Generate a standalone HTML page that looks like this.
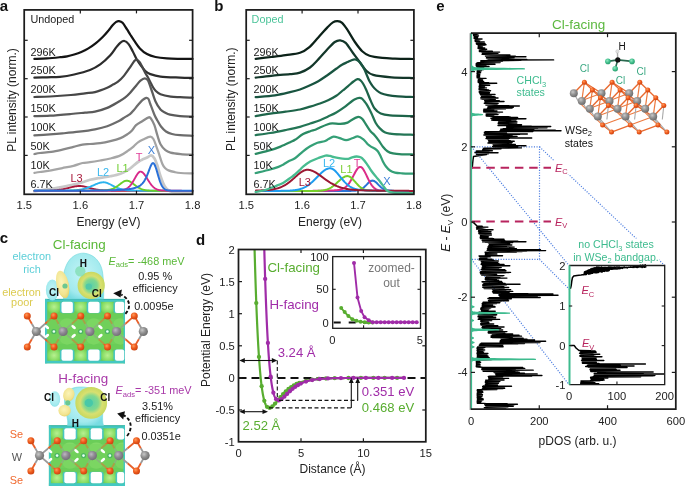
<!DOCTYPE html><html><head><meta charset="utf-8"><style>html,body{margin:0;padding:0;background:#fff;}svg{display:block;will-change:transform;}text{font-family:"Liberation Sans",sans-serif;}</style></head><body><svg width="685" height="492" viewBox="0 0 685 492" font-family="'Liberation Sans', sans-serif">
<rect width="685" height="492" fill="#fff"/>
<defs>
<radialGradient id="gW" cx="0.38" cy="0.35" r="0.7"><stop offset="0" stop-color="#c8c8c8"/><stop offset="0.5" stop-color="#8f8f8f"/><stop offset="1" stop-color="#6a6a6a"/></radialGradient>
<radialGradient id="gSe" cx="0.38" cy="0.35" r="0.7"><stop offset="0" stop-color="#ff9a5a"/><stop offset="0.5" stop-color="#ee5a1c"/><stop offset="1" stop-color="#c84010"/></radialGradient>
<radialGradient id="gCl" cx="0.38" cy="0.35" r="0.7"><stop offset="0" stop-color="#8fe8c0"/><stop offset="0.6" stop-color="#3cba88"/><stop offset="1" stop-color="#2a9a6a"/></radialGradient>
<radialGradient id="gGreen" cx="0.5" cy="0.5" r="0.6"><stop offset="0" stop-color="#b8f090"/><stop offset="0.6" stop-color="#86dc62"/><stop offset="1" stop-color="#5cc64a"/></radialGradient>
<radialGradient id="gCyan" cx="0.5" cy="0.45" r="0.6"><stop offset="0" stop-color="#c4f4f6"/><stop offset="0.75" stop-color="#a2eaee"/><stop offset="1" stop-color="#78dce2"/></radialGradient>
<radialGradient id="gYel" cx="0.45" cy="0.4" r="0.65"><stop offset="0" stop-color="#fbf4b8"/><stop offset="0.7" stop-color="#f2e490"/><stop offset="1" stop-color="#e2d066"/></radialGradient>
<radialGradient id="gRing" cx="0.5" cy="0.5" r="0.5"><stop offset="0" stop-color="#5cd0a8"/><stop offset="0.45" stop-color="#80d890"/><stop offset="0.7" stop-color="#d8e070"/><stop offset="1" stop-color="#c8d860"/></radialGradient>
<marker id="ah" viewBox="0 0 10 10" refX="9" refY="5" markerWidth="5" markerHeight="5" orient="auto-start-reverse"><path d="M0,0 L10,5 L0,10 z" fill="#111"/></marker>
</defs>
<text x="-0.3" y="10.8" font-size="15" fill="#111" text-anchor="start" font-weight="bold" font-style="normal" >a</text>
<text x="214.3" y="11" font-size="15" fill="#111" text-anchor="start" font-weight="bold" font-style="normal" >b</text>
<text x="-0.3" y="242.6" font-size="15" fill="#111" text-anchor="start" font-weight="bold" font-style="normal" >c</text>
<text x="196" y="245.3" font-size="15" fill="#111" text-anchor="start" font-weight="bold" font-style="normal" >d</text>
<text x="436.3" y="11" font-size="15" fill="#111" text-anchor="start" font-weight="bold" font-style="normal" >e</text>
<path d="M34.4,58.9 C36.5,58.82 42.73,58.68 47,58.4 C51.27,58.12 56.65,57.55 60,57.2 C63.35,56.85 64.73,56.75 67.1,56.3 C69.47,55.85 71.83,55.22 74.2,54.5 C76.57,53.78 78.93,53.02 81.3,52 C83.67,50.98 86.02,49.83 88.4,48.4 C90.78,46.97 93.22,45.3 95.6,43.4 C97.98,41.5 100.57,39.13 102.7,37 C104.83,34.87 106.75,32.57 108.4,30.6 C110.05,28.63 111.3,26.65 112.6,25.2 C113.9,23.75 115.13,22.58 116.2,21.9 C117.27,21.22 117.93,20.95 119,21.1 C120.07,21.25 121.28,21.45 122.6,22.8 C123.92,24.15 125.58,27.17 126.9,29.2 C128.22,31.23 129.28,33.1 130.5,35 C131.72,36.9 132.63,38.37 134.2,40.6 C135.77,42.83 137.77,46.15 139.9,48.4 C142.03,50.65 144.4,52.67 147,54.1 C149.6,55.53 152.18,56.28 155.5,57 C158.82,57.72 162.82,58.1 166.9,58.4 C170.98,58.7 175.73,58.72 180,58.8 C184.27,58.88 190.42,58.88 192.5,58.9" fill="none" stroke="#141414" stroke-width="2.25" stroke-linejoin="round" stroke-linecap="round" />
<path d="M34.4,77.6 C36.5,77.55 42.73,77.42 47,77.3 C51.27,77.18 55.47,77.37 60,76.9 C64.53,76.43 69.2,75.65 74.2,74.5 C79.2,73.35 85.67,71.68 90,70 C94.33,68.32 96.82,66.87 100.2,64.4 C103.58,61.93 107.6,58.08 110.3,55.2 C113,52.32 114.7,49.2 116.4,47.1 C118.1,45 119.17,43.62 120.5,42.6 C121.83,41.58 123.05,40.75 124.4,41 C125.75,41.25 127.22,42.4 128.6,44.1 C129.98,45.8 131.35,48.67 132.7,51.2 C134.05,53.73 135.48,57.1 136.7,59.3 C137.92,61.5 138.52,62.42 140,64.4 C141.48,66.38 143.88,69.58 145.6,71.2 C147.32,72.82 147.82,73.2 150.3,74.1 C152.78,75 155.55,76.02 160.5,76.6 C165.45,77.18 174.67,77.38 180,77.6 C185.33,77.82 190.42,77.85 192.5,77.9" fill="none" stroke="#2c2c2c" stroke-width="2.25" stroke-linejoin="round" stroke-linecap="round" />
<path d="M34.4,97 C37,96.92 43.92,96.83 50,96.5 C56.08,96.17 65.07,95.53 70.9,95 C76.73,94.47 80.98,93.78 85,93.3 C89.02,92.82 91.3,93.02 95,92.1 C98.7,91.18 104.2,89.05 107.2,87.8 C110.2,86.55 111.2,85.62 113,84.6 C114.8,83.58 116.15,83.2 118,81.7 C119.85,80.2 122.07,78.03 124.1,75.6 C126.13,73.17 128.57,69.43 130.2,67.1 C131.83,64.77 132.88,62.87 133.9,61.6 C134.92,60.33 135.4,59.5 136.3,59.5 C137.2,59.5 138.28,60.33 139.3,61.6 C140.32,62.87 141.38,65.17 142.4,67.1 C143.42,69.03 144.47,71.47 145.4,73.2 C146.33,74.93 147.18,76.03 148,77.5 C148.82,78.97 149.53,80.5 150.3,82 C151.07,83.5 151.75,85.08 152.6,86.5 C153.45,87.92 154.08,89.22 155.4,90.5 C156.72,91.78 157.95,93.18 160.5,94.2 C163.05,95.22 167.45,96.1 170.7,96.6 C173.95,97.1 176.37,97.03 180,97.2 C183.63,97.37 190.42,97.53 192.5,97.6" fill="none" stroke="#464646" stroke-width="2.25" stroke-linejoin="round" stroke-linecap="round" />
<path d="M34.4,116.2 C37,116.12 43.92,116.07 50,115.7 C56.08,115.33 65.07,114.52 70.9,114 C76.73,113.48 80.98,113 85,112.6 C89.02,112.2 91.3,112.38 95,111.6 C98.7,110.82 103.13,109.63 107.2,107.9 C111.27,106.17 116.43,102.92 119.4,101.2 C122.37,99.48 123.2,99.02 125,97.6 C126.8,96.18 128.32,94.73 130.2,92.7 C132.08,90.67 134.58,87.42 136.3,85.4 C138.02,83.38 139.08,81.77 140.5,80.6 C141.92,79.43 143.55,78.42 144.8,78.4 C146.05,78.38 146.93,78.73 148,80.5 C149.07,82.27 149.97,85.55 151.2,89 C152.43,92.45 153.85,97.78 155.4,101.2 C156.95,104.62 158.85,107.57 160.5,109.5 C162.15,111.43 163.72,111.93 165.3,112.8 C166.88,113.67 167.55,114.15 170,114.7 C172.45,115.25 176.25,115.78 180,116.1 C183.75,116.42 190.42,116.52 192.5,116.6" fill="none" stroke="#5a5a5a" stroke-width="2.25" stroke-linejoin="round" stroke-linecap="round" />
<path d="M34.4,135.4 C37,135.23 45.33,134.73 50,134.4 C54.67,134.07 57.55,133.85 62.4,133.4 C67.25,132.95 73.67,132.38 79.1,131.7 C84.53,131.02 90.32,130.22 95,129.3 C99.68,128.38 103.13,127.63 107.2,126.2 C111.27,124.77 116.43,122.22 119.4,120.7 C122.37,119.18 123.23,118.18 125,117.1 C126.77,116.02 128.52,115.38 130,114.2 C131.48,113.02 132.57,111.53 133.9,110 C135.23,108.47 136.58,106.63 138,105 C139.42,103.37 141.03,101.4 142.4,100.2 C143.77,99 145.18,98 146.2,97.8 C147.22,97.6 147.82,97.97 148.5,99 C149.18,100.03 149.32,101.38 150.3,104 C151.28,106.62 153.22,111.95 154.4,114.7 C155.58,117.45 156.3,118.53 157.4,120.5 C158.5,122.47 159.57,124.67 161,126.5 C162.43,128.33 164.17,130.25 166,131.5 C167.83,132.75 169.67,133.38 172,134 C174.33,134.62 176.58,134.9 180,135.2 C183.42,135.5 190.42,135.7 192.5,135.8" fill="none" stroke="#6c6c6c" stroke-width="2.25" stroke-linejoin="round" stroke-linecap="round" />
<path d="M34.4,154 C35.33,153.83 37.2,153.35 40,153 C42.8,152.65 47.47,152.47 51.2,151.9 C54.93,151.33 58.68,150.45 62.4,149.6 C66.12,148.75 70.15,147.63 73.5,146.8 C76.85,145.97 79.75,145.07 82.5,144.6 C85.25,144.13 87.05,144.23 90,144 C92.95,143.77 96.82,143.67 100.2,143.2 C103.58,142.73 106.92,142.05 110.3,141.2 C113.68,140.35 117.62,139.28 120.5,138.1 C123.38,136.92 125.68,135.37 127.6,134.1 C129.52,132.83 130.58,131.98 132,130.5 C133.42,129.02 134.4,126.75 136.1,125.2 C137.8,123.65 140.08,122.52 142.2,121.2 C144.32,119.88 147.28,117.65 148.8,117.3 C150.32,116.95 150.37,117.78 151.3,119.1 C152.23,120.42 153.38,122.48 154.4,125.2 C155.42,127.92 156.38,132.23 157.4,135.4 C158.42,138.57 159.17,141.75 160.5,144.2 C161.83,146.65 163.73,148.7 165.4,150.1 C167.07,151.5 167.95,151.93 170.5,152.6 C173.05,153.27 177.03,153.73 180.7,154.1 C184.37,154.47 190.53,154.68 192.5,154.8" fill="none" stroke="#8a8a8a" stroke-width="2.25" stroke-linejoin="round" stroke-linecap="round" />
<path d="M34.4,172.9 C35.33,172.75 37.2,172.43 40,172 C42.8,171.57 47.47,170.95 51.2,170.3 C54.93,169.65 58.68,168.85 62.4,168.1 C66.12,167.35 70.15,166.65 73.5,165.8 C76.85,164.95 79.75,163.6 82.5,163 C85.25,162.4 87.05,162.62 90,162.2 C92.95,161.78 96.82,161.12 100.2,160.5 C103.58,159.88 106.92,159.35 110.3,158.5 C113.68,157.65 117.45,156.77 120.5,155.4 C123.55,154.03 126.4,151.82 128.6,150.3 C130.8,148.78 132.13,147.63 133.7,146.3 C135.27,144.97 136.42,143.43 138,142.3 C139.58,141.17 141.15,140.45 143.2,139.5 C145.25,138.55 148.6,136.68 150.3,136.6 C152,136.52 152.38,137.33 153.4,139 C154.42,140.67 155.42,143.97 156.4,146.6 C157.38,149.23 158.3,151.9 159.3,154.8 C160.3,157.7 161.45,161.8 162.4,164 C163.35,166.2 163.98,166.93 165,168 C166.02,169.07 166.83,169.7 168.5,170.4 C170.17,171.1 172.97,171.77 175,172.2 C177.03,172.63 177.78,172.8 180.7,173 C183.62,173.2 190.53,173.33 192.5,173.4" fill="none" stroke="#a6a6a6" stroke-width="2.25" stroke-linejoin="round" stroke-linecap="round" />
<path d="M34.4,191.2 C36.67,190.9 43.73,190.03 48,189.4 C52.27,188.77 56.33,188.1 60,187.4 C63.67,186.7 66.67,185.93 70,185.2 C73.33,184.47 76.67,183.9 80,183 C83.33,182.1 86.63,180.67 90,179.8 C93.37,178.93 96.82,178.4 100.2,177.8 C103.58,177.2 106.92,176.88 110.3,176.2 C113.68,175.52 117.45,174.8 120.5,173.7 C123.55,172.6 126.23,171.12 128.6,169.6 C130.97,168.08 133,165.95 134.7,164.6 C136.4,163.25 137.58,162.3 138.8,161.5 C140.02,160.7 140.72,160.42 142,159.8 C143.28,159.18 144.97,158.53 146.5,157.8 C148.03,157.07 149.87,155.28 151.2,155.4 C152.53,155.52 153.48,156.85 154.5,158.5 C155.52,160.15 156.33,162.47 157.3,165.3 C158.27,168.13 159.12,172.1 160.3,175.5 C161.48,178.9 162.87,183.13 164.4,185.7 C165.93,188.27 166.78,189.78 169.5,190.9 C172.22,192.02 176.87,192.12 180.7,192.4 C184.53,192.68 190.53,192.57 192.5,192.6" fill="none" stroke="#c8c8c8" stroke-width="2.7" stroke-linejoin="round" stroke-linecap="round" />
<path d="M34.5,190.79 L35,190.78 L35.5,190.78 L36,190.78 L36.5,190.78 L37,190.77 L37.5,190.77 L38,190.77 L38.5,190.76 L39,190.76 L39.5,190.75 L40,190.75 L40.5,190.75 L41,190.74 L41.5,190.74 L42,190.73 L42.5,190.73 L43,190.72 L43.5,190.71 L44,190.71 L44.5,190.7 L45,190.69 L45.5,190.68 L46,190.67 L46.5,190.66 L47,190.65 L47.5,190.64 L48,190.63 L48.5,190.61 L49,190.6 L49.5,190.58 L50,190.56 L50.5,190.55 L51,190.52 L51.5,190.5 L52,190.48 L52.5,190.45 L53,190.42 L53.5,190.39 L54,190.36 L54.5,190.32 L55,190.28 L55.5,190.24 L56,190.2 L56.5,190.15 L57,190.1 L57.5,190.05 L58,189.99 L58.5,189.93 L59,189.87 L59.5,189.8 L60,189.73 L60.5,189.65 L61,189.57 L61.5,189.49 L62,189.4 L62.5,189.31 L63,189.21 L63.5,189.12 L64,189.01 L64.5,188.91 L65,188.8 L65.5,188.68 L66,188.57 L66.5,188.45 L67,188.33 L67.5,188.21 L68,188.08 L68.5,187.96 L69,187.83 L69.5,187.7 L70,187.57 L70.5,187.45 L71,187.32 L71.5,187.2 L72,187.07 L72.5,186.95 L73,186.84 L73.5,186.73 L74,186.62 L74.5,186.52 L75,186.43 L75.5,186.34 L76,186.27 L76.5,186.2 L77,186.14 L77.5,186.09 L78,186.05 L78.5,186.02 L79,186.01 L79.5,186 L80,186.01 L80.5,186.03 L81,186.06 L81.5,186.11 L82,186.16 L82.5,186.23 L83,186.31 L83.5,186.4 L84,186.5 L84.5,186.61 L85,186.72 L85.5,186.84 L86,186.96 L86.5,187.09 L87,187.23 L87.5,187.36 L88,187.5 L88.5,187.64 L89,187.77 L89.5,187.91 L90,188.05 L90.5,188.19 L91,188.32 L91.5,188.45 L92,188.58 L92.5,188.7 L93,188.82 L93.5,188.94 L94,189.06 L94.5,189.17 L95,189.27 L95.5,189.37 L96,189.47 L96.5,189.56 L97,189.64 L97.5,189.73 L98,189.8 L98.5,189.88 L99,189.95 L99.5,190.01 L100,190.07 L100.5,190.13 L101,190.18 L101.5,190.23 L102,190.27 L102.5,190.32 L103,190.36 L103.5,190.39 L104,190.42 L104.5,190.46 L105,190.48 L105.5,190.51 L106,190.53 L106.5,190.55 L107,190.57 L107.5,190.59 L108,190.61 L108.5,190.63 L109,190.64 L109.5,190.65 L110,190.66 L110.5,190.67 L111,190.68 L111.5,190.69 L112,190.7 L112.5,190.71 L113,190.72 L113.5,190.72 L114,190.73 L114.5,190.74 L115,190.74 L115.5,190.75 L116,190.75 L116.5,190.76 L117,190.76 L117.5,190.76 L118,190.77 L118.5,190.77 L119,190.77 L119.5,190.78 L120,190.78 L120.5,190.78 L121,190.79 L121.5,190.79 L122,190.79 L122.5,190.79 L123,190.8 L123.5,190.8 L124,190.8 L124.5,190.8 L125,190.8 L125.5,190.81 L126,190.81 L126.5,190.81 L127,190.81 L127.5,190.81 L128,190.82 L128.5,190.82 L129,190.82 L129.5,190.82 L130,190.82 L130.5,190.82 L131,190.82 L131.5,190.83 L132,190.83 L132.5,190.83 L133,190.83 L133.5,190.83 L134,190.83 L134.5,190.83 L135,190.83 L135.5,190.84 L136,190.84 L136.5,190.84 L137,190.84 L137.5,190.84 L138,190.84 L138.5,190.84 L139,190.84 L139.5,190.84 L140,190.84 L140.5,190.85 L141,190.85 L141.5,190.85 L142,190.85 L142.5,190.85 L143,190.85 L143.5,190.85 L144,190.85 L144.5,190.85 L145,190.85 L145.5,190.85 L146,190.85 L146.5,190.85 L147,190.85 L147.5,190.86 L148,190.86 L148.5,190.86 L149,190.86 L149.5,190.86 L150,190.86 L150.5,190.86 L151,190.86 L151.5,190.86 L152,190.86 L152.5,190.86 L153,190.86 L153.5,190.86 L154,190.86 L154.5,190.86 L155,190.86 L155.5,190.86 L156,190.86 L156.5,190.87 L157,190.87 L157.5,190.87 L158,190.87 L158.5,190.87 L159,190.87 L159.5,190.87 L160,190.87 L160.5,190.87 L161,190.87 L161.5,190.87 L162,190.87 L162.5,190.87 L163,190.87 L163.5,190.87 L164,190.87 L164.5,190.87 L165,190.87 L165.5,190.87 L166,190.87 L166.5,190.87 L167,190.87 L167.5,190.87 L168,190.87 L168.5,190.87 L169,190.87 L169.5,190.87 L170,190.87 L170.5,190.87 L171,190.88 L171.5,190.88 L172,190.88 L172.5,190.88 L173,190.88 L173.5,190.88 L174,190.88 L174.5,190.88 L175,190.88 L175.5,190.88 L176,190.88 L176.5,190.88 L177,190.88 L177.5,190.88 L178,190.88 L178.5,190.88 L179,190.88 L179.5,190.88 L180,190.88 L180.5,190.88 L181,190.88 L181.5,190.88 L182,190.88 L182.5,190.88 L183,190.88 L183.5,190.88 L184,190.88 L184.5,190.88 L185,190.88 L185.5,190.88 L186,190.88 L186.5,190.88 L187,190.88 L187.5,190.88 L188,190.88 L188.5,190.88 L189,190.88 L189.5,190.88 L190,190.88 L190.5,190.88 L191,190.88 L191.5,190.88 L192,190.88 L192.5,190.88" fill="none" stroke="#a8183a" stroke-width="1.9" stroke-linejoin="round" stroke-linecap="round" />
<path d="M34.5,190.81 L35,190.81 L35.5,190.81 L36,190.81 L36.5,190.81 L37,190.81 L37.5,190.8 L38,190.8 L38.5,190.8 L39,190.8 L39.5,190.8 L40,190.8 L40.5,190.79 L41,190.79 L41.5,190.79 L42,190.79 L42.5,190.79 L43,190.79 L43.5,190.78 L44,190.78 L44.5,190.78 L45,190.78 L45.5,190.78 L46,190.77 L46.5,190.77 L47,190.77 L47.5,190.77 L48,190.77 L48.5,190.76 L49,190.76 L49.5,190.76 L50,190.76 L50.5,190.75 L51,190.75 L51.5,190.75 L52,190.75 L52.5,190.74 L53,190.74 L53.5,190.74 L54,190.73 L54.5,190.73 L55,190.73 L55.5,190.72 L56,190.72 L56.5,190.72 L57,190.71 L57.5,190.71 L58,190.7 L58.5,190.7 L59,190.7 L59.5,190.69 L60,190.69 L60.5,190.68 L61,190.68 L61.5,190.67 L62,190.66 L62.5,190.66 L63,190.65 L63.5,190.65 L64,190.64 L64.5,190.63 L65,190.62 L65.5,190.61 L66,190.6 L66.5,190.59 L67,190.58 L67.5,190.57 L68,190.56 L68.5,190.55 L69,190.53 L69.5,190.52 L70,190.5 L70.5,190.48 L71,190.47 L71.5,190.44 L72,190.42 L72.5,190.4 L73,190.37 L73.5,190.34 L74,190.31 L74.5,190.28 L75,190.24 L75.5,190.2 L76,190.16 L76.5,190.11 L77,190.06 L77.5,190.01 L78,189.95 L78.5,189.89 L79,189.82 L79.5,189.75 L80,189.67 L80.5,189.59 L81,189.5 L81.5,189.41 L82,189.31 L82.5,189.2 L83,189.09 L83.5,188.97 L84,188.84 L84.5,188.71 L85,188.57 L85.5,188.42 L86,188.27 L86.5,188.11 L87,187.94 L87.5,187.77 L88,187.59 L88.5,187.4 L89,187.21 L89.5,187.01 L90,186.81 L90.5,186.6 L91,186.39 L91.5,186.17 L92,185.95 L92.5,185.73 L93,185.51 L93.5,185.28 L94,185.06 L94.5,184.84 L95,184.62 L95.5,184.4 L96,184.18 L96.5,183.98 L97,183.77 L97.5,183.58 L98,183.39 L98.5,183.22 L99,183.06 L99.5,182.91 L100,182.77 L100.5,182.65 L101,182.54 L101.5,182.46 L102,182.39 L102.5,182.34 L103,182.31 L103.5,182.3 L104,182.31 L104.5,182.36 L105,182.42 L105.5,182.52 L106,182.64 L106.5,182.78 L107,182.95 L107.5,183.13 L108,183.33 L108.5,183.55 L109,183.77 L109.5,184.01 L110,184.26 L110.5,184.52 L111,184.78 L111.5,185.04 L112,185.3 L112.5,185.57 L113,185.83 L113.5,186.09 L114,186.35 L114.5,186.6 L115,186.85 L115.5,187.08 L116,187.31 L116.5,187.54 L117,187.75 L117.5,187.96 L118,188.15 L118.5,188.34 L119,188.52 L119.5,188.68 L120,188.84 L120.5,188.99 L121,189.13 L121.5,189.26 L122,189.38 L122.5,189.49 L123,189.6 L123.5,189.69 L124,189.78 L124.5,189.86 L125,189.94 L125.5,190.01 L126,190.07 L126.5,190.13 L127,190.18 L127.5,190.23 L128,190.27 L128.5,190.31 L129,190.35 L129.5,190.38 L130,190.41 L130.5,190.44 L131,190.47 L131.5,190.49 L132,190.51 L132.5,190.53 L133,190.54 L133.5,190.56 L134,190.57 L134.5,190.59 L135,190.6 L135.5,190.61 L136,190.62 L136.5,190.63 L137,190.64 L137.5,190.65 L138,190.66 L138.5,190.66 L139,190.67 L139.5,190.68 L140,190.68 L140.5,190.69 L141,190.69 L141.5,190.7 L142,190.7 L142.5,190.71 L143,190.71 L143.5,190.72 L144,190.72 L144.5,190.73 L145,190.73 L145.5,190.73 L146,190.74 L146.5,190.74 L147,190.74 L147.5,190.75 L148,190.75 L148.5,190.75 L149,190.76 L149.5,190.76 L150,190.76 L150.5,190.77 L151,190.77 L151.5,190.77 L152,190.77 L152.5,190.78 L153,190.78 L153.5,190.78 L154,190.78 L154.5,190.79 L155,190.79 L155.5,190.79 L156,190.79 L156.5,190.79 L157,190.8 L157.5,190.8 L158,190.8 L158.5,190.8 L159,190.8 L159.5,190.8 L160,190.81 L160.5,190.81 L161,190.81 L161.5,190.81 L162,190.81 L162.5,190.81 L163,190.81 L163.5,190.82 L164,190.82 L164.5,190.82 L165,190.82 L165.5,190.82 L166,190.82 L166.5,190.82 L167,190.82 L167.5,190.83 L168,190.83 L168.5,190.83 L169,190.83 L169.5,190.83 L170,190.83 L170.5,190.83 L171,190.83 L171.5,190.83 L172,190.84 L172.5,190.84 L173,190.84 L173.5,190.84 L174,190.84 L174.5,190.84 L175,190.84 L175.5,190.84 L176,190.84 L176.5,190.84 L177,190.84 L177.5,190.84 L178,190.84 L178.5,190.85 L179,190.85 L179.5,190.85 L180,190.85 L180.5,190.85 L181,190.85 L181.5,190.85 L182,190.85 L182.5,190.85 L183,190.85 L183.5,190.85 L184,190.85 L184.5,190.85 L185,190.85 L185.5,190.85 L186,190.85 L186.5,190.86 L187,190.86 L187.5,190.86 L188,190.86 L188.5,190.86 L189,190.86 L189.5,190.86 L190,190.86 L190.5,190.86 L191,190.86 L191.5,190.86 L192,190.86 L192.5,190.86" fill="none" stroke="#2bb3ee" stroke-width="1.9" stroke-linejoin="round" stroke-linecap="round" />
<path d="M34.5,190.87 L35,190.87 L35.5,190.87 L36,190.87 L36.5,190.87 L37,190.87 L37.5,190.87 L38,190.87 L38.5,190.87 L39,190.87 L39.5,190.87 L40,190.87 L40.5,190.87 L41,190.87 L41.5,190.87 L42,190.87 L42.5,190.87 L43,190.87 L43.5,190.86 L44,190.86 L44.5,190.86 L45,190.86 L45.5,190.86 L46,190.86 L46.5,190.86 L47,190.86 L47.5,190.86 L48,190.86 L48.5,190.86 L49,190.86 L49.5,190.86 L50,190.86 L50.5,190.86 L51,190.86 L51.5,190.86 L52,190.86 L52.5,190.86 L53,190.86 L53.5,190.85 L54,190.85 L54.5,190.85 L55,190.85 L55.5,190.85 L56,190.85 L56.5,190.85 L57,190.85 L57.5,190.85 L58,190.85 L58.5,190.85 L59,190.85 L59.5,190.85 L60,190.85 L60.5,190.84 L61,190.84 L61.5,190.84 L62,190.84 L62.5,190.84 L63,190.84 L63.5,190.84 L64,190.84 L64.5,190.84 L65,190.84 L65.5,190.84 L66,190.83 L66.5,190.83 L67,190.83 L67.5,190.83 L68,190.83 L68.5,190.83 L69,190.83 L69.5,190.83 L70,190.83 L70.5,190.82 L71,190.82 L71.5,190.82 L72,190.82 L72.5,190.82 L73,190.82 L73.5,190.82 L74,190.81 L74.5,190.81 L75,190.81 L75.5,190.81 L76,190.81 L76.5,190.81 L77,190.8 L77.5,190.8 L78,190.8 L78.5,190.8 L79,190.8 L79.5,190.79 L80,190.79 L80.5,190.79 L81,190.79 L81.5,190.78 L82,190.78 L82.5,190.78 L83,190.78 L83.5,190.77 L84,190.77 L84.5,190.77 L85,190.76 L85.5,190.76 L86,190.76 L86.5,190.75 L87,190.75 L87.5,190.75 L88,190.74 L88.5,190.74 L89,190.74 L89.5,190.73 L90,190.73 L90.5,190.72 L91,190.72 L91.5,190.71 L92,190.71 L92.5,190.7 L93,190.7 L93.5,190.69 L94,190.69 L94.5,190.68 L95,190.67 L95.5,190.66 L96,190.66 L96.5,190.65 L97,190.64 L97.5,190.63 L98,190.62 L98.5,190.61 L99,190.6 L99.5,190.59 L100,190.57 L100.5,190.56 L101,190.54 L101.5,190.53 L102,190.51 L102.5,190.49 L103,190.46 L103.5,190.43 L104,190.4 L104.5,190.37 L105,190.33 L105.5,190.29 L106,190.24 L106.5,190.19 L107,190.13 L107.5,190.06 L108,189.98 L108.5,189.9 L109,189.8 L109.5,189.7 L110,189.58 L110.5,189.45 L111,189.31 L111.5,189.15 L112,188.98 L112.5,188.79 L113,188.59 L113.5,188.37 L114,188.13 L114.5,187.88 L115,187.61 L115.5,187.32 L116,187.01 L116.5,186.69 L117,186.36 L117.5,186.01 L118,185.66 L118.5,185.29 L119,184.91 L119.5,184.53 L120,184.15 L120.5,183.76 L121,183.38 L121.5,183.01 L122,182.66 L122.5,182.31 L123,181.99 L123.5,181.7 L124,181.43 L124.5,181.2 L125,181.01 L125.5,180.87 L126,180.76 L126.5,180.71 L127,180.7 L127.5,180.75 L128,180.83 L128.5,180.96 L129,181.14 L129.5,181.35 L130,181.6 L130.5,181.88 L131,182.19 L131.5,182.52 L132,182.87 L132.5,183.24 L133,183.62 L133.5,184.01 L134,184.4 L134.5,184.8 L135,185.19 L135.5,185.57 L136,185.95 L136.5,186.32 L137,186.67 L137.5,187.01 L138,187.34 L138.5,187.64 L139,187.93 L139.5,188.21 L140,188.46 L140.5,188.7 L141,188.92 L141.5,189.12 L142,189.3 L142.5,189.47 L143,189.62 L143.5,189.76 L144,189.88 L144.5,189.99 L145,190.09 L145.5,190.18 L146,190.25 L146.5,190.32 L147,190.38 L147.5,190.44 L148,190.48 L148.5,190.52 L149,190.56 L149.5,190.59 L150,190.61 L150.5,190.64 L151,190.66 L151.5,190.67 L152,190.69 L152.5,190.7 L153,190.71 L153.5,190.72 L154,190.73 L154.5,190.74 L155,190.75 L155.5,190.76 L156,190.76 L156.5,190.77 L157,190.77 L157.5,190.78 L158,190.78 L158.5,190.78 L159,190.79 L159.5,190.79 L160,190.79 L160.5,190.8 L161,190.8 L161.5,190.8 L162,190.81 L162.5,190.81 L163,190.81 L163.5,190.81 L164,190.82 L164.5,190.82 L165,190.82 L165.5,190.82 L166,190.82 L166.5,190.83 L167,190.83 L167.5,190.83 L168,190.83 L168.5,190.83 L169,190.83 L169.5,190.83 L170,190.84 L170.5,190.84 L171,190.84 L171.5,190.84 L172,190.84 L172.5,190.84 L173,190.84 L173.5,190.85 L174,190.85 L174.5,190.85 L175,190.85 L175.5,190.85 L176,190.85 L176.5,190.85 L177,190.85 L177.5,190.85 L178,190.85 L178.5,190.85 L179,190.86 L179.5,190.86 L180,190.86 L180.5,190.86 L181,190.86 L181.5,190.86 L182,190.86 L182.5,190.86 L183,190.86 L183.5,190.86 L184,190.86 L184.5,190.86 L185,190.86 L185.5,190.86 L186,190.87 L186.5,190.87 L187,190.87 L187.5,190.87 L188,190.87 L188.5,190.87 L189,190.87 L189.5,190.87 L190,190.87 L190.5,190.87 L191,190.87 L191.5,190.87 L192,190.87 L192.5,190.87" fill="none" stroke="#69cf2a" stroke-width="1.9" stroke-linejoin="round" stroke-linecap="round" />
<path d="M34.5,190.87 L35,190.87 L35.5,190.87 L36,190.87 L36.5,190.87 L37,190.87 L37.5,190.87 L38,190.87 L38.5,190.87 L39,190.87 L39.5,190.87 L40,190.87 L40.5,190.87 L41,190.87 L41.5,190.87 L42,190.87 L42.5,190.87 L43,190.87 L43.5,190.87 L44,190.87 L44.5,190.87 L45,190.87 L45.5,190.87 L46,190.87 L46.5,190.87 L47,190.86 L47.5,190.86 L48,190.86 L48.5,190.86 L49,190.86 L49.5,190.86 L50,190.86 L50.5,190.86 L51,190.86 L51.5,190.86 L52,190.86 L52.5,190.86 L53,190.86 L53.5,190.86 L54,190.86 L54.5,190.86 L55,190.86 L55.5,190.86 L56,190.86 L56.5,190.86 L57,190.86 L57.5,190.86 L58,190.86 L58.5,190.85 L59,190.85 L59.5,190.85 L60,190.85 L60.5,190.85 L61,190.85 L61.5,190.85 L62,190.85 L62.5,190.85 L63,190.85 L63.5,190.85 L64,190.85 L64.5,190.85 L65,190.85 L65.5,190.85 L66,190.84 L66.5,190.84 L67,190.84 L67.5,190.84 L68,190.84 L68.5,190.84 L69,190.84 L69.5,190.84 L70,190.84 L70.5,190.84 L71,190.84 L71.5,190.84 L72,190.83 L72.5,190.83 L73,190.83 L73.5,190.83 L74,190.83 L74.5,190.83 L75,190.83 L75.5,190.83 L76,190.83 L76.5,190.83 L77,190.82 L77.5,190.82 L78,190.82 L78.5,190.82 L79,190.82 L79.5,190.82 L80,190.82 L80.5,190.82 L81,190.81 L81.5,190.81 L82,190.81 L82.5,190.81 L83,190.81 L83.5,190.81 L84,190.8 L84.5,190.8 L85,190.8 L85.5,190.8 L86,190.8 L86.5,190.8 L87,190.79 L87.5,190.79 L88,190.79 L88.5,190.79 L89,190.79 L89.5,190.78 L90,190.78 L90.5,190.78 L91,190.78 L91.5,190.77 L92,190.77 L92.5,190.77 L93,190.77 L93.5,190.76 L94,190.76 L94.5,190.76 L95,190.75 L95.5,190.75 L96,190.75 L96.5,190.74 L97,190.74 L97.5,190.74 L98,190.73 L98.5,190.73 L99,190.73 L99.5,190.72 L100,190.72 L100.5,190.71 L101,190.71 L101.5,190.7 L102,190.7 L102.5,190.69 L103,190.69 L103.5,190.68 L104,190.68 L104.5,190.67 L105,190.67 L105.5,190.66 L106,190.65 L106.5,190.64 L107,190.64 L107.5,190.63 L108,190.62 L108.5,190.61 L109,190.6 L109.5,190.6 L110,190.59 L110.5,190.58 L111,190.57 L111.5,190.55 L112,190.54 L112.5,190.53 L113,190.52 L113.5,190.5 L114,190.49 L114.5,190.47 L115,190.46 L115.5,190.44 L116,190.42 L116.5,190.4 L117,190.38 L117.5,190.36 L118,190.33 L118.5,190.3 L119,190.27 L119.5,190.23 L120,190.19 L120.5,190.14 L121,190.09 L121.5,190.03 L122,189.96 L122.5,189.88 L123,189.79 L123.5,189.68 L124,189.56 L124.5,189.42 L125,189.26 L125.5,189.07 L126,188.85 L126.5,188.61 L127,188.33 L127.5,188.01 L128,187.66 L128.5,187.26 L129,186.82 L129.5,186.33 L130,185.79 L130.5,185.21 L131,184.57 L131.5,183.89 L132,183.16 L132.5,182.39 L133,181.58 L133.5,180.74 L134,179.87 L134.5,178.99 L135,178.09 L135.5,177.2 L136,176.32 L136.5,175.48 L137,174.67 L137.5,173.93 L138,173.26 L138.5,172.69 L139,172.22 L139.5,171.88 L140,171.67 L140.5,171.6 L141,171.65 L141.5,171.8 L142,172.05 L142.5,172.39 L143,172.82 L143.5,173.33 L144,173.91 L144.5,174.55 L145,175.24 L145.5,175.98 L146,176.75 L146.5,177.54 L147,178.35 L147.5,179.16 L148,179.97 L148.5,180.78 L149,181.56 L149.5,182.32 L150,183.06 L150.5,183.76 L151,184.43 L151.5,185.06 L152,185.65 L152.5,186.2 L153,186.7 L153.5,187.17 L154,187.59 L154.5,187.98 L155,188.33 L155.5,188.64 L156,188.92 L156.5,189.17 L157,189.39 L157.5,189.58 L158,189.75 L158.5,189.89 L159,190.02 L159.5,190.13 L160,190.23 L160.5,190.31 L161,190.38 L161.5,190.43 L162,190.48 L162.5,190.53 L163,190.56 L163.5,190.59 L164,190.62 L164.5,190.64 L165,190.66 L165.5,190.68 L166,190.69 L166.5,190.7 L167,190.71 L167.5,190.72 L168,190.73 L168.5,190.74 L169,190.74 L169.5,190.75 L170,190.76 L170.5,190.76 L171,190.77 L171.5,190.77 L172,190.77 L172.5,190.78 L173,190.78 L173.5,190.78 L174,190.79 L174.5,190.79 L175,190.79 L175.5,190.8 L176,190.8 L176.5,190.8 L177,190.81 L177.5,190.81 L178,190.81 L178.5,190.81 L179,190.81 L179.5,190.82 L180,190.82 L180.5,190.82 L181,190.82 L181.5,190.82 L182,190.83 L182.5,190.83 L183,190.83 L183.5,190.83 L184,190.83 L184.5,190.83 L185,190.84 L185.5,190.84 L186,190.84 L186.5,190.84 L187,190.84 L187.5,190.84 L188,190.84 L188.5,190.84 L189,190.85 L189.5,190.85 L190,190.85 L190.5,190.85 L191,190.85 L191.5,190.85 L192,190.85 L192.5,190.85" fill="none" stroke="#d8288a" stroke-width="1.9" stroke-linejoin="round" stroke-linecap="round" />
<path d="M34.5,190.82 L35,190.82 L35.5,190.82 L36,190.82 L36.5,190.82 L37,190.82 L37.5,190.82 L38,190.82 L38.5,190.82 L39,190.82 L39.5,190.82 L40,190.81 L40.5,190.81 L41,190.81 L41.5,190.81 L42,190.81 L42.5,190.81 L43,190.81 L43.5,190.81 L44,190.81 L44.5,190.81 L45,190.81 L45.5,190.81 L46,190.81 L46.5,190.8 L47,190.8 L47.5,190.8 L48,190.8 L48.5,190.8 L49,190.8 L49.5,190.8 L50,190.8 L50.5,190.8 L51,190.8 L51.5,190.79 L52,190.79 L52.5,190.79 L53,190.79 L53.5,190.79 L54,190.79 L54.5,190.79 L55,190.79 L55.5,190.79 L56,190.78 L56.5,190.78 L57,190.78 L57.5,190.78 L58,190.78 L58.5,190.78 L59,190.78 L59.5,190.78 L60,190.77 L60.5,190.77 L61,190.77 L61.5,190.77 L62,190.77 L62.5,190.77 L63,190.77 L63.5,190.76 L64,190.76 L64.5,190.76 L65,190.76 L65.5,190.76 L66,190.76 L66.5,190.76 L67,190.75 L67.5,190.75 L68,190.75 L68.5,190.75 L69,190.75 L69.5,190.74 L70,190.74 L70.5,190.74 L71,190.74 L71.5,190.74 L72,190.73 L72.5,190.73 L73,190.73 L73.5,190.73 L74,190.73 L74.5,190.72 L75,190.72 L75.5,190.72 L76,190.72 L76.5,190.72 L77,190.71 L77.5,190.71 L78,190.71 L78.5,190.71 L79,190.7 L79.5,190.7 L80,190.7 L80.5,190.69 L81,190.69 L81.5,190.69 L82,190.69 L82.5,190.68 L83,190.68 L83.5,190.68 L84,190.67 L84.5,190.67 L85,190.67 L85.5,190.66 L86,190.66 L86.5,190.66 L87,190.65 L87.5,190.65 L88,190.64 L88.5,190.64 L89,190.64 L89.5,190.63 L90,190.63 L90.5,190.62 L91,190.62 L91.5,190.62 L92,190.61 L92.5,190.61 L93,190.6 L93.5,190.6 L94,190.59 L94.5,190.59 L95,190.58 L95.5,190.57 L96,190.57 L96.5,190.56 L97,190.56 L97.5,190.55 L98,190.54 L98.5,190.54 L99,190.53 L99.5,190.52 L100,190.52 L100.5,190.51 L101,190.5 L101.5,190.5 L102,190.49 L102.5,190.48 L103,190.47 L103.5,190.46 L104,190.45 L104.5,190.45 L105,190.44 L105.5,190.43 L106,190.42 L106.5,190.41 L107,190.4 L107.5,190.38 L108,190.37 L108.5,190.36 L109,190.35 L109.5,190.34 L110,190.32 L110.5,190.31 L111,190.3 L111.5,190.28 L112,190.27 L112.5,190.25 L113,190.24 L113.5,190.22 L114,190.2 L114.5,190.19 L115,190.17 L115.5,190.15 L116,190.13 L116.5,190.11 L117,190.09 L117.5,190.06 L118,190.04 L118.5,190.02 L119,189.99 L119.5,189.97 L120,189.94 L120.5,189.91 L121,189.88 L121.5,189.85 L122,189.82 L122.5,189.78 L123,189.74 L123.5,189.71 L124,189.67 L124.5,189.63 L125,189.58 L125.5,189.54 L126,189.49 L126.5,189.44 L127,189.39 L127.5,189.33 L128,189.27 L128.5,189.21 L129,189.14 L129.5,189.07 L130,189 L130.5,188.92 L131,188.83 L131.5,188.74 L132,188.65 L132.5,188.55 L133,188.44 L133.5,188.32 L134,188.2 L134.5,188.06 L135,187.92 L135.5,187.76 L136,187.59 L136.5,187.41 L137,187.21 L137.5,187 L138,186.76 L138.5,186.51 L139,186.23 L139.5,185.92 L140,185.58 L140.5,185.21 L141,184.81 L141.5,184.36 L142,183.87 L142.5,183.33 L143,182.74 L143.5,182.09 L144,181.38 L144.5,180.61 L145,179.76 L145.5,178.84 L146,177.85 L146.5,176.78 L147,175.63 L147.5,174.42 L148,173.14 L148.5,171.81 L149,170.45 L149.5,169.08 L150,167.76 L150.5,166.5 L151,165.38 L151.5,164.43 L152,163.71 L152.5,163.25 L153,163.1 L153.5,163.26 L154,163.73 L154.5,164.5 L155,165.53 L155.5,166.79 L156,168.23 L156.5,169.82 L157,171.49 L157.5,173.22 L158,174.95 L158.5,176.66 L159,178.32 L159.5,179.88 L160,181.34 L160.5,182.69 L161,183.91 L161.5,184.99 L162,185.95 L162.5,186.78 L163,187.49 L163.5,188.1 L164,188.6 L164.5,189.02 L165,189.37 L165.5,189.64 L166,189.87 L166.5,190.05 L167,190.19 L167.5,190.3 L168,190.39 L168.5,190.46 L169,190.51 L169.5,190.55 L170,190.59 L170.5,190.61 L171,190.64 L171.5,190.65 L172,190.67 L172.5,190.68 L173,190.69 L173.5,190.7 L174,190.71 L174.5,190.72 L175,190.73 L175.5,190.74 L176,190.74 L176.5,190.75 L177,190.76 L177.5,190.76 L178,190.77 L178.5,190.77 L179,190.78 L179.5,190.78 L180,190.79 L180.5,190.79 L181,190.79 L181.5,190.8 L182,190.8 L182.5,190.8 L183,190.81 L183.5,190.81 L184,190.81 L184.5,190.81 L185,190.82 L185.5,190.82 L186,190.82 L186.5,190.82 L187,190.83 L187.5,190.83 L188,190.83 L188.5,190.83 L189,190.83 L189.5,190.84 L190,190.84 L190.5,190.84 L191,190.84 L191.5,190.84 L192,190.84 L192.5,190.85" fill="none" stroke="#2a70d8" stroke-width="2.0" stroke-linejoin="round" stroke-linecap="round" />
<rect x="24.2" y="9.9" width="168.4" height="184.4" fill="none" stroke="#1c1c1c" stroke-width="1.75"/>
<line x1="80.33" y1="9.9" x2="80.33" y2="13.4" stroke="#1c1c1c" stroke-width="1.2" />
<line x1="80.33" y1="194.3" x2="80.33" y2="190.8" stroke="#1c1c1c" stroke-width="1.2" />
<line x1="136.47" y1="9.9" x2="136.47" y2="13.4" stroke="#1c1c1c" stroke-width="1.2" />
<line x1="136.47" y1="194.3" x2="136.47" y2="190.8" stroke="#1c1c1c" stroke-width="1.2" />
<line x1="24.2" y1="40.3" x2="27.7" y2="40.3" stroke="#1c1c1c" stroke-width="1.2" />
<line x1="192.6" y1="40.3" x2="189.1" y2="40.3" stroke="#1c1c1c" stroke-width="1.2" />
<line x1="24.2" y1="78.7" x2="27.7" y2="78.7" stroke="#1c1c1c" stroke-width="1.2" />
<line x1="192.6" y1="78.7" x2="189.1" y2="78.7" stroke="#1c1c1c" stroke-width="1.2" />
<line x1="24.2" y1="117" x2="27.7" y2="117" stroke="#1c1c1c" stroke-width="1.2" />
<line x1="192.6" y1="117" x2="189.1" y2="117" stroke="#1c1c1c" stroke-width="1.2" />
<line x1="24.2" y1="155.4" x2="27.7" y2="155.4" stroke="#1c1c1c" stroke-width="1.2" />
<line x1="192.6" y1="155.4" x2="189.1" y2="155.4" stroke="#1c1c1c" stroke-width="1.2" />
<text x="24.2" y="208.8" font-size="11.2" fill="#222" text-anchor="middle" font-weight="normal" font-style="normal" >1.5</text>
<text x="80.33" y="208.8" font-size="11.2" fill="#222" text-anchor="middle" font-weight="normal" font-style="normal" >1.6</text>
<text x="136.47" y="208.8" font-size="11.2" fill="#222" text-anchor="middle" font-weight="normal" font-style="normal" >1.7</text>
<text x="192.6" y="208.8" font-size="11.2" fill="#222" text-anchor="middle" font-weight="normal" font-style="normal" >1.8</text>
<text x="108.4" y="225.8" font-size="12" fill="#222" text-anchor="middle" font-weight="normal" font-style="normal" >Energy (eV)</text>
<text transform="translate(15.8,100) rotate(-90)" font-size="12" fill="#222" text-anchor="middle">PL intensity (norm.)</text>
<text x="30.4" y="23.2" font-size="10.8" fill="#222" text-anchor="start" font-weight="normal" font-style="normal" >Undoped</text>
<text x="30.6" y="55.5" font-size="10.8" fill="#1a1a1a" text-anchor="start" font-weight="normal" font-style="normal" >296K</text>
<text x="30.6" y="74.4" font-size="10.8" fill="#1a1a1a" text-anchor="start" font-weight="normal" font-style="normal" >250K</text>
<text x="30.6" y="93.3" font-size="10.8" fill="#1a1a1a" text-anchor="start" font-weight="normal" font-style="normal" >200K</text>
<text x="30.6" y="112.2" font-size="10.8" fill="#1a1a1a" text-anchor="start" font-weight="normal" font-style="normal" >150K</text>
<text x="30.6" y="131.1" font-size="10.8" fill="#1a1a1a" text-anchor="start" font-weight="normal" font-style="normal" >100K</text>
<text x="30.6" y="150" font-size="10.8" fill="#1a1a1a" text-anchor="start" font-weight="normal" font-style="normal" >50K</text>
<text x="30.6" y="168.9" font-size="10.8" fill="#1a1a1a" text-anchor="start" font-weight="normal" font-style="normal" >10K</text>
<text x="30.6" y="187.8" font-size="10.8" fill="#1a1a1a" text-anchor="start" font-weight="normal" font-style="normal" >6.7K</text>
<text x="76.5" y="181.5" font-size="11" fill="#a8183a" text-anchor="middle" font-weight="normal" font-style="normal" >L3</text>
<text x="103" y="175.8" font-size="11" fill="#3ab8ee" text-anchor="middle" font-weight="normal" font-style="normal" >L2</text>
<text x="122.5" y="171.7" font-size="11" fill="#72cf35" text-anchor="middle" font-weight="normal" font-style="normal" >L1</text>
<text x="139.2" y="161.1" font-size="11" fill="#e0409a" text-anchor="middle" font-weight="normal" font-style="normal" >T</text>
<text x="151.4" y="153.6" font-size="11" fill="#3a7fd8" text-anchor="middle" font-weight="normal" font-style="normal" >X</text>
<path d="M255.7,58.8 C258.3,58.5 266.32,57.6 271.3,57 C276.28,56.4 280.82,55.9 285.6,55.2 C290.38,54.5 296.08,54.12 300,52.8 C303.92,51.48 306.05,49.87 309.1,47.3 C312.15,44.73 315.25,40.72 318.3,37.4 C321.35,34.08 324.97,29.9 327.4,27.4 C329.83,24.9 331.22,23.43 332.9,22.4 C334.58,21.37 335.97,21.13 337.5,21.2 C339.03,21.27 340.42,21.32 342.1,22.8 C343.78,24.28 345.47,26.9 347.6,30.1 C349.73,33.3 352.47,38.48 354.9,42 C357.33,45.52 359.77,48.92 362.2,51.2 C364.63,53.48 366.15,54.58 369.5,55.7 C372.85,56.82 378.05,57.42 382.3,57.9 C386.55,58.38 389.8,58.42 395,58.6 C400.2,58.78 410.42,58.93 413.5,59" fill="none" stroke="#0c2219" stroke-width="2.25" stroke-linejoin="round" stroke-linecap="round" />
<path d="M255.7,77.6 C258.3,77.3 265.58,76.38 271.3,75.8 C277.02,75.22 285.22,74.63 290,74.1 C294.78,73.57 296.67,73.7 300,72.6 C303.33,71.5 306.95,69.7 310,67.5 C313.05,65.3 315.4,62.43 318.3,59.4 C321.2,56.37 324.65,52.2 327.4,49.3 C330.15,46.4 332.67,43.5 334.8,42 C336.93,40.5 338.38,40.15 340.2,40.3 C342.02,40.45 343.57,40.78 345.7,42.9 C347.83,45.02 350.55,49.65 353,53 C355.45,56.35 358.25,60.13 360.4,63 C362.55,65.87 363.77,68.22 365.9,70.2 C368.03,72.18 368.93,73.72 373.2,74.9 C377.47,76.08 384.78,76.78 391.5,77.3 C398.22,77.82 409.83,77.88 413.5,78" fill="none" stroke="#13372a" stroke-width="2.25" stroke-linejoin="round" stroke-linecap="round" />
<path d="M255.7,97.1 C258.92,96.8 269.28,96.12 275,95.3 C280.72,94.48 285.83,93.17 290,92.2 C294.17,91.23 296.83,90.57 300,89.5 C303.17,88.43 305.95,87.18 309,85.8 C312.05,84.42 315.3,82.92 318.3,81.2 C321.3,79.48 323.95,77.62 327,75.5 C330.05,73.38 334.1,70.28 336.6,68.5 C339.1,66.72 340.17,65.87 342,64.8 C343.83,63.73 346.02,62.87 347.6,62.1 C349.18,61.33 350.28,60.65 351.5,60.2 C352.72,59.75 353.85,59.33 354.9,59.4 C355.95,59.47 356.88,60 357.8,60.6 C358.72,61.2 359.37,61.63 360.4,63 C361.43,64.37 362.9,66.72 364,68.8 C365.1,70.88 366.08,73.42 367,75.5 C367.92,77.58 368.5,79.45 369.5,81.3 C370.5,83.15 371.78,85.07 373,86.6 C374.22,88.13 375.47,89.4 376.8,90.5 C378.13,91.6 379.17,92.43 381,93.2 C382.83,93.97 384.97,94.58 387.8,95.1 C390.63,95.62 393.72,95.98 398,96.3 C402.28,96.62 410.92,96.88 413.5,97" fill="none" stroke="#185440" stroke-width="2.25" stroke-linejoin="round" stroke-linecap="round" />
<path d="M255.7,116.1 C258.13,115.7 265.32,114.43 270.3,113.7 C275.28,112.97 280.65,112.4 285.6,111.7 C290.55,111 295.9,110.35 300,109.5 C304.1,108.65 306.87,107.6 310.2,106.6 C313.53,105.6 317.02,104.55 320,103.5 C322.98,102.45 325.38,101.58 328.1,100.3 C330.82,99.02 333.87,97.43 336.3,95.8 C338.73,94.17 340.73,92.12 342.7,90.5 C344.67,88.88 346.3,87.6 348.1,86.1 C349.9,84.6 351.93,82.65 353.5,81.5 C355.07,80.35 356.33,79.4 357.5,79.2 C358.67,79 359.58,79.58 360.5,80.3 C361.42,81.02 362.02,81.85 363,83.5 C363.98,85.15 365.15,87.4 366.4,90.2 C367.65,93 369.13,97.25 370.5,100.3 C371.87,103.35 372.9,106.3 374.6,108.5 C376.3,110.7 378.13,112.35 380.7,113.5 C383.27,114.65 384.53,114.95 390,115.4 C395.47,115.85 409.58,116.07 413.5,116.2" fill="none" stroke="#1d6449" stroke-width="2.25" stroke-linejoin="round" stroke-linecap="round" />
<path d="M255.7,135.1 C258.13,134.75 265.32,133.85 270.3,133 C275.28,132.15 280.65,131.03 285.6,130 C290.55,128.97 295.9,127.88 300,126.8 C304.1,125.72 306.87,124.6 310.2,123.5 C313.53,122.4 317.02,121.37 320,120.2 C322.98,119.03 325.38,117.78 328.1,116.5 C330.82,115.22 333.58,114.05 336.3,112.5 C339.02,110.95 341.7,109.17 344.4,107.2 C347.1,105.23 350.33,102.18 352.5,100.7 C354.67,99.22 356.23,98.77 357.4,98.3 C358.57,97.83 358.73,97.85 359.5,97.9 C360.27,97.95 361.17,98 362,98.6 C362.83,99.2 363.6,100.33 364.5,101.5 C365.4,102.67 366.23,103.6 367.4,105.6 C368.57,107.6 370.13,110.65 371.5,113.5 C372.87,116.35 374.25,120.27 375.6,122.7 C376.95,125.13 378.08,126.52 379.6,128.1 C381.12,129.68 382.97,131.28 384.7,132.2 C386.43,133.12 387.45,133.23 390,133.6 C392.55,133.97 396.08,134.2 400,134.4 C403.92,134.6 411.25,134.73 413.5,134.8" fill="none" stroke="#237555" stroke-width="2.25" stroke-linejoin="round" stroke-linecap="round" />
<path d="M255.7,153.8 C258.13,153.2 266.17,151.4 270.3,150.2 C274.43,149 277.1,147.97 280.5,146.6 C283.9,145.23 288.28,143.13 290.7,142 C293.12,140.87 292.93,141.12 295,139.8 C297.07,138.48 300.57,135.53 303.1,134.1 C305.63,132.67 308.17,131.92 310.2,131.2 C312.23,130.48 313.67,130.42 315.3,129.8 C316.93,129.18 318.13,128.35 320,127.5 C321.87,126.65 324.47,125.4 326.5,124.7 C328.53,124 329.9,123.43 332.2,123.3 C334.5,123.17 337.73,124.02 340.3,123.9 C342.87,123.78 345.57,123.35 347.6,122.6 C349.63,121.85 350.87,120.32 352.5,119.4 C354.13,118.48 356.15,117.45 357.4,117.1 C358.65,116.75 359.13,116.93 360,117.3 C360.87,117.67 361.53,118 362.6,119.3 C363.67,120.6 365.08,123.12 366.4,125.1 C367.72,127.08 369.13,129.52 370.5,131.2 C371.87,132.88 373.25,133.68 374.6,135.2 C375.95,136.72 377.22,138.38 378.6,140.3 C379.98,142.22 381.43,144.88 382.9,146.7 C384.37,148.52 385.72,150.08 387.4,151.2 C389.08,152.32 390.58,152.88 393,153.4 C395.42,153.92 398.48,154.12 401.9,154.3 C405.32,154.48 411.57,154.47 413.5,154.5" fill="none" stroke="#2a8a63" stroke-width="2.25" stroke-linejoin="round" stroke-linecap="round" />
<path d="M255.7,173 C258.13,172.42 266.5,170.52 270.3,169.5 C274.1,168.48 276.3,167.75 278.5,166.9 C280.7,166.05 281.82,165.33 283.5,164.4 C285.18,163.47 286.68,162.32 288.6,161.3 C290.52,160.28 292.58,159.97 295,158.3 C297.42,156.63 300.57,153.3 303.1,151.3 C305.63,149.3 307.82,147.73 310.2,146.3 C312.58,144.87 315.02,143.55 317.4,142.7 C319.78,141.85 322.65,141.8 324.5,141.2 C326.35,140.6 326.98,139.87 328.5,139.1 C330.02,138.33 331.73,136.77 333.6,136.6 C335.47,136.43 337.62,137.52 339.7,138.1 C341.78,138.68 344.02,140.07 346.1,140.1 C348.18,140.13 350.25,138.93 352.2,138.3 C354.15,137.67 355.93,136.13 357.8,136.3 C359.67,136.47 361.78,138.02 363.4,139.3 C365.02,140.58 366.3,142.82 367.5,144 C368.7,145.18 369.35,145.6 370.6,146.4 C371.85,147.2 373.77,147.95 375,148.8 C376.23,149.65 377.08,150.3 378,151.5 C378.92,152.7 379.68,154.33 380.5,156 C381.32,157.67 381.98,159.75 382.9,161.5 C383.82,163.25 384.82,165 386,166.5 C387.18,168 388.5,169.48 390,170.5 C391.5,171.52 393,172.13 395,172.6 C397,173.07 398.92,173.13 402,173.3 C405.08,173.47 411.58,173.55 413.5,173.6" fill="none" stroke="#35a077" stroke-width="2.25" stroke-linejoin="round" stroke-linecap="round" />
<path d="M256,191.09 L256.5,191.09 L257,191.09 L257.5,191.09 L258,191.09 L258.5,191.09 L259,191.09 L259.5,191.09 L260,191.09 L260.5,191.09 L261,191.09 L261.5,191.09 L262,191.09 L262.5,191.09 L263,191.09 L263.5,191.09 L264,191.09 L264.5,191.09 L265,191.09 L265.5,191.09 L266,191.09 L266.5,191.09 L267,191.09 L267.5,191.09 L268,191.09 L268.5,191.09 L269,191.09 L269.5,191.09 L270,191.09 L270.5,191.09 L271,191.09 L271.5,191.09 L272,191.09 L272.5,191.09 L273,191.09 L273.5,191.09 L274,191.09 L274.5,191.09 L275,191.09 L275.5,191.09 L276,191.09 L276.5,191.09 L277,191.09 L277.5,191.09 L278,191.09 L278.5,191.09 L279,191.09 L279.5,191.09 L280,191.09 L280.5,191.09 L281,191.09 L281.5,191.09 L282,191.09 L282.5,191.09 L283,191.09 L283.5,191.09 L284,191.09 L284.5,191.09 L285,191.09 L285.5,191.09 L286,191.09 L286.5,191.09 L287,191.09 L287.5,191.09 L288,191.09 L288.5,191.09 L289,191.09 L289.5,191.09 L290,191.08 L290.5,191.08 L291,191.08 L291.5,191.08 L292,191.08 L292.5,191.08 L293,191.08 L293.5,191.08 L294,191.08 L294.5,191.08 L295,191.08 L295.5,191.08 L296,191.08 L296.5,191.08 L297,191.08 L297.5,191.08 L298,191.08 L298.5,191.08 L299,191.08 L299.5,191.08 L300,191.08 L300.5,191.08 L301,191.08 L301.5,191.08 L302,191.08 L302.5,191.08 L303,191.08 L303.5,191.08 L304,191.08 L304.5,191.08 L305,191.08 L305.5,191.08 L306,191.08 L306.5,191.08 L307,191.08 L307.5,191.08 L308,191.08 L308.5,191.08 L309,191.07 L309.5,191.07 L310,191.07 L310.5,191.07 L311,191.07 L311.5,191.07 L312,191.07 L312.5,191.07 L313,191.07 L313.5,191.07 L314,191.07 L314.5,191.07 L315,191.07 L315.5,191.07 L316,191.07 L316.5,191.07 L317,191.07 L317.5,191.07 L318,191.07 L318.5,191.07 L319,191.06 L319.5,191.06 L320,191.06 L320.5,191.06 L321,191.06 L321.5,191.06 L322,191.06 L322.5,191.06 L323,191.06 L323.5,191.06 L324,191.06 L324.5,191.06 L325,191.06 L325.5,191.05 L326,191.05 L326.5,191.05 L327,191.05 L327.5,191.05 L328,191.05 L328.5,191.05 L329,191.05 L329.5,191.05 L330,191.04 L330.5,191.04 L331,191.04 L331.5,191.04 L332,191.04 L332.5,191.04 L333,191.04 L333.5,191.03 L334,191.03 L334.5,191.03 L335,191.03 L335.5,191.03 L336,191.03 L336.5,191.02 L337,191.02 L337.5,191.02 L338,191.02 L338.5,191.01 L339,191.01 L339.5,191.01 L340,191.01 L340.5,191 L341,191 L341.5,191 L342,190.99 L342.5,190.99 L343,190.99 L343.5,190.98 L344,190.98 L344.5,190.98 L345,190.97 L345.5,190.97 L346,190.96 L346.5,190.96 L347,190.95 L347.5,190.95 L348,190.94 L348.5,190.93 L349,190.93 L349.5,190.92 L350,190.91 L350.5,190.9 L351,190.89 L351.5,190.87 L352,190.86 L352.5,190.84 L353,190.82 L353.5,190.8 L354,190.77 L354.5,190.74 L355,190.7 L355.5,190.65 L356,190.6 L356.5,190.54 L357,190.46 L357.5,190.38 L358,190.27 L358.5,190.16 L359,190.02 L359.5,189.86 L360,189.68 L360.5,189.47 L361,189.24 L361.5,188.98 L362,188.69 L362.5,188.37 L363,188.02 L363.5,187.64 L364,187.23 L364.5,186.79 L365,186.33 L365.5,185.85 L366,185.35 L366.5,184.84 L367,184.33 L367.5,183.81 L368,183.31 L368.5,182.82 L369,182.36 L369.5,181.93 L370,181.55 L370.5,181.22 L371,180.96 L371.5,180.76 L372,180.64 L372.5,180.6 L373,180.64 L373.5,180.76 L374,180.96 L374.5,181.22 L375,181.55 L375.5,181.93 L376,182.36 L376.5,182.82 L377,183.31 L377.5,183.81 L378,184.33 L378.5,184.84 L379,185.35 L379.5,185.85 L380,186.33 L380.5,186.79 L381,187.23 L381.5,187.64 L382,188.02 L382.5,188.37 L383,188.69 L383.5,188.98 L384,189.24 L384.5,189.47 L385,189.68 L385.5,189.86 L386,190.02 L386.5,190.16 L387,190.27 L387.5,190.38 L388,190.46 L388.5,190.54 L389,190.6 L389.5,190.65 L390,190.7 L390.5,190.74 L391,190.77 L391.5,190.8 L392,190.82 L392.5,190.84 L393,190.86 L393.5,190.87 L394,190.89 L394.5,190.9 L395,190.91 L395.5,190.92 L396,190.93 L396.5,190.93 L397,190.94 L397.5,190.95 L398,190.95 L398.5,190.96 L399,190.96 L399.5,190.97 L400,190.97 L400.5,190.98 L401,190.98 L401.5,190.98 L402,190.99 L402.5,190.99 L403,190.99 L403.5,191 L404,191 L404.5,191 L405,191.01 L405.5,191.01 L406,191.01 L406.5,191.01 L407,191.02 L407.5,191.02 L408,191.02 L408.5,191.02 L409,191.03 L409.5,191.03 L410,191.03 L410.5,191.03 L411,191.03 L411.5,191.03 L412,191.04 L412.5,191.04 L413,191.04 L413.5,191.04" fill="none" stroke="#2a74d8" stroke-width="2.0" stroke-linejoin="round" stroke-linecap="round" />
<path d="M256,191.05 L256.5,191.05 L257,191.05 L257.5,191.05 L258,191.05 L258.5,191.05 L259,191.05 L259.5,191.05 L260,191.05 L260.5,191.05 L261,191.05 L261.5,191.05 L262,191.05 L262.5,191.05 L263,191.04 L263.5,191.04 L264,191.04 L264.5,191.04 L265,191.04 L265.5,191.04 L266,191.04 L266.5,191.04 L267,191.04 L267.5,191.04 L268,191.04 L268.5,191.04 L269,191.04 L269.5,191.04 L270,191.04 L270.5,191.04 L271,191.03 L271.5,191.03 L272,191.03 L272.5,191.03 L273,191.03 L273.5,191.03 L274,191.03 L274.5,191.03 L275,191.03 L275.5,191.03 L276,191.03 L276.5,191.03 L277,191.03 L277.5,191.02 L278,191.02 L278.5,191.02 L279,191.02 L279.5,191.02 L280,191.02 L280.5,191.02 L281,191.02 L281.5,191.02 L282,191.02 L282.5,191.01 L283,191.01 L283.5,191.01 L284,191.01 L284.5,191.01 L285,191.01 L285.5,191.01 L286,191.01 L286.5,191 L287,191 L287.5,191 L288,191 L288.5,191 L289,191 L289.5,191 L290,191 L290.5,190.99 L291,190.99 L291.5,190.99 L292,190.99 L292.5,190.99 L293,190.99 L293.5,190.98 L294,190.98 L294.5,190.98 L295,190.98 L295.5,190.98 L296,190.97 L296.5,190.97 L297,190.97 L297.5,190.97 L298,190.97 L298.5,190.96 L299,190.96 L299.5,190.96 L300,190.96 L300.5,190.96 L301,190.95 L301.5,190.95 L302,190.95 L302.5,190.95 L303,190.94 L303.5,190.94 L304,190.94 L304.5,190.93 L305,190.93 L305.5,190.93 L306,190.93 L306.5,190.92 L307,190.92 L307.5,190.92 L308,190.91 L308.5,190.91 L309,190.91 L309.5,190.9 L310,190.9 L310.5,190.89 L311,190.89 L311.5,190.89 L312,190.88 L312.5,190.88 L313,190.87 L313.5,190.87 L314,190.86 L314.5,190.86 L315,190.85 L315.5,190.85 L316,190.84 L316.5,190.84 L317,190.83 L317.5,190.82 L318,190.82 L318.5,190.81 L319,190.8 L319.5,190.8 L320,190.79 L320.5,190.78 L321,190.77 L321.5,190.77 L322,190.76 L322.5,190.75 L323,190.74 L323.5,190.73 L324,190.72 L324.5,190.71 L325,190.7 L325.5,190.69 L326,190.68 L326.5,190.67 L327,190.65 L327.5,190.64 L328,190.63 L328.5,190.61 L329,190.6 L329.5,190.58 L330,190.56 L330.5,190.55 L331,190.53 L331.5,190.51 L332,190.49 L332.5,190.46 L333,190.44 L333.5,190.41 L334,190.39 L334.5,190.35 L335,190.32 L335.5,190.28 L336,190.24 L336.5,190.2 L337,190.14 L337.5,190.09 L338,190.02 L338.5,189.95 L339,189.87 L339.5,189.77 L340,189.67 L340.5,189.55 L341,189.42 L341.5,189.27 L342,189.09 L342.5,188.9 L343,188.68 L343.5,188.44 L344,188.17 L344.5,187.86 L345,187.52 L345.5,187.15 L346,186.74 L346.5,186.28 L347,185.79 L347.5,185.25 L348,184.67 L348.5,184.04 L349,183.36 L349.5,182.64 L350,181.88 L350.5,181.08 L351,180.24 L351.5,179.36 L352,178.45 L352.5,177.52 L353,176.57 L353.5,175.61 L354,174.65 L354.5,173.69 L355,172.75 L355.5,171.84 L356,170.96 L356.5,170.14 L357,169.39 L357.5,168.71 L358,168.12 L358.5,167.64 L359,167.27 L359.5,167.03 L360,166.91 L360.5,166.92 L361,167.07 L361.5,167.36 L362,167.77 L362.5,168.3 L363,168.94 L363.5,169.68 L364,170.5 L364.5,171.4 L365,172.35 L365.5,173.35 L366,174.38 L366.5,175.44 L367,176.5 L367.5,177.55 L368,178.59 L368.5,179.61 L369,180.59 L369.5,181.54 L370,182.44 L370.5,183.29 L371,184.08 L371.5,184.83 L372,185.52 L372.5,186.15 L373,186.73 L373.5,187.25 L374,187.72 L374.5,188.15 L375,188.52 L375.5,188.85 L376,189.15 L376.5,189.4 L377,189.63 L377.5,189.82 L378,189.99 L378.5,190.13 L379,190.26 L379.5,190.36 L380,190.45 L380.5,190.52 L381,190.59 L381.5,190.64 L382,190.69 L382.5,190.72 L383,190.76 L383.5,190.78 L384,190.81 L384.5,190.83 L385,190.84 L385.5,190.86 L386,190.87 L386.5,190.88 L387,190.89 L387.5,190.9 L388,190.91 L388.5,190.92 L389,190.92 L389.5,190.93 L390,190.94 L390.5,190.94 L391,190.95 L391.5,190.95 L392,190.96 L392.5,190.96 L393,190.96 L393.5,190.97 L394,190.97 L394.5,190.98 L395,190.98 L395.5,190.98 L396,190.98 L396.5,190.99 L397,190.99 L397.5,190.99 L398,191 L398.5,191 L399,191 L399.5,191 L400,191.01 L400.5,191.01 L401,191.01 L401.5,191.01 L402,191.01 L402.5,191.02 L403,191.02 L403.5,191.02 L404,191.02 L404.5,191.02 L405,191.03 L405.5,191.03 L406,191.03 L406.5,191.03 L407,191.03 L407.5,191.03 L408,191.03 L408.5,191.04 L409,191.04 L409.5,191.04 L410,191.04 L410.5,191.04 L411,191.04 L411.5,191.04 L412,191.04 L412.5,191.04 L413,191.05 L413.5,191.05" fill="none" stroke="#dc2c88" stroke-width="2.0" stroke-linejoin="round" stroke-linecap="round" />
<path d="M256,191.09 L256.5,191.09 L257,191.09 L257.5,191.09 L258,191.09 L258.5,191.09 L259,191.09 L259.5,191.09 L260,191.09 L260.5,191.09 L261,191.09 L261.5,191.09 L262,191.09 L262.5,191.09 L263,191.09 L263.5,191.09 L264,191.09 L264.5,191.09 L265,191.09 L265.5,191.09 L266,191.09 L266.5,191.09 L267,191.09 L267.5,191.09 L268,191.09 L268.5,191.08 L269,191.08 L269.5,191.08 L270,191.08 L270.5,191.08 L271,191.08 L271.5,191.08 L272,191.08 L272.5,191.08 L273,191.08 L273.5,191.08 L274,191.08 L274.5,191.08 L275,191.08 L275.5,191.08 L276,191.08 L276.5,191.08 L277,191.08 L277.5,191.08 L278,191.08 L278.5,191.08 L279,191.08 L279.5,191.08 L280,191.08 L280.5,191.08 L281,191.08 L281.5,191.08 L282,191.08 L282.5,191.08 L283,191.08 L283.5,191.08 L284,191.08 L284.5,191.08 L285,191.08 L285.5,191.08 L286,191.08 L286.5,191.08 L287,191.07 L287.5,191.07 L288,191.07 L288.5,191.07 L289,191.07 L289.5,191.07 L290,191.07 L290.5,191.07 L291,191.07 L291.5,191.07 L292,191.07 L292.5,191.07 L293,191.07 L293.5,191.07 L294,191.07 L294.5,191.07 L295,191.07 L295.5,191.07 L296,191.07 L296.5,191.06 L297,191.06 L297.5,191.06 L298,191.06 L298.5,191.06 L299,191.06 L299.5,191.06 L300,191.06 L300.5,191.06 L301,191.06 L301.5,191.06 L302,191.06 L302.5,191.06 L303,191.05 L303.5,191.05 L304,191.05 L304.5,191.05 L305,191.05 L305.5,191.05 L306,191.05 L306.5,191.05 L307,191.04 L307.5,191.04 L308,191.04 L308.5,191.04 L309,191.04 L309.5,191.03 L310,191.03 L310.5,191.03 L311,191.02 L311.5,191.02 L312,191.01 L312.5,191.01 L313,191 L313.5,191 L314,190.99 L314.5,190.98 L315,190.97 L315.5,190.96 L316,190.95 L316.5,190.93 L317,190.91 L317.5,190.9 L318,190.87 L318.5,190.85 L319,190.82 L319.5,190.79 L320,190.75 L320.5,190.71 L321,190.66 L321.5,190.61 L322,190.55 L322.5,190.48 L323,190.4 L323.5,190.32 L324,190.23 L324.5,190.13 L325,190.01 L325.5,189.89 L326,189.75 L326.5,189.6 L327,189.44 L327.5,189.26 L328,189.06 L328.5,188.85 L329,188.63 L329.5,188.38 L330,188.12 L330.5,187.84 L331,187.55 L331.5,187.24 L332,186.9 L332.5,186.56 L333,186.19 L333.5,185.81 L334,185.41 L334.5,185 L335,184.57 L335.5,184.14 L336,183.69 L336.5,183.23 L337,182.77 L337.5,182.31 L338,181.84 L338.5,181.37 L339,180.9 L339.5,180.44 L340,179.99 L340.5,179.55 L341,179.12 L341.5,178.71 L342,178.33 L342.5,177.96 L343,177.62 L343.5,177.31 L344,177.03 L344.5,176.78 L345,176.57 L345.5,176.4 L346,176.26 L346.5,176.17 L347,176.11 L347.5,176.1 L348,176.14 L348.5,176.25 L349,176.41 L349.5,176.63 L350,176.91 L350.5,177.23 L351,177.6 L351.5,178.02 L352,178.47 L352.5,178.95 L353,179.47 L353.5,180 L354,180.55 L354.5,181.11 L355,181.68 L355.5,182.25 L356,182.82 L356.5,183.38 L357,183.93 L357.5,184.46 L358,184.98 L358.5,185.48 L359,185.96 L359.5,186.41 L360,186.84 L360.5,187.25 L361,187.62 L361.5,187.98 L362,188.3 L362.5,188.6 L363,188.88 L363.5,189.13 L364,189.36 L364.5,189.56 L365,189.75 L365.5,189.91 L366,190.06 L366.5,190.19 L367,190.31 L367.5,190.41 L368,190.5 L368.5,190.58 L369,190.64 L369.5,190.7 L370,190.75 L370.5,190.8 L371,190.84 L371.5,190.87 L372,190.89 L372.5,190.92 L373,190.94 L373.5,190.95 L374,190.97 L374.5,190.98 L375,190.99 L375.5,191 L376,191.01 L376.5,191.01 L377,191.02 L377.5,191.02 L378,191.03 L378.5,191.03 L379,191.04 L379.5,191.04 L380,191.04 L380.5,191.04 L381,191.04 L381.5,191.05 L382,191.05 L382.5,191.05 L383,191.05 L383.5,191.05 L384,191.05 L384.5,191.06 L385,191.06 L385.5,191.06 L386,191.06 L386.5,191.06 L387,191.06 L387.5,191.06 L388,191.06 L388.5,191.06 L389,191.06 L389.5,191.07 L390,191.07 L390.5,191.07 L391,191.07 L391.5,191.07 L392,191.07 L392.5,191.07 L393,191.07 L393.5,191.07 L394,191.07 L394.5,191.07 L395,191.07 L395.5,191.07 L396,191.07 L396.5,191.07 L397,191.07 L397.5,191.08 L398,191.08 L398.5,191.08 L399,191.08 L399.5,191.08 L400,191.08 L400.5,191.08 L401,191.08 L401.5,191.08 L402,191.08 L402.5,191.08 L403,191.08 L403.5,191.08 L404,191.08 L404.5,191.08 L405,191.08 L405.5,191.08 L406,191.08 L406.5,191.08 L407,191.08 L407.5,191.08 L408,191.08 L408.5,191.08 L409,191.08 L409.5,191.08 L410,191.08 L410.5,191.08 L411,191.08 L411.5,191.08 L412,191.08 L412.5,191.08 L413,191.09 L413.5,191.09" fill="none" stroke="#76d02a" stroke-width="2.0" stroke-linejoin="round" stroke-linecap="round" />
<path d="M256,191 L256.5,191 L257,191 L257.5,191 L258,191 L258.5,191 L259,191 L259.5,191 L260,190.99 L260.5,190.99 L261,190.99 L261.5,190.99 L262,190.99 L262.5,190.99 L263,190.98 L263.5,190.98 L264,190.98 L264.5,190.98 L265,190.98 L265.5,190.98 L266,190.97 L266.5,190.97 L267,190.97 L267.5,190.97 L268,190.97 L268.5,190.96 L269,190.96 L269.5,190.96 L270,190.96 L270.5,190.95 L271,190.95 L271.5,190.95 L272,190.95 L272.5,190.94 L273,190.94 L273.5,190.94 L274,190.94 L274.5,190.93 L275,190.93 L275.5,190.93 L276,190.92 L276.5,190.92 L277,190.91 L277.5,190.91 L278,190.91 L278.5,190.9 L279,190.9 L279.5,190.89 L280,190.89 L280.5,190.88 L281,190.87 L281.5,190.87 L282,190.86 L282.5,190.85 L283,190.84 L283.5,190.83 L284,190.82 L284.5,190.81 L285,190.8 L285.5,190.79 L286,190.77 L286.5,190.76 L287,190.74 L287.5,190.72 L288,190.7 L288.5,190.68 L289,190.66 L289.5,190.63 L290,190.61 L290.5,190.57 L291,190.54 L291.5,190.5 L292,190.46 L292.5,190.42 L293,190.37 L293.5,190.32 L294,190.27 L294.5,190.21 L295,190.14 L295.5,190.07 L296,189.99 L296.5,189.91 L297,189.82 L297.5,189.72 L298,189.62 L298.5,189.51 L299,189.39 L299.5,189.26 L300,189.12 L300.5,188.97 L301,188.81 L301.5,188.64 L302,188.47 L302.5,188.27 L303,188.07 L303.5,187.86 L304,187.63 L304.5,187.39 L305,187.14 L305.5,186.87 L306,186.59 L306.5,186.3 L307,185.99 L307.5,185.67 L308,185.33 L308.5,184.98 L309,184.62 L309.5,184.24 L310,183.85 L310.5,183.45 L311,183.03 L311.5,182.6 L312,182.16 L312.5,181.71 L313,181.25 L313.5,180.77 L314,180.29 L314.5,179.8 L315,179.3 L315.5,178.8 L316,178.29 L316.5,177.78 L317,177.26 L317.5,176.75 L318,176.23 L318.5,175.72 L319,175.21 L319.5,174.71 L320,174.21 L320.5,173.72 L321,173.25 L321.5,172.78 L322,172.33 L322.5,171.89 L323,171.47 L323.5,171.07 L324,170.69 L324.5,170.34 L325,170.01 L325.5,169.7 L326,169.42 L326.5,169.17 L327,168.95 L327.5,168.76 L328,168.6 L328.5,168.48 L329,168.38 L329.5,168.32 L330,168.3 L330.5,168.32 L331,168.39 L331.5,168.52 L332,168.7 L332.5,168.93 L333,169.22 L333.5,169.55 L334,169.92 L334.5,170.34 L335,170.79 L335.5,171.27 L336,171.79 L336.5,172.33 L337,172.89 L337.5,173.47 L338,174.06 L338.5,174.67 L339,175.28 L339.5,175.9 L340,176.53 L340.5,177.15 L341,177.77 L341.5,178.38 L342,178.99 L342.5,179.58 L343,180.17 L343.5,180.74 L344,181.29 L344.5,181.84 L345,182.36 L345.5,182.86 L346,183.35 L346.5,183.82 L347,184.27 L347.5,184.7 L348,185.1 L348.5,185.49 L349,185.86 L349.5,186.21 L350,186.54 L350.5,186.84 L351,187.14 L351.5,187.41 L352,187.66 L352.5,187.9 L353,188.12 L353.5,188.33 L354,188.52 L354.5,188.7 L355,188.86 L355.5,189.01 L356,189.15 L356.5,189.28 L357,189.4 L357.5,189.51 L358,189.61 L358.5,189.7 L359,189.78 L359.5,189.86 L360,189.93 L360.5,189.99 L361,190.05 L361.5,190.1 L362,190.15 L362.5,190.2 L363,190.24 L363.5,190.28 L364,190.31 L364.5,190.35 L365,190.37 L365.5,190.4 L366,190.43 L366.5,190.45 L367,190.47 L367.5,190.49 L368,190.51 L368.5,190.53 L369,190.55 L369.5,190.56 L370,190.58 L370.5,190.59 L371,190.6 L371.5,190.62 L372,190.63 L372.5,190.64 L373,190.65 L373.5,190.66 L374,190.67 L374.5,190.68 L375,190.69 L375.5,190.7 L376,190.7 L376.5,190.71 L377,190.72 L377.5,190.73 L378,190.74 L378.5,190.74 L379,190.75 L379.5,190.76 L380,190.76 L380.5,190.77 L381,190.78 L381.5,190.78 L382,190.79 L382.5,190.79 L383,190.8 L383.5,190.8 L384,190.81 L384.5,190.81 L385,190.82 L385.5,190.82 L386,190.83 L386.5,190.83 L387,190.84 L387.5,190.84 L388,190.85 L388.5,190.85 L389,190.85 L389.5,190.86 L390,190.86 L390.5,190.87 L391,190.87 L391.5,190.87 L392,190.88 L392.5,190.88 L393,190.88 L393.5,190.89 L394,190.89 L394.5,190.89 L395,190.9 L395.5,190.9 L396,190.9 L396.5,190.9 L397,190.91 L397.5,190.91 L398,190.91 L398.5,190.92 L399,190.92 L399.5,190.92 L400,190.92 L400.5,190.93 L401,190.93 L401.5,190.93 L402,190.93 L402.5,190.94 L403,190.94 L403.5,190.94 L404,190.94 L404.5,190.94 L405,190.95 L405.5,190.95 L406,190.95 L406.5,190.95 L407,190.95 L407.5,190.96 L408,190.96 L408.5,190.96 L409,190.96 L409.5,190.96 L410,190.96 L410.5,190.97 L411,190.97 L411.5,190.97 L412,190.97 L412.5,190.97 L413,190.97 L413.5,190.97" fill="none" stroke="#1d9cf0" stroke-width="2.0" stroke-linejoin="round" stroke-linecap="round" />
<path d="M256,190.52 L256.5,190.51 L257,190.5 L257.5,190.49 L258,190.47 L258.5,190.46 L259,190.44 L259.5,190.43 L260,190.41 L260.5,190.4 L261,190.38 L261.5,190.36 L262,190.34 L262.5,190.32 L263,190.29 L263.5,190.27 L264,190.24 L264.5,190.22 L265,190.19 L265.5,190.16 L266,190.13 L266.5,190.09 L267,190.05 L267.5,190.01 L268,189.97 L268.5,189.93 L269,189.88 L269.5,189.83 L270,189.77 L270.5,189.72 L271,189.65 L271.5,189.59 L272,189.52 L272.5,189.44 L273,189.36 L273.5,189.27 L274,189.18 L274.5,189.08 L275,188.98 L275.5,188.87 L276,188.75 L276.5,188.63 L277,188.49 L277.5,188.35 L278,188.2 L278.5,188.05 L279,187.88 L279.5,187.71 L280,187.52 L280.5,187.33 L281,187.12 L281.5,186.91 L282,186.69 L282.5,186.45 L283,186.2 L283.5,185.95 L284,185.68 L284.5,185.4 L285,185.11 L285.5,184.81 L286,184.49 L286.5,184.17 L287,183.83 L287.5,183.49 L288,183.13 L288.5,182.76 L289,182.39 L289.5,182 L290,181.6 L290.5,181.2 L291,180.79 L291.5,180.37 L292,179.94 L292.5,179.5 L293,179.07 L293.5,178.62 L294,178.18 L294.5,177.73 L295,177.28 L295.5,176.82 L296,176.37 L296.5,175.93 L297,175.48 L297.5,175.04 L298,174.61 L298.5,174.19 L299,173.77 L299.5,173.37 L300,172.98 L300.5,172.61 L301,172.25 L301.5,171.91 L302,171.59 L302.5,171.29 L303,171.01 L303.5,170.76 L304,170.54 L304.5,170.34 L305,170.17 L305.5,170.03 L306,169.93 L306.5,169.85 L307,169.81 L307.5,169.8 L308,169.82 L308.5,169.85 L309,169.91 L309.5,169.99 L310,170.09 L310.5,170.22 L311,170.36 L311.5,170.52 L312,170.7 L312.5,170.9 L313,171.12 L313.5,171.35 L314,171.59 L314.5,171.86 L315,172.13 L315.5,172.42 L316,172.72 L316.5,173.03 L317,173.35 L317.5,173.68 L318,174.02 L318.5,174.36 L319,174.71 L319.5,175.07 L320,175.43 L320.5,175.79 L321,176.16 L321.5,176.53 L322,176.9 L322.5,177.27 L323,177.64 L323.5,178 L324,178.37 L324.5,178.74 L325,179.1 L325.5,179.46 L326,179.82 L326.5,180.17 L327,180.52 L327.5,180.86 L328,181.2 L328.5,181.53 L329,181.86 L329.5,182.18 L330,182.5 L330.5,182.8 L331,183.11 L331.5,183.4 L332,183.69 L332.5,183.97 L333,184.24 L333.5,184.5 L334,184.76 L334.5,185.01 L335,185.25 L335.5,185.49 L336,185.72 L336.5,185.93 L337,186.15 L337.5,186.35 L338,186.55 L338.5,186.74 L339,186.92 L339.5,187.1 L340,187.27 L340.5,187.43 L341,187.59 L341.5,187.74 L342,187.88 L342.5,188.01 L343,188.15 L343.5,188.27 L344,188.39 L344.5,188.5 L345,188.61 L345.5,188.72 L346,188.81 L346.5,188.91 L347,189 L347.5,189.08 L348,189.16 L348.5,189.24 L349,189.31 L349.5,189.38 L350,189.45 L350.5,189.51 L351,189.57 L351.5,189.62 L352,189.68 L352.5,189.73 L353,189.78 L353.5,189.82 L354,189.86 L354.5,189.9 L355,189.94 L355.5,189.98 L356,190.01 L356.5,190.05 L357,190.08 L357.5,190.11 L358,190.13 L358.5,190.16 L359,190.19 L359.5,190.21 L360,190.23 L360.5,190.25 L361,190.27 L361.5,190.29 L362,190.31 L362.5,190.33 L363,190.35 L363.5,190.36 L364,190.38 L364.5,190.39 L365,190.41 L365.5,190.42 L366,190.43 L366.5,190.45 L367,190.46 L367.5,190.47 L368,190.48 L368.5,190.49 L369,190.5 L369.5,190.51 L370,190.52 L370.5,190.53 L371,190.54 L371.5,190.55 L372,190.56 L372.5,190.57 L373,190.58 L373.5,190.58 L374,190.59 L374.5,190.6 L375,190.61 L375.5,190.61 L376,190.62 L376.5,190.63 L377,190.63 L377.5,190.64 L378,190.65 L378.5,190.65 L379,190.66 L379.5,190.66 L380,190.67 L380.5,190.67 L381,190.68 L381.5,190.69 L382,190.69 L382.5,190.7 L383,190.7 L383.5,190.71 L384,190.71 L384.5,190.72 L385,190.72 L385.5,190.72 L386,190.73 L386.5,190.73 L387,190.74 L387.5,190.74 L388,190.75 L388.5,190.75 L389,190.75 L389.5,190.76 L390,190.76 L390.5,190.77 L391,190.77 L391.5,190.77 L392,190.78 L392.5,190.78 L393,190.78 L393.5,190.79 L394,190.79 L394.5,190.79 L395,190.8 L395.5,190.8 L396,190.8 L396.5,190.81 L397,190.81 L397.5,190.81 L398,190.82 L398.5,190.82 L399,190.82 L399.5,190.83 L400,190.83 L400.5,190.83 L401,190.83 L401.5,190.84 L402,190.84 L402.5,190.84 L403,190.84 L403.5,190.85 L404,190.85 L404.5,190.85 L405,190.85 L405.5,190.86 L406,190.86 L406.5,190.86 L407,190.86 L407.5,190.87 L408,190.87 L408.5,190.87 L409,190.87 L409.5,190.88 L410,190.88 L410.5,190.88 L411,190.88 L411.5,190.88 L412,190.89 L412.5,190.89 L413,190.89 L413.5,190.89" fill="none" stroke="#9c1833" stroke-width="2.0" stroke-linejoin="round" stroke-linecap="round" />
<path d="M255.7,191.9 C257.28,191.58 261.92,190.95 265.2,190 C268.48,189.05 272.35,187.42 275.4,186.2 C278.45,184.98 280.95,184.13 283.5,182.7 C286.05,181.27 288.78,178.97 290.7,177.6 C292.62,176.23 293.45,175.8 295,174.5 C296.55,173.2 298.65,171.12 300,169.8 C301.35,168.48 301.4,167.98 303.1,166.6 C304.8,165.22 307.65,162.93 310.2,161.5 C312.75,160.07 315.85,158.98 318.4,158 C320.95,157.02 323.57,155.95 325.5,155.6 C327.43,155.25 328.58,155.63 330,155.9 C331.42,156.17 332.48,156.82 334,157.2 C335.52,157.58 337.27,157.92 339.1,158.2 C340.93,158.48 343.47,158.8 345,158.9 C346.53,159 347.1,159.05 348.3,158.8 C349.5,158.55 350.83,157.78 352.2,157.4 C353.57,157.02 355.28,156.57 356.5,156.5 C357.72,156.43 358.58,156.72 359.5,157 C360.42,157.28 360.82,157.1 362,158.2 C363.18,159.3 365.08,161.55 366.6,163.6 C368.12,165.65 369.58,168.37 371.1,170.5 C372.62,172.63 374.22,174.57 375.7,176.4 C377.18,178.23 378.62,179.73 380,181.5 C381.38,183.27 382.77,185.43 384,187 C385.23,188.57 385.9,189.97 387.4,190.9 C388.9,191.83 390.9,192.25 393,192.6 C395.1,192.95 396.58,192.92 400,193 C403.42,193.08 411.25,193.08 413.5,193.1" fill="none" stroke="#48bc90" stroke-width="2.3" stroke-linejoin="round" stroke-linecap="round" />
<rect x="246.2" y="9.9" width="167.7" height="184.4" fill="none" stroke="#1c1c1c" stroke-width="1.75"/>
<line x1="302.1" y1="9.9" x2="302.1" y2="13.4" stroke="#1c1c1c" stroke-width="1.2" />
<line x1="302.1" y1="194.3" x2="302.1" y2="190.8" stroke="#1c1c1c" stroke-width="1.2" />
<line x1="358" y1="9.9" x2="358" y2="13.4" stroke="#1c1c1c" stroke-width="1.2" />
<line x1="358" y1="194.3" x2="358" y2="190.8" stroke="#1c1c1c" stroke-width="1.2" />
<line x1="246.2" y1="40.3" x2="249.7" y2="40.3" stroke="#1c1c1c" stroke-width="1.2" />
<line x1="413.9" y1="40.3" x2="410.4" y2="40.3" stroke="#1c1c1c" stroke-width="1.2" />
<line x1="246.2" y1="78.7" x2="249.7" y2="78.7" stroke="#1c1c1c" stroke-width="1.2" />
<line x1="413.9" y1="78.7" x2="410.4" y2="78.7" stroke="#1c1c1c" stroke-width="1.2" />
<line x1="246.2" y1="117" x2="249.7" y2="117" stroke="#1c1c1c" stroke-width="1.2" />
<line x1="413.9" y1="117" x2="410.4" y2="117" stroke="#1c1c1c" stroke-width="1.2" />
<line x1="246.2" y1="155.4" x2="249.7" y2="155.4" stroke="#1c1c1c" stroke-width="1.2" />
<line x1="413.9" y1="155.4" x2="410.4" y2="155.4" stroke="#1c1c1c" stroke-width="1.2" />
<text x="246.2" y="208.8" font-size="11.2" fill="#222" text-anchor="middle" font-weight="normal" font-style="normal" >1.5</text>
<text x="302.1" y="208.8" font-size="11.2" fill="#222" text-anchor="middle" font-weight="normal" font-style="normal" >1.6</text>
<text x="358" y="208.8" font-size="11.2" fill="#222" text-anchor="middle" font-weight="normal" font-style="normal" >1.7</text>
<text x="413.9" y="208.8" font-size="11.2" fill="#222" text-anchor="middle" font-weight="normal" font-style="normal" >1.8</text>
<text x="330.05" y="225.8" font-size="12" fill="#222" text-anchor="middle" font-weight="normal" font-style="normal" >Energy (eV)</text>
<text transform="translate(234.6,99.3) rotate(-90)" font-size="12" fill="#222" text-anchor="middle">PL intensity (norm.)</text>
<text x="251.6" y="23.2" font-size="10.8" fill="#4cc49a" text-anchor="start" font-weight="normal" font-style="normal" >Doped</text>
<text x="253.4" y="55.5" font-size="10.8" fill="#1a1a1a" text-anchor="start" font-weight="normal" font-style="normal" >296K</text>
<text x="253.4" y="74.4" font-size="10.8" fill="#1a1a1a" text-anchor="start" font-weight="normal" font-style="normal" >250K</text>
<text x="253.4" y="93.3" font-size="10.8" fill="#1a1a1a" text-anchor="start" font-weight="normal" font-style="normal" >200K</text>
<text x="253.4" y="112.2" font-size="10.8" fill="#1a1a1a" text-anchor="start" font-weight="normal" font-style="normal" >150K</text>
<text x="253.4" y="131.1" font-size="10.8" fill="#1a1a1a" text-anchor="start" font-weight="normal" font-style="normal" >100K</text>
<text x="253.4" y="150" font-size="10.8" fill="#1a1a1a" text-anchor="start" font-weight="normal" font-style="normal" >50K</text>
<text x="253.4" y="168.9" font-size="10.8" fill="#1a1a1a" text-anchor="start" font-weight="normal" font-style="normal" >10K</text>
<text x="253.4" y="187.8" font-size="10.8" fill="#1a1a1a" text-anchor="start" font-weight="normal" font-style="normal" >6.7K</text>
<text x="304.8" y="186" font-size="11" fill="#a01838" text-anchor="middle" font-weight="normal" font-style="normal" >L3</text>
<text x="329.1" y="166.6" font-size="11" fill="#3ab8ee" text-anchor="middle" font-weight="normal" font-style="normal" >L2</text>
<text x="346.4" y="173.3" font-size="11" fill="#7ccf35" text-anchor="middle" font-weight="normal" font-style="normal" >L1</text>
<text x="357.2" y="167.4" font-size="11" fill="#e0409a" text-anchor="middle" font-weight="normal" font-style="normal" >T</text>
<text x="386.9" y="185.3" font-size="11" fill="#3a7fd8" text-anchor="middle" font-weight="normal" font-style="normal" >X</text>
<clipPath id="cl298"><rect x="45" y="298.8" width="80" height="64.8"/></clipPath>
<g clip-path="url(#cl298)">
<rect x="45" y="298.8" width="80" height="64.8" fill="#6acd58"/>
<ellipse cx="67.05" cy="323.5" rx="7" ry="5" fill="#8ee070" opacity="0.7"/>
<ellipse cx="67.05" cy="339.5" rx="7" ry="5" fill="#8ee070" opacity="0.7"/>
<ellipse cx="93.8" cy="323.5" rx="7" ry="5" fill="#8ee070" opacity="0.7"/>
<ellipse cx="93.8" cy="339.5" rx="7" ry="5" fill="#8ee070" opacity="0.7"/>
<ellipse cx="120.55" cy="323.5" rx="7" ry="5" fill="#8ee070" opacity="0.7"/>
<ellipse cx="120.55" cy="339.5" rx="7" ry="5" fill="#8ee070" opacity="0.7"/>
<ellipse cx="40.35" cy="323.5" rx="7" ry="5" fill="#8ee070" opacity="0.7"/>
<ellipse cx="40.35" cy="339.5" rx="7" ry="5" fill="#8ee070" opacity="0.7"/>
<ellipse cx="27.35" cy="306.8" rx="7.6" ry="7.4" fill="url(#gGreen)"/>
<ellipse cx="27.35" cy="355.4" rx="7.6" ry="7.4" fill="url(#gGreen)"/>
<ellipse cx="54.05" cy="306.8" rx="7.6" ry="7.4" fill="url(#gGreen)"/>
<ellipse cx="54.05" cy="355.4" rx="7.6" ry="7.4" fill="url(#gGreen)"/>
<ellipse cx="80.8" cy="306.8" rx="7.6" ry="7.4" fill="url(#gGreen)"/>
<ellipse cx="80.8" cy="355.4" rx="7.6" ry="7.4" fill="url(#gGreen)"/>
<ellipse cx="107.55" cy="306.8" rx="7.6" ry="7.4" fill="url(#gGreen)"/>
<ellipse cx="107.55" cy="355.4" rx="7.6" ry="7.4" fill="url(#gGreen)"/>
<rect x="45" y="298.8" width="80" height="3.0" fill="#44c8c2"/>
<rect x="45" y="298.8" width="80" height="0.9" fill="#2fa8a6"/>
<rect x="45" y="360.8" width="80" height="2.8" fill="#44c8c2"/>
<rect x="45" y="298.8" width="2.2" height="64.8" fill="#44c8c2"/>
<rect x="123.4" y="298.8" width="1.6" height="64.8" fill="#44c8c2"/>
<rect x="59.85" y="301.6" width="14.6" height="11.6" rx="2.4" fill="#48c6c0"/>
<rect x="61.45" y="301.8" width="11.4" height="11.2" rx="2.0" fill="#fff"/>
<rect x="59.85" y="349.4" width="14.6" height="11.6" rx="2.4" fill="#48c6c0"/>
<rect x="61.45" y="349.6" width="11.4" height="11.2" rx="2.0" fill="#fff"/>
<rect x="86.6" y="301.6" width="14.6" height="11.6" rx="2.4" fill="#48c6c0"/>
<rect x="88.2" y="301.8" width="11.4" height="11.2" rx="2.0" fill="#fff"/>
<rect x="86.6" y="349.4" width="14.6" height="11.6" rx="2.4" fill="#48c6c0"/>
<rect x="88.2" y="349.6" width="11.4" height="11.2" rx="2.0" fill="#fff"/>
<rect x="113.35" y="301.6" width="12.45" height="11.6" rx="2.4" fill="#48c6c0"/>
<rect x="114.95" y="301.8" width="9.25" height="11.2" rx="2.0" fill="#fff"/>
<rect x="113.35" y="349.4" width="12.45" height="11.6" rx="2.4" fill="#48c6c0"/>
<rect x="114.95" y="349.6" width="9.25" height="11.2" rx="2.0" fill="#fff"/>
</g>
<path d="M63.5,299 C63,288 61.5,276 66,266 C70,256 78,252.8 84,253.2 C94,254 101,262 102.5,272 C104,282 103.8,292 103.6,299 Z" fill="url(#gCyan)" stroke="#70d8dc" stroke-width="0.6"/>
<ellipse cx="52.3" cy="290" rx="6.4" ry="10.5" fill="url(#gCyan)"/>
<ellipse cx="62.6" cy="284.5" rx="6.2" ry="14" fill="url(#gYel)" transform="rotate(-12 62.6 284.5)"/>
<circle cx="91.2" cy="285.4" r="13.6" fill="url(#gRing)"/>
<circle cx="80.3" cy="271.3" r="5.2" fill="#7fdcb0" opacity="0.75"/>
<circle cx="65" cy="286" r="2.6" fill="#6cc890"/>
<circle cx="88.8" cy="286.6" r="3.2" fill="#50c8a8"/>
<line x1="36.3" y1="331.5" x2="31.8" y2="323.7" stroke="#9a9a9a" stroke-width="1.8"/>
<line x1="31.8" y1="323.7" x2="27.3" y2="315.9" stroke="#e8602a" stroke-width="1.8"/>
<line x1="36.3" y1="331.5" x2="31.8" y2="339.25" stroke="#9a9a9a" stroke-width="1.8"/>
<line x1="31.8" y1="339.25" x2="27.3" y2="347" stroke="#e8602a" stroke-width="1.8"/>
<line x1="36.3" y1="331.5" x2="45.17" y2="323.7" stroke="#9a9a9a" stroke-width="1.8"/>
<line x1="45.17" y1="323.7" x2="54.05" y2="315.9" stroke="#e8602a" stroke-width="1.8"/>
<line x1="36.3" y1="331.5" x2="45.17" y2="339.25" stroke="#9a9a9a" stroke-width="1.8"/>
<line x1="45.17" y1="339.25" x2="54.05" y2="347" stroke="#e8602a" stroke-width="1.8"/>
<line x1="63.05" y1="331.5" x2="58.55" y2="323.7" stroke="#9a9a9a" stroke-width="1.8"/>
<line x1="58.55" y1="323.7" x2="54.05" y2="315.9" stroke="#e8602a" stroke-width="1.8"/>
<line x1="63.05" y1="331.5" x2="58.55" y2="339.25" stroke="#9a9a9a" stroke-width="1.8"/>
<line x1="58.55" y1="339.25" x2="54.05" y2="347" stroke="#e8602a" stroke-width="1.8"/>
<line x1="63.05" y1="331.5" x2="71.92" y2="323.7" stroke="#9a9a9a" stroke-width="1.8"/>
<line x1="71.92" y1="323.7" x2="80.8" y2="315.9" stroke="#e8602a" stroke-width="1.8"/>
<line x1="63.05" y1="331.5" x2="71.92" y2="339.25" stroke="#9a9a9a" stroke-width="1.8"/>
<line x1="71.92" y1="339.25" x2="80.8" y2="347" stroke="#e8602a" stroke-width="1.8"/>
<line x1="89.8" y1="331.5" x2="85.3" y2="323.7" stroke="#9a9a9a" stroke-width="1.8"/>
<line x1="85.3" y1="323.7" x2="80.8" y2="315.9" stroke="#e8602a" stroke-width="1.8"/>
<line x1="89.8" y1="331.5" x2="85.3" y2="339.25" stroke="#9a9a9a" stroke-width="1.8"/>
<line x1="85.3" y1="339.25" x2="80.8" y2="347" stroke="#e8602a" stroke-width="1.8"/>
<line x1="89.8" y1="331.5" x2="98.67" y2="323.7" stroke="#9a9a9a" stroke-width="1.8"/>
<line x1="98.67" y1="323.7" x2="107.55" y2="315.9" stroke="#e8602a" stroke-width="1.8"/>
<line x1="89.8" y1="331.5" x2="98.67" y2="339.25" stroke="#9a9a9a" stroke-width="1.8"/>
<line x1="98.67" y1="339.25" x2="107.55" y2="347" stroke="#e8602a" stroke-width="1.8"/>
<line x1="116.55" y1="331.5" x2="112.05" y2="323.7" stroke="#9a9a9a" stroke-width="1.8"/>
<line x1="112.05" y1="323.7" x2="107.55" y2="315.9" stroke="#e8602a" stroke-width="1.8"/>
<line x1="116.55" y1="331.5" x2="112.05" y2="339.25" stroke="#9a9a9a" stroke-width="1.8"/>
<line x1="112.05" y1="339.25" x2="107.55" y2="347" stroke="#e8602a" stroke-width="1.8"/>
<line x1="116.55" y1="331.5" x2="125.43" y2="323.7" stroke="#9a9a9a" stroke-width="1.8"/>
<line x1="125.43" y1="323.7" x2="134.3" y2="315.9" stroke="#e8602a" stroke-width="1.8"/>
<line x1="116.55" y1="331.5" x2="125.43" y2="339.25" stroke="#9a9a9a" stroke-width="1.8"/>
<line x1="125.43" y1="339.25" x2="134.3" y2="347" stroke="#e8602a" stroke-width="1.8"/>
<line x1="143.3" y1="331.5" x2="138.8" y2="323.7" stroke="#9a9a9a" stroke-width="1.8"/>
<line x1="138.8" y1="323.7" x2="134.3" y2="315.9" stroke="#e8602a" stroke-width="1.8"/>
<line x1="143.3" y1="331.5" x2="138.8" y2="339.25" stroke="#9a9a9a" stroke-width="1.8"/>
<line x1="138.8" y1="339.25" x2="134.3" y2="347" stroke="#e8602a" stroke-width="1.8"/>
<rect x="47.2" y="318.9" width="76.2" height="25.1" fill="#74d35c" opacity="0.55"/>
<ellipse cx="46.9" cy="327.1" rx="2.7" ry="1.4" fill="#fff" transform="rotate(40 46.9 327.1)"/>
<ellipse cx="46.9" cy="335.9" rx="2.7" ry="1.4" fill="#fff" transform="rotate(-40 46.9 335.9)"/>
<circle cx="53.9" cy="331.5" r="2.6" fill="#2f9e6a" opacity="0.55"/>
<circle cx="53.9" cy="331.5" r="1.3" fill="#e8fff8"/>
<ellipse cx="73.65" cy="327.1" rx="2.7" ry="1.4" fill="#fff" transform="rotate(40 73.65 327.1)"/>
<ellipse cx="73.65" cy="335.9" rx="2.7" ry="1.4" fill="#fff" transform="rotate(-40 73.65 335.9)"/>
<circle cx="80.65" cy="331.5" r="2.6" fill="#2f9e6a" opacity="0.55"/>
<circle cx="80.65" cy="331.5" r="1.3" fill="#e8fff8"/>
<ellipse cx="100.4" cy="327.1" rx="2.7" ry="1.4" fill="#fff" transform="rotate(40 100.4 327.1)"/>
<ellipse cx="100.4" cy="335.9" rx="2.7" ry="1.4" fill="#fff" transform="rotate(-40 100.4 335.9)"/>
<circle cx="107.4" cy="331.5" r="2.6" fill="#2f9e6a" opacity="0.55"/>
<circle cx="107.4" cy="331.5" r="1.3" fill="#e8fff8"/>
<circle cx="27.3" cy="315.9" r="3.5" fill="url(#gSe)"/>
<circle cx="27.3" cy="347" r="3.5" fill="url(#gSe)"/>
<circle cx="54.05" cy="315.9" r="3.5" fill="url(#gSe)"/>
<circle cx="54.05" cy="347" r="3.5" fill="url(#gSe)"/>
<circle cx="80.8" cy="315.9" r="3.5" fill="url(#gSe)"/>
<circle cx="80.8" cy="347" r="3.5" fill="url(#gSe)"/>
<circle cx="107.55" cy="315.9" r="3.5" fill="url(#gSe)"/>
<circle cx="107.55" cy="347" r="3.5" fill="url(#gSe)"/>
<circle cx="134.3" cy="315.9" r="3.5" fill="url(#gSe)"/>
<circle cx="134.3" cy="347" r="3.5" fill="url(#gSe)"/>
<circle cx="36.3" cy="331.5" r="4.6" fill="url(#gW)"/>
<circle cx="63.05" cy="331.5" r="4.6" fill="url(#gW)"/>
<circle cx="63.05" cy="331.5" r="4.6" fill="#8a70a0" opacity="0.18"/>
<circle cx="89.8" cy="331.5" r="4.6" fill="url(#gW)"/>
<circle cx="89.8" cy="331.5" r="4.6" fill="#8a70a0" opacity="0.18"/>
<circle cx="116.55" cy="331.5" r="4.6" fill="url(#gW)"/>
<circle cx="116.55" cy="331.5" r="4.6" fill="#8a70a0" opacity="0.18"/>
<circle cx="143.3" cy="331.5" r="4.6" fill="url(#gW)"/>
<text x="83.3" y="267" font-size="10" fill="#111" text-anchor="middle" font-weight="bold" font-style="normal" >H</text>
<text x="54" y="296.2" font-size="10" fill="#111" text-anchor="middle" font-weight="bold" font-style="normal" >Cl</text>
<text x="96.7" y="297.4" font-size="10" fill="#111" text-anchor="middle" font-weight="bold" font-style="normal" >Cl</text>
<clipPath id="cl425"><rect x="48.7" y="425.3" width="76.3" height="60.7"/></clipPath>
<g clip-path="url(#cl425)">
<rect x="48.7" y="425.3" width="76.3" height="60.7" fill="#6acd58"/>
<ellipse cx="69.9" cy="447.6" rx="7" ry="5" fill="#8ee070" opacity="0.7"/>
<ellipse cx="69.9" cy="463.6" rx="7" ry="5" fill="#8ee070" opacity="0.7"/>
<ellipse cx="96.3" cy="447.6" rx="7" ry="5" fill="#8ee070" opacity="0.7"/>
<ellipse cx="96.3" cy="463.6" rx="7" ry="5" fill="#8ee070" opacity="0.7"/>
<ellipse cx="122.7" cy="447.6" rx="7" ry="5" fill="#8ee070" opacity="0.7"/>
<ellipse cx="122.7" cy="463.6" rx="7" ry="5" fill="#8ee070" opacity="0.7"/>
<ellipse cx="43.2" cy="447.6" rx="7" ry="5" fill="#8ee070" opacity="0.7"/>
<ellipse cx="43.2" cy="463.6" rx="7" ry="5" fill="#8ee070" opacity="0.7"/>
<ellipse cx="30.2" cy="433.3" rx="7.6" ry="7.4" fill="url(#gGreen)"/>
<ellipse cx="30.2" cy="477.8" rx="7.6" ry="7.4" fill="url(#gGreen)"/>
<ellipse cx="56.9" cy="433.3" rx="7.6" ry="7.4" fill="url(#gGreen)"/>
<ellipse cx="56.9" cy="477.8" rx="7.6" ry="7.4" fill="url(#gGreen)"/>
<ellipse cx="83.3" cy="433.3" rx="7.6" ry="7.4" fill="url(#gGreen)"/>
<ellipse cx="83.3" cy="477.8" rx="7.6" ry="7.4" fill="url(#gGreen)"/>
<ellipse cx="109.7" cy="433.3" rx="7.6" ry="7.4" fill="url(#gGreen)"/>
<ellipse cx="109.7" cy="477.8" rx="7.6" ry="7.4" fill="url(#gGreen)"/>
<rect x="48.7" y="425.3" width="76.3" height="3.0" fill="#44c8c2"/>
<rect x="48.7" y="425.3" width="76.3" height="0.9" fill="#2fa8a6"/>
<rect x="48.7" y="483.2" width="76.3" height="2.8" fill="#44c8c2"/>
<rect x="48.7" y="425.3" width="2.2" height="60.7" fill="#44c8c2"/>
<rect x="123.4" y="425.3" width="1.6" height="60.7" fill="#44c8c2"/>
<rect x="62.7" y="428.1" width="14.6" height="11.6" rx="2.4" fill="#48c6c0"/>
<rect x="64.3" y="428.3" width="11.4" height="11.2" rx="2.0" fill="#fff"/>
<rect x="62.7" y="471.8" width="14.6" height="11.6" rx="2.4" fill="#48c6c0"/>
<rect x="64.3" y="472" width="11.4" height="11.2" rx="2.0" fill="#fff"/>
<rect x="89.1" y="428.1" width="14.6" height="11.6" rx="2.4" fill="#48c6c0"/>
<rect x="90.7" y="428.3" width="11.4" height="11.2" rx="2.0" fill="#fff"/>
<rect x="89.1" y="471.8" width="14.6" height="11.6" rx="2.4" fill="#48c6c0"/>
<rect x="90.7" y="472" width="11.4" height="11.2" rx="2.0" fill="#fff"/>
<rect x="115.5" y="428.1" width="10.3" height="11.6" rx="2.4" fill="#48c6c0"/>
<rect x="117.1" y="428.3" width="7.1" height="11.2" rx="2.0" fill="#fff"/>
<rect x="115.5" y="471.8" width="10.3" height="11.6" rx="2.4" fill="#48c6c0"/>
<rect x="117.1" y="472" width="7.1" height="11.2" rx="2.0" fill="#fff"/>
</g>
<path d="M67.5,425.6 C69,419 64,410 64.5,400 C65,392 70,387.5 79,387 C92,386.5 101,391 102.5,402 C103.5,412 101.5,419 103.5,425.6 Z" fill="url(#gCyan)" stroke="#70d8dc" stroke-width="0.6"/>
<ellipse cx="54.8" cy="399" rx="5.4" ry="7.8" fill="url(#gCyan)"/>
<ellipse cx="68.8" cy="394.8" rx="5.6" ry="7" fill="url(#gYel)" transform="rotate(15 68.8 394.8)"/>
<ellipse cx="64.6" cy="410.6" rx="6.2" ry="5.8" fill="url(#gYel)"/>
<circle cx="67.8" cy="402.8" r="2.6" fill="#6cc890"/>
<circle cx="91.2" cy="402.9" r="15.9" fill="url(#gRing)"/>
<circle cx="88.8" cy="402.9" r="4.2" fill="#48c8a8"/>
<line x1="39.5" y1="455.6" x2="35.2" y2="448.2" stroke="#9a9a9a" stroke-width="1.8"/>
<line x1="35.2" y1="448.2" x2="30.9" y2="440.8" stroke="#e8602a" stroke-width="1.8"/>
<line x1="39.5" y1="455.6" x2="35.2" y2="463.3" stroke="#9a9a9a" stroke-width="1.8"/>
<line x1="35.2" y1="463.3" x2="30.9" y2="471" stroke="#e8602a" stroke-width="1.8"/>
<line x1="39.5" y1="455.6" x2="48.4" y2="448.2" stroke="#9a9a9a" stroke-width="1.8"/>
<line x1="48.4" y1="448.2" x2="57.3" y2="440.8" stroke="#e8602a" stroke-width="1.8"/>
<line x1="39.5" y1="455.6" x2="48.4" y2="463.3" stroke="#9a9a9a" stroke-width="1.8"/>
<line x1="48.4" y1="463.3" x2="57.3" y2="471" stroke="#e8602a" stroke-width="1.8"/>
<line x1="65.9" y1="455.6" x2="61.6" y2="448.2" stroke="#9a9a9a" stroke-width="1.8"/>
<line x1="61.6" y1="448.2" x2="57.3" y2="440.8" stroke="#e8602a" stroke-width="1.8"/>
<line x1="65.9" y1="455.6" x2="61.6" y2="463.3" stroke="#9a9a9a" stroke-width="1.8"/>
<line x1="61.6" y1="463.3" x2="57.3" y2="471" stroke="#e8602a" stroke-width="1.8"/>
<line x1="65.9" y1="455.6" x2="74.8" y2="448.2" stroke="#9a9a9a" stroke-width="1.8"/>
<line x1="74.8" y1="448.2" x2="83.7" y2="440.8" stroke="#e8602a" stroke-width="1.8"/>
<line x1="65.9" y1="455.6" x2="74.8" y2="463.3" stroke="#9a9a9a" stroke-width="1.8"/>
<line x1="74.8" y1="463.3" x2="83.7" y2="471" stroke="#e8602a" stroke-width="1.8"/>
<line x1="92.3" y1="455.6" x2="88" y2="448.2" stroke="#9a9a9a" stroke-width="1.8"/>
<line x1="88" y1="448.2" x2="83.7" y2="440.8" stroke="#e8602a" stroke-width="1.8"/>
<line x1="92.3" y1="455.6" x2="88" y2="463.3" stroke="#9a9a9a" stroke-width="1.8"/>
<line x1="88" y1="463.3" x2="83.7" y2="471" stroke="#e8602a" stroke-width="1.8"/>
<line x1="92.3" y1="455.6" x2="101.2" y2="448.2" stroke="#9a9a9a" stroke-width="1.8"/>
<line x1="101.2" y1="448.2" x2="110.1" y2="440.8" stroke="#e8602a" stroke-width="1.8"/>
<line x1="92.3" y1="455.6" x2="101.2" y2="463.3" stroke="#9a9a9a" stroke-width="1.8"/>
<line x1="101.2" y1="463.3" x2="110.1" y2="471" stroke="#e8602a" stroke-width="1.8"/>
<line x1="118.7" y1="455.6" x2="114.4" y2="448.2" stroke="#9a9a9a" stroke-width="1.8"/>
<line x1="114.4" y1="448.2" x2="110.1" y2="440.8" stroke="#e8602a" stroke-width="1.8"/>
<line x1="118.7" y1="455.6" x2="114.4" y2="463.3" stroke="#9a9a9a" stroke-width="1.8"/>
<line x1="114.4" y1="463.3" x2="110.1" y2="471" stroke="#e8602a" stroke-width="1.8"/>
<line x1="118.7" y1="455.6" x2="127.6" y2="448.2" stroke="#9a9a9a" stroke-width="1.8"/>
<line x1="127.6" y1="448.2" x2="136.5" y2="440.8" stroke="#e8602a" stroke-width="1.8"/>
<line x1="118.7" y1="455.6" x2="127.6" y2="463.3" stroke="#9a9a9a" stroke-width="1.8"/>
<line x1="127.6" y1="463.3" x2="136.5" y2="471" stroke="#e8602a" stroke-width="1.8"/>
<line x1="145.1" y1="455.6" x2="140.8" y2="448.2" stroke="#9a9a9a" stroke-width="1.8"/>
<line x1="140.8" y1="448.2" x2="136.5" y2="440.8" stroke="#e8602a" stroke-width="1.8"/>
<line x1="145.1" y1="455.6" x2="140.8" y2="463.3" stroke="#9a9a9a" stroke-width="1.8"/>
<line x1="140.8" y1="463.3" x2="136.5" y2="471" stroke="#e8602a" stroke-width="1.8"/>
<rect x="50.9" y="443.8" width="72.5" height="24.2" fill="#74d35c" opacity="0.55"/>
<ellipse cx="50.1" cy="451.2" rx="2.7" ry="1.4" fill="#fff" transform="rotate(40 50.1 451.2)"/>
<ellipse cx="50.1" cy="460" rx="2.7" ry="1.4" fill="#fff" transform="rotate(-40 50.1 460)"/>
<circle cx="57.1" cy="455.6" r="2.6" fill="#2f9e6a" opacity="0.55"/>
<circle cx="57.1" cy="455.6" r="1.3" fill="#e8fff8"/>
<ellipse cx="76.5" cy="451.2" rx="2.7" ry="1.4" fill="#fff" transform="rotate(40 76.5 451.2)"/>
<ellipse cx="76.5" cy="460" rx="2.7" ry="1.4" fill="#fff" transform="rotate(-40 76.5 460)"/>
<circle cx="83.5" cy="455.6" r="2.6" fill="#2f9e6a" opacity="0.55"/>
<circle cx="83.5" cy="455.6" r="1.3" fill="#e8fff8"/>
<ellipse cx="102.9" cy="451.2" rx="2.7" ry="1.4" fill="#fff" transform="rotate(40 102.9 451.2)"/>
<ellipse cx="102.9" cy="460" rx="2.7" ry="1.4" fill="#fff" transform="rotate(-40 102.9 460)"/>
<circle cx="109.9" cy="455.6" r="2.6" fill="#2f9e6a" opacity="0.55"/>
<circle cx="109.9" cy="455.6" r="1.3" fill="#e8fff8"/>
<circle cx="30.9" cy="440.8" r="3.5" fill="url(#gSe)"/>
<circle cx="30.9" cy="471" r="3.5" fill="url(#gSe)"/>
<circle cx="57.3" cy="440.8" r="3.5" fill="url(#gSe)"/>
<circle cx="57.3" cy="471" r="3.5" fill="url(#gSe)"/>
<circle cx="83.7" cy="440.8" r="3.5" fill="url(#gSe)"/>
<circle cx="83.7" cy="471" r="3.5" fill="url(#gSe)"/>
<circle cx="110.1" cy="440.8" r="3.5" fill="url(#gSe)"/>
<circle cx="110.1" cy="471" r="3.5" fill="url(#gSe)"/>
<circle cx="136.5" cy="440.8" r="3.5" fill="url(#gSe)"/>
<circle cx="136.5" cy="471" r="3.5" fill="url(#gSe)"/>
<circle cx="39.5" cy="455.6" r="4.6" fill="url(#gW)"/>
<circle cx="65.9" cy="455.6" r="4.6" fill="url(#gW)"/>
<circle cx="65.9" cy="455.6" r="4.6" fill="#8a70a0" opacity="0.18"/>
<circle cx="92.3" cy="455.6" r="4.6" fill="url(#gW)"/>
<circle cx="92.3" cy="455.6" r="4.6" fill="#8a70a0" opacity="0.18"/>
<circle cx="118.7" cy="455.6" r="4.6" fill="url(#gW)"/>
<circle cx="118.7" cy="455.6" r="4.6" fill="#8a70a0" opacity="0.18"/>
<circle cx="145.1" cy="455.6" r="4.6" fill="url(#gW)"/>
<text x="49.1" y="401" font-size="10" fill="#111" text-anchor="middle" font-weight="bold" font-style="normal" >Cl</text>
<text x="105.2" y="401" font-size="10" fill="#111" text-anchor="middle" font-weight="bold" font-style="normal" >Cl</text>
<text x="75.4" y="427.3" font-size="10" fill="#111" text-anchor="middle" font-weight="bold" font-style="normal" >H</text>
<text x="52.8" y="249.1" font-size="13.4" fill="#5ab838" text-anchor="start" font-weight="normal" font-style="normal" >Cl-facing</text>
<text x="58.3" y="382.8" font-size="13.4" fill="#a838a8" text-anchor="start" font-weight="normal" font-style="normal" >H-facing</text>
<text x="31.8" y="259.5" font-size="10.9" fill="#5ccfd8" text-anchor="middle" font-weight="normal" font-style="normal" >electron</text>
<text x="32" y="272.5" font-size="10.9" fill="#5ccfd8" text-anchor="middle" font-weight="normal" font-style="normal" >rich</text>
<text x="21.5" y="295.9" font-size="10.9" fill="#dccb50" text-anchor="middle" font-weight="normal" font-style="normal" >electron</text>
<text x="22" y="306.3" font-size="10.9" fill="#dccb50" text-anchor="middle" font-weight="normal" font-style="normal" >poor</text>
<text x="108.5" y="264.5" font-size="10.9" fill="#5ab838"><tspan font-style="italic">E</tspan><tspan font-size="7.6" dy="2.6">ads</tspan><tspan dy="-2.6">= -468 meV</tspan></text>
<text x="155.2" y="280.1" font-size="10.9" fill="#1a1a1a" text-anchor="middle" font-weight="normal" font-style="normal" >0.95 %</text>
<text x="155.1" y="291.9" font-size="10.9" fill="#1a1a1a" text-anchor="middle" font-weight="normal" font-style="normal" >efficiency</text>
<text x="153.9" y="309.6" font-size="10.9" fill="#1a1a1a" text-anchor="middle" font-weight="normal" font-style="normal" >0.0095e</text>
<text x="115.5" y="394.3" font-size="10.9" fill="#a838a8"><tspan font-style="italic">E</tspan><tspan font-size="7.6" dy="2.6">ads</tspan><tspan dy="-2.6">= -351 meV</tspan></text>
<text x="157.5" y="410" font-size="10.9" fill="#1a1a1a" text-anchor="middle" font-weight="normal" font-style="normal" >3.51%</text>
<text x="157.5" y="421.7" font-size="10.9" fill="#1a1a1a" text-anchor="middle" font-weight="normal" font-style="normal" >efficiency</text>
<text x="161.1" y="440" font-size="10.9" fill="#1a1a1a" text-anchor="middle" font-weight="normal" font-style="normal" >0.0351e</text>
<text x="16.5" y="437.5" font-size="10.9" fill="#f06a30" text-anchor="middle" font-weight="normal" font-style="normal" >Se</text>
<text x="16.9" y="460.6" font-size="10.9" fill="#555" text-anchor="middle" font-weight="normal" font-style="normal" >W</text>
<text x="16.5" y="483.9" font-size="10.9" fill="#f06a30" text-anchor="middle" font-weight="normal" font-style="normal" >Se</text>
<path d="M125.4,313.8 C131,308 130.8,299.5 121.2,294.6" fill="none" stroke="#111" stroke-width="1.9" stroke-dasharray="3.4,2.1"/>
<path d="M113.2,293.2 L121.9,289.6 L120.5,297.4 Z" fill="#111"/>
<path d="M127,436 C132.8,429 131.8,419.5 123.8,415.4" fill="none" stroke="#111" stroke-width="1.9" stroke-dasharray="3.4,2.1"/>
<path d="M117.2,413.4 L125,411.3 L123.2,419.5 Z" fill="#111"/>
<line x1="573.8" y1="93.2" x2="578.6" y2="101.8" stroke="#a8a8a8" stroke-width="1.2"/>
<line x1="578.6" y1="101.8" x2="586.6" y2="109.55" stroke="#ec7a40" stroke-width="1.1"/>
<line x1="578.6" y1="101.8" x2="601.5" y2="93.2" stroke="#ec7a40" stroke-width="1.1"/>
<line x1="601.5" y1="93.2" x2="606.3" y2="101.8" stroke="#a8a8a8" stroke-width="1.2"/>
<line x1="606.3" y1="101.8" x2="614.3" y2="109.55" stroke="#ec7a40" stroke-width="1.1"/>
<line x1="606.3" y1="101.8" x2="629.2" y2="93.2" stroke="#ec7a40" stroke-width="1.1"/>
<line x1="629.2" y1="93.2" x2="634" y2="101.8" stroke="#a8a8a8" stroke-width="1.2"/>
<line x1="634" y1="101.8" x2="642" y2="109.55" stroke="#ec7a40" stroke-width="1.1"/>
<line x1="581.8" y1="100.95" x2="586.6" y2="109.55" stroke="#a8a8a8" stroke-width="1.2"/>
<line x1="586.6" y1="109.55" x2="594.6" y2="117.3" stroke="#ec7a40" stroke-width="1.1"/>
<line x1="586.6" y1="109.55" x2="609.5" y2="100.95" stroke="#ec7a40" stroke-width="1.1"/>
<line x1="609.5" y1="100.95" x2="614.3" y2="109.55" stroke="#a8a8a8" stroke-width="1.2"/>
<line x1="614.3" y1="109.55" x2="622.3" y2="117.3" stroke="#ec7a40" stroke-width="1.1"/>
<line x1="614.3" y1="109.55" x2="637.2" y2="100.95" stroke="#ec7a40" stroke-width="1.1"/>
<line x1="637.2" y1="100.95" x2="642" y2="109.55" stroke="#a8a8a8" stroke-width="1.2"/>
<line x1="642" y1="109.55" x2="650" y2="117.3" stroke="#ec7a40" stroke-width="1.1"/>
<line x1="589.8" y1="108.7" x2="594.6" y2="117.3" stroke="#a8a8a8" stroke-width="1.2"/>
<line x1="594.6" y1="117.3" x2="602.6" y2="125.05" stroke="#ec7a40" stroke-width="1.1"/>
<line x1="594.6" y1="117.3" x2="617.5" y2="108.7" stroke="#ec7a40" stroke-width="1.1"/>
<line x1="617.5" y1="108.7" x2="622.3" y2="117.3" stroke="#a8a8a8" stroke-width="1.2"/>
<line x1="622.3" y1="117.3" x2="630.3" y2="125.05" stroke="#ec7a40" stroke-width="1.1"/>
<line x1="622.3" y1="117.3" x2="645.2" y2="108.7" stroke="#ec7a40" stroke-width="1.1"/>
<line x1="645.2" y1="108.7" x2="650" y2="117.3" stroke="#a8a8a8" stroke-width="1.2"/>
<line x1="650" y1="117.3" x2="658" y2="125.05" stroke="#ec7a40" stroke-width="1.1"/>
<line x1="597.8" y1="116.45" x2="602.6" y2="125.05" stroke="#a8a8a8" stroke-width="1.2"/>
<line x1="602.6" y1="125.05" x2="625.5" y2="116.45" stroke="#ec7a40" stroke-width="1.1"/>
<line x1="625.5" y1="116.45" x2="630.3" y2="125.05" stroke="#a8a8a8" stroke-width="1.2"/>
<line x1="630.3" y1="125.05" x2="653.2" y2="116.45" stroke="#ec7a40" stroke-width="1.1"/>
<line x1="653.2" y1="116.45" x2="658" y2="125.05" stroke="#a8a8a8" stroke-width="1.2"/>
<line x1="602.6" y1="125.05" x2="611.5" y2="132.05" stroke="#e86a30" stroke-width="1.3"/>
<line x1="611.5" y1="132.05" x2="630.3" y2="125.05" stroke="#e86a30" stroke-width="1.3"/>
<line x1="597.8" y1="116.45" x2="611.5" y2="132.05" stroke="#a8a8a8" stroke-width="1.1"/>
<line x1="630.3" y1="125.05" x2="639.2" y2="132.05" stroke="#e86a30" stroke-width="1.3"/>
<line x1="639.2" y1="132.05" x2="658" y2="125.05" stroke="#e86a30" stroke-width="1.3"/>
<line x1="625.5" y1="116.45" x2="639.2" y2="132.05" stroke="#a8a8a8" stroke-width="1.1"/>
<line x1="658" y1="125.05" x2="666.9" y2="132.05" stroke="#e86a30" stroke-width="1.3"/>
<line x1="653.2" y1="116.45" x2="666.9" y2="132.05" stroke="#a8a8a8" stroke-width="1.1"/>
<circle cx="602.6" cy="125.05" r="2.5" fill="url(#gSe)"/>
<circle cx="630.3" cy="125.05" r="2.5" fill="url(#gSe)"/>
<circle cx="658" cy="125.05" r="2.5" fill="url(#gSe)"/>
<circle cx="611.5" cy="132.05" r="2.5" fill="url(#gSe)"/>
<circle cx="639.2" cy="132.05" r="2.5" fill="url(#gSe)"/>
<circle cx="666.9" cy="132.05" r="2.5" fill="url(#gSe)"/>
<line x1="584.4" y1="82.2" x2="573.8" y2="93.2" stroke="#e86a30" stroke-width="1.4"/>
<line x1="584.4" y1="82.2" x2="601.5" y2="93.2" stroke="#e86a30" stroke-width="1.2"/>
<line x1="584.4" y1="82.2" x2="592.4" y2="89.95" stroke="#e86a30" stroke-width="1.3"/>
<line x1="584.4" y1="82.2" x2="581.8" y2="100.95" stroke="#ec7a40" stroke-width="1.2"/>
<line x1="612.1" y1="82.2" x2="601.5" y2="93.2" stroke="#e86a30" stroke-width="1.4"/>
<line x1="612.1" y1="82.2" x2="629.2" y2="93.2" stroke="#e86a30" stroke-width="1.2"/>
<line x1="612.1" y1="82.2" x2="620.1" y2="89.95" stroke="#e86a30" stroke-width="1.3"/>
<line x1="612.1" y1="82.2" x2="609.5" y2="100.95" stroke="#ec7a40" stroke-width="1.2"/>
<line x1="639.8" y1="82.2" x2="629.2" y2="93.2" stroke="#e86a30" stroke-width="1.4"/>
<line x1="639.8" y1="82.2" x2="647.8" y2="89.95" stroke="#e86a30" stroke-width="1.3"/>
<line x1="639.8" y1="82.2" x2="637.2" y2="100.95" stroke="#ec7a40" stroke-width="1.2"/>
<line x1="592.4" y1="89.95" x2="581.8" y2="100.95" stroke="#e86a30" stroke-width="1.4"/>
<line x1="592.4" y1="89.95" x2="609.5" y2="100.95" stroke="#e86a30" stroke-width="1.2"/>
<line x1="592.4" y1="89.95" x2="600.4" y2="97.7" stroke="#e86a30" stroke-width="1.3"/>
<line x1="592.4" y1="89.95" x2="589.8" y2="108.7" stroke="#ec7a40" stroke-width="1.2"/>
<line x1="620.1" y1="89.95" x2="609.5" y2="100.95" stroke="#e86a30" stroke-width="1.4"/>
<line x1="620.1" y1="89.95" x2="637.2" y2="100.95" stroke="#e86a30" stroke-width="1.2"/>
<line x1="620.1" y1="89.95" x2="628.1" y2="97.7" stroke="#e86a30" stroke-width="1.3"/>
<line x1="620.1" y1="89.95" x2="617.5" y2="108.7" stroke="#ec7a40" stroke-width="1.2"/>
<line x1="647.8" y1="89.95" x2="637.2" y2="100.95" stroke="#e86a30" stroke-width="1.4"/>
<line x1="647.8" y1="89.95" x2="655.8" y2="97.7" stroke="#e86a30" stroke-width="1.3"/>
<line x1="647.8" y1="89.95" x2="645.2" y2="108.7" stroke="#ec7a40" stroke-width="1.2"/>
<line x1="600.4" y1="97.7" x2="589.8" y2="108.7" stroke="#e86a30" stroke-width="1.4"/>
<line x1="600.4" y1="97.7" x2="617.5" y2="108.7" stroke="#e86a30" stroke-width="1.2"/>
<line x1="600.4" y1="97.7" x2="608.4" y2="105.45" stroke="#e86a30" stroke-width="1.3"/>
<line x1="600.4" y1="97.7" x2="597.8" y2="116.45" stroke="#ec7a40" stroke-width="1.2"/>
<line x1="628.1" y1="97.7" x2="617.5" y2="108.7" stroke="#e86a30" stroke-width="1.4"/>
<line x1="628.1" y1="97.7" x2="645.2" y2="108.7" stroke="#e86a30" stroke-width="1.2"/>
<line x1="628.1" y1="97.7" x2="636.1" y2="105.45" stroke="#e86a30" stroke-width="1.3"/>
<line x1="628.1" y1="97.7" x2="625.5" y2="116.45" stroke="#ec7a40" stroke-width="1.2"/>
<line x1="655.8" y1="97.7" x2="645.2" y2="108.7" stroke="#e86a30" stroke-width="1.4"/>
<line x1="655.8" y1="97.7" x2="663.8" y2="105.45" stroke="#e86a30" stroke-width="1.3"/>
<line x1="655.8" y1="97.7" x2="653.2" y2="116.45" stroke="#ec7a40" stroke-width="1.2"/>
<line x1="608.4" y1="105.45" x2="597.8" y2="116.45" stroke="#e86a30" stroke-width="1.4"/>
<line x1="608.4" y1="105.45" x2="625.5" y2="116.45" stroke="#e86a30" stroke-width="1.2"/>
<line x1="608.4" y1="105.45" x2="606.9" y2="119.45" stroke="#a8a8a8" stroke-width="1.1"/>
<line x1="636.1" y1="105.45" x2="625.5" y2="116.45" stroke="#e86a30" stroke-width="1.4"/>
<line x1="636.1" y1="105.45" x2="653.2" y2="116.45" stroke="#e86a30" stroke-width="1.2"/>
<line x1="636.1" y1="105.45" x2="634.6" y2="119.45" stroke="#a8a8a8" stroke-width="1.1"/>
<line x1="663.8" y1="105.45" x2="653.2" y2="116.45" stroke="#e86a30" stroke-width="1.4"/>
<line x1="663.8" y1="105.45" x2="662.3" y2="119.45" stroke="#a8a8a8" stroke-width="1.1"/>
<circle cx="573.8" cy="93.2" r="4.0" fill="url(#gW)"/>
<circle cx="584.4" cy="82.2" r="2.5" fill="url(#gSe)"/>
<circle cx="601.5" cy="93.2" r="4.0" fill="url(#gW)"/>
<circle cx="612.1" cy="82.2" r="2.5" fill="url(#gSe)"/>
<circle cx="629.2" cy="93.2" r="4.0" fill="url(#gW)"/>
<circle cx="639.8" cy="82.2" r="2.5" fill="url(#gSe)"/>
<circle cx="581.8" cy="100.95" r="4.0" fill="url(#gW)"/>
<circle cx="592.4" cy="89.95" r="2.5" fill="url(#gSe)"/>
<circle cx="609.5" cy="100.95" r="4.0" fill="url(#gW)"/>
<circle cx="620.1" cy="89.95" r="2.5" fill="url(#gSe)"/>
<circle cx="637.2" cy="100.95" r="4.0" fill="url(#gW)"/>
<circle cx="647.8" cy="89.95" r="2.5" fill="url(#gSe)"/>
<circle cx="589.8" cy="108.7" r="4.0" fill="url(#gW)"/>
<circle cx="600.4" cy="97.7" r="2.5" fill="url(#gSe)"/>
<circle cx="617.5" cy="108.7" r="4.0" fill="url(#gW)"/>
<circle cx="628.1" cy="97.7" r="2.5" fill="url(#gSe)"/>
<circle cx="645.2" cy="108.7" r="4.0" fill="url(#gW)"/>
<circle cx="655.8" cy="97.7" r="2.5" fill="url(#gSe)"/>
<circle cx="597.8" cy="116.45" r="4.0" fill="url(#gW)"/>
<circle cx="608.4" cy="105.45" r="2.5" fill="url(#gSe)"/>
<circle cx="625.5" cy="116.45" r="4.0" fill="url(#gW)"/>
<circle cx="636.1" cy="105.45" r="2.5" fill="url(#gSe)"/>
<circle cx="653.2" cy="116.45" r="4.0" fill="url(#gW)"/>
<circle cx="663.8" cy="105.45" r="2.5" fill="url(#gSe)"/>
<line x1="617.8" y1="59.9" x2="617.4" y2="51.6" stroke="#aaa" stroke-width="1.4"/>
<line x1="617.8" y1="59.9" x2="607.9" y2="61.4" stroke="#2a6a50" stroke-width="1.6"/>
<line x1="617.8" y1="59.9" x2="632" y2="61.4" stroke="#2a6a50" stroke-width="1.6"/>
<line x1="617.8" y1="59.9" x2="615.2" y2="68.7" stroke="#2a6a50" stroke-width="1.6"/>
<circle cx="617.4" cy="51.4" r="1.7" fill="#e0e0e0" stroke="#bbb" stroke-width="0.4"/>
<circle cx="617.8" cy="59.9" r="2.6" fill="#111"/>
<circle cx="607.9" cy="61.4" r="2.8" fill="url(#gCl)"/>
<circle cx="632" cy="61.4" r="2.8" fill="url(#gCl)"/>
<circle cx="615.2" cy="68.7" r="2.8" fill="url(#gCl)"/>
<text x="622" y="49.7" font-size="10" fill="#111" text-anchor="middle" font-weight="normal" font-style="normal" >H</text>
<text x="584.6" y="71.6" font-size="10" fill="#3aa882" text-anchor="middle" font-weight="normal" font-style="normal" >Cl</text>
<text x="641.2" y="75" font-size="10" fill="#3aa882" text-anchor="middle" font-weight="normal" font-style="normal" >Cl</text>
<text x="620.5" y="83.5" font-size="10" fill="#3aa882" text-anchor="middle" font-weight="normal" font-style="normal" >Cl</text>
<clipPath id="clipd"><rect x="238.5" y="249.5" width="187.3" height="192.3"/></clipPath>
<line x1="238.5" y1="377.9" x2="425.8" y2="377.9" stroke="#111" stroke-width="2.0" stroke-dasharray="8,5"/>
<g clip-path="url(#clipd)">
<path d="M252.33,144.17 L252.58,158.22 L252.83,171.62 L253.08,184.39 L253.33,196.56 L253.58,208.15 L253.83,219.19 L254.08,229.71 L254.32,239.72 L254.57,249.24 L254.82,258.31 L255.07,266.93 L255.32,275.13 L255.57,282.93 L255.82,290.34 L256.07,297.38 L256.32,304.07 L256.57,310.42 L256.82,316.45 L257.07,322.17 L257.32,327.6 L257.57,332.74 L257.82,337.62 L258.07,342.23 L258.32,346.61 L258.57,350.75 L258.82,354.66 L259.07,358.36 L259.32,361.86 L259.57,365.16 L259.82,368.28 L260.07,371.22 L260.32,373.99 L260.56,376.6 L260.81,379.05 L261.06,381.36 L261.31,383.53 L261.56,385.57 L261.81,387.48 L262.06,389.26 L262.31,390.94 L262.56,392.5 L262.81,393.96 L263.06,395.31 L263.31,396.58 L263.56,397.75 L263.81,398.84 L264.06,399.85 L264.31,400.77 L264.56,401.63 L264.81,402.42 L265.06,403.13 L265.31,403.79 L265.56,404.39 L265.81,404.93 L266.06,405.41 L266.31,405.85 L266.56,406.23 L266.8,406.57 L267.05,406.87 L267.3,407.12 L267.55,407.34 L267.8,407.52 L268.05,407.67 L268.3,407.78 L268.55,407.86 L268.8,407.92 L269.05,407.94 L269.3,407.94 L269.55,407.92 L269.8,407.87 L270.05,407.8 L270.3,407.71 L270.55,407.61 L270.8,407.48 L271.05,407.34 L271.3,407.18 L271.55,407.01 L271.8,406.83 L272.05,406.63 L272.3,406.42 L272.55,406.2 L272.8,405.98 L273.04,405.74 L273.29,405.49 L273.54,405.24 L273.79,404.98 L274.04,404.71 L274.29,404.44 L274.54,404.16 L274.79,403.87 L275.04,403.59 L275.29,403.3 L275.54,403 L275.79,402.71 L276.04,402.41 L276.29,402.11 L276.54,401.8 L276.79,401.5 L277.04,401.19 L277.29,400.89 L277.54,400.58 L277.79,400.27 L278.04,399.97 L278.29,399.66 L278.54,399.36 L278.79,399.05 L279.04,398.75 L279.28,398.45 L279.53,398.15 L279.78,397.85 L280.03,397.55 L280.28,397.25 L280.53,396.96 L280.78,396.67 L281.03,396.38 L281.28,396.09 L281.53,395.8 L281.78,395.52 L282.03,395.24 L282.28,394.96 L282.53,394.69 L282.78,394.42 L283.03,394.15 L283.28,393.88 L283.53,393.62 L283.78,393.36 L284.03,393.1 L284.28,392.85 L284.53,392.59 L284.78,392.35 L285.03,392.1 L285.28,391.86 L285.52,391.62 L285.77,391.38 L286.02,391.15 L286.27,390.92 L286.52,390.69 L286.77,390.47 L287.02,390.25 L287.27,390.03 L287.52,389.82 L287.77,389.61 L288.02,389.4 L288.27,389.19 L288.52,388.99 L288.77,388.79 L289.02,388.6 L289.27,388.41 L289.52,388.22 L289.77,388.03 L290.02,387.84 L290.27,387.66 L290.52,387.49 L290.77,387.31 L291.02,387.14 L291.27,386.97 L291.52,386.8 L291.76,386.64 L292.01,386.47 L292.26,386.32 L292.51,386.16 L292.76,386.01 L293.01,385.85 L293.26,385.71 L293.51,385.56 L293.76,385.42 L294.01,385.28 L294.26,385.14 L294.51,385 L294.76,384.87 L295.01,384.73 L295.26,384.61 L295.51,384.48 L295.76,384.35 L296.01,384.23 L296.26,384.11 L296.51,383.99 L296.76,383.88 L297.01,383.76 L297.26,383.65 L297.51,383.54 L297.76,383.43 L298,383.33 L298.25,383.22 L298.5,383.12 L298.75,383.02 L299,382.92 L299.25,382.82 L299.5,382.73 L299.75,382.63 L300,382.54 L300.25,382.45 L300.5,382.36 L300.75,382.28 L301,382.19 L301.25,382.11 L301.5,382.03 L301.75,381.95 L302,381.87 L302.25,381.79 L302.5,381.72 L302.75,381.64 L303,381.57 L303.25,381.5 L303.5,381.43 L303.75,381.36 L304,381.29 L304.24,381.22 L304.49,381.16 L304.74,381.09 L304.99,381.03 L305.24,380.97 L305.49,380.91 L305.74,380.85 L305.99,380.79 L306.24,380.73 L306.49,380.68 L306.74,380.62 L306.99,380.57 L307.24,380.52 L307.49,380.47 L307.74,380.42 L307.99,380.37 L308.24,380.32 L308.49,380.27 L308.74,380.22 L308.99,380.18 L309.24,380.13 L309.49,380.09 L309.74,380.04 L309.99,380 L310.24,379.96 L310.48,379.92 L310.73,379.88 L310.98,379.84 L311.23,379.8 L311.48,379.76 L311.73,379.73 L311.98,379.69 L312.23,379.65 L312.48,379.62 L312.73,379.58 L312.98,379.55 L313.23,379.52 L313.48,379.49 L313.73,379.45 L313.98,379.42 L314.23,379.39 L314.48,379.36 L314.73,379.33 L314.98,379.31 L315.23,379.28 L315.48,379.25 L315.73,379.22 L315.98,379.2 L316.23,379.17 L316.48,379.15 L316.72,379.12 L316.97,379.1 L317.22,379.07 L317.47,379.05 L317.72,379.03 L317.97,379 L318.22,378.98 L318.47,378.96 L318.72,378.94 L318.97,378.92 L319.22,378.9 L319.47,378.88 L319.72,378.86 L319.97,378.84 L320.22,378.82 L320.47,378.8 L320.72,378.78 L320.97,378.77 L321.22,378.75 L321.47,378.73 L321.72,378.71 L321.97,378.7 L322.22,378.68 L322.47,378.67 L322.72,378.65 L322.96,378.64 L323.21,378.62 L323.46,378.61 L323.71,378.59 L323.96,378.58 L324.21,378.57 L324.46,378.55 L324.71,378.54 L324.96,378.53 L325.21,378.51 L325.46,378.5 L325.71,378.49 L325.96,378.48 L326.21,378.47 L326.46,378.45 L326.71,378.44 L326.96,378.43 L327.21,378.42 L327.46,378.41 L327.71,378.4 L327.96,378.39 L328.21,378.38 L328.46,378.37 L328.71,378.36 L328.96,378.35 L329.2,378.34 L329.45,378.33 L329.7,378.33 L329.95,378.32 L330.2,378.31 L330.45,378.3 L330.7,378.29 L330.95,378.28 L331.2,378.28 L331.45,378.27 L331.7,378.26 L331.95,378.25 L332.2,378.25 L332.45,378.24 L332.7,378.23 L332.95,378.23 L333.2,378.22 L333.45,378.21 L333.7,378.21 L333.95,378.2 L334.2,378.19 L334.45,378.19 L334.7,378.18 L334.95,378.18 L335.2,378.17 L335.44,378.17 L335.69,378.16 L335.94,378.16 L336.19,378.15 L336.44,378.15 L336.69,378.14 L336.94,378.14 L337.19,378.13 L337.44,378.13 L337.69,378.12 L337.94,378.12 L338.19,378.11 L338.44,378.11 L338.69,378.1 L338.94,378.1 L339.19,378.1 L339.44,378.09 L339.69,378.09 L339.94,378.08 L340.19,378.08 L340.44,378.08 L340.69,378.07 L340.94,378.07 L341.19,378.07 L341.44,378.06 L341.68,378.06 L341.93,378.06 L342.18,378.05 L342.43,378.05 L342.68,378.05 L342.93,378.04 L343.18,378.04 L343.43,378.04 L343.68,378.04 L343.93,378.03 L344.18,378.03 L344.43,378.03 L344.68,378.03 L344.93,378.02 L345.18,378.02 L345.43,378.02 L345.68,378.02 L345.93,378.01 L346.18,378.01 L346.43,378.01 L346.68,378.01 L346.93,378 L347.18,378 L347.43,378 L347.68,378 L347.92,378 L348.17,377.99 L348.42,377.99 L348.67,377.99 L348.92,377.99 L349.17,377.99 L349.42,377.99 L349.67,377.98 L349.92,377.98 L350.17,377.98 L350.42,377.98 L350.67,377.98 L350.92,377.98 L351.17,377.97 L351.42,377.97 L351.67,377.97 L351.92,377.97 L352.17,377.97 L352.42,377.97 L352.67,377.97 L352.92,377.96 L353.17,377.96 L353.42,377.96 L353.67,377.96 L353.92,377.96 L354.16,377.96 L354.41,377.96 L354.66,377.96 L354.91,377.95 L355.16,377.95 L355.41,377.95 L355.66,377.95 L355.91,377.95 L356.16,377.95 L356.41,377.95 L356.66,377.95 L356.91,377.95 L357.16,377.95 L357.41,377.94 L357.66,377.94 L357.91,377.94 L358.16,377.94 L358.41,377.94 L358.66,377.94 L358.91,377.94 L359.16,377.94 L359.41,377.94 L359.66,377.94 L359.91,377.94 L360.16,377.94 L360.4,377.93 L360.65,377.93 L360.9,377.93 L361.15,377.93 L361.4,377.93 L361.65,377.93 L361.9,377.93 L362.15,377.93 L362.4,377.93 L362.65,377.93 L362.9,377.93 L363.15,377.93 L363.4,377.93 L363.65,377.93 L363.9,377.93 L364.15,377.93 L364.4,377.93 L364.65,377.92 L364.9,377.92 L365.15,377.92 L365.4,377.92 L365.65,377.92 L365.9,377.92 L366.15,377.92 L366.4,377.92 L366.64,377.92 L366.89,377.92 L367.14,377.92 L367.39,377.92 L367.64,377.92 L367.89,377.92 L368.14,377.92 L368.39,377.92 L368.64,377.92 L368.89,377.92 L369.14,377.92 L369.39,377.92 L369.64,377.92 L369.89,377.92 L370.14,377.92 L370.39,377.92 L370.64,377.92 L370.89,377.91 L371.14,377.91 L371.39,377.91 L371.64,377.91 L371.89,377.91 L372.14,377.91 L372.39,377.91 L372.64,377.91 L372.88,377.91 L373.13,377.91 L373.38,377.91 L373.63,377.91 L373.88,377.91 L374.13,377.91 L374.38,377.91 L374.63,377.91 L374.88,377.91 L375.13,377.91 L375.38,377.91 L375.63,377.91 L375.88,377.91 L376.13,377.91 L376.38,377.91 L376.63,377.91 L376.88,377.91 L377.13,377.91 L377.38,377.91 L377.63,377.91 L377.88,377.91 L378.13,377.91 L378.38,377.91 L378.63,377.91 L378.88,377.91 L379.12,377.91 L379.37,377.91 L379.62,377.91 L379.87,377.91 L380.12,377.91 L380.37,377.91 L380.62,377.91 L380.87,377.91 L381.12,377.91 L381.37,377.91 L381.62,377.91 L381.87,377.91 L382.12,377.91 L382.37,377.91 L382.62,377.91 L382.87,377.91 L383.12,377.91 L383.37,377.91 L383.62,377.91 L383.87,377.91 L384.12,377.9 L384.37,377.9 L384.62,377.9 L384.87,377.9 L385.12,377.9 L385.36,377.9 L385.61,377.9 L385.86,377.9 L386.11,377.9 L386.36,377.9 L386.61,377.9 L386.86,377.9 L387.11,377.9 L387.36,377.9 L387.61,377.9 L387.86,377.9 L388.11,377.9 L388.36,377.9 L388.61,377.9 L388.86,377.9 L389.11,377.9 L389.36,377.9 L389.61,377.9 L389.86,377.9 L390.11,377.9 L390.36,377.9 L390.61,377.9 L390.86,377.9 L391.11,377.9 L391.36,377.9 L391.6,377.9 L391.85,377.9 L392.1,377.9 L392.35,377.9 L392.6,377.9 L392.85,377.9 L393.1,377.9 L393.35,377.9 L393.6,377.9 L393.85,377.9 L394.1,377.9 L394.35,377.9 L394.6,377.9 L394.85,377.9 L395.1,377.9 L395.35,377.9 L395.6,377.9 L395.85,377.9 L396.1,377.9 L396.35,377.9 L396.6,377.9 L396.85,377.9 L397.1,377.9 L397.35,377.9 L397.6,377.9 L397.84,377.9 L398.09,377.9 L398.34,377.9 L398.59,377.9 L398.84,377.9 L399.09,377.9 L399.34,377.9 L399.59,377.9 L399.84,377.9 L400.09,377.9 L400.34,377.9 L400.59,377.9 L400.84,377.9 L401.09,377.9 L401.34,377.9 L401.59,377.9 L401.84,377.9 L402.09,377.9 L402.34,377.9 L402.59,377.9 L402.84,377.9 L403.09,377.9 L403.34,377.9 L403.59,377.9 L403.84,377.9 L404.08,377.9 L404.33,377.9 L404.58,377.9" fill="none" stroke="#58ad30" stroke-width="2.2" stroke-linejoin="round" stroke-linecap="round" />
<circle cx="256.28" cy="303.09" r="2.15" fill="#58ad30"/>
<circle cx="258.97" cy="356.91" r="2.15" fill="#58ad30"/>
<circle cx="261.65" cy="386.25" r="2.15" fill="#58ad30"/>
<circle cx="264.33" cy="400.86" r="2.15" fill="#58ad30"/>
<circle cx="267.02" cy="406.83" r="2.15" fill="#58ad30"/>
<circle cx="269.7" cy="407.89" r="2.15" fill="#58ad30"/>
<circle cx="272.38" cy="406.35" r="2.15" fill="#58ad30"/>
<circle cx="275.07" cy="403.56" r="2.15" fill="#58ad30"/>
<circle cx="277.75" cy="400.32" r="2.15" fill="#58ad30"/>
<circle cx="280.43" cy="397.08" r="2.15" fill="#58ad30"/>
<circle cx="283.12" cy="394.05" r="2.15" fill="#58ad30"/>
<circle cx="285.8" cy="391.36" r="2.15" fill="#58ad30"/>
<circle cx="288.48" cy="389.02" r="2.15" fill="#58ad30"/>
<circle cx="291.17" cy="387.03" r="2.15" fill="#58ad30"/>
<circle cx="293.85" cy="385.37" r="2.15" fill="#58ad30"/>
<circle cx="296.53" cy="383.98" r="2.15" fill="#58ad30"/>
<circle cx="299.22" cy="382.84" r="2.15" fill="#58ad30"/>
<circle cx="305.99" cy="380.79" r="2.15" fill="#58ad30"/>
<circle cx="312.23" cy="379.65" r="2.15" fill="#58ad30"/>
<circle cx="318.47" cy="378.96" r="2.15" fill="#58ad30"/>
<circle cx="325.96" cy="378.48" r="2.15" fill="#58ad30"/>
<circle cx="334.7" cy="378.18" r="2.15" fill="#58ad30"/>
<circle cx="348.42" cy="377.99" r="2.15" fill="#58ad30"/>
<circle cx="360.9" cy="377.93" r="2.15" fill="#58ad30"/>
<circle cx="373.38" cy="377.91" r="2.15" fill="#58ad30"/>
<circle cx="384.62" cy="377.9" r="2.15" fill="#58ad30"/>
<circle cx="397.1" cy="377.9" r="2.15" fill="#58ad30"/>
</g>
<g clip-path="url(#clipd)">
<path d="M262.31,156.7 L262.56,170.58 L262.81,183.76 L263.06,196.27 L263.31,208.14 L263.56,219.4 L263.81,230.09 L264.06,240.23 L264.31,249.84 L264.56,258.95 L264.81,267.58 L265.06,275.76 L265.31,283.51 L265.56,290.84 L265.81,297.79 L266.06,304.36 L266.31,310.57 L266.56,316.45 L266.8,322 L267.05,327.25 L267.3,332.2 L267.55,336.88 L267.8,341.29 L268.05,345.45 L268.3,349.37 L268.55,353.07 L268.8,356.55 L269.05,359.82 L269.3,362.9 L269.55,365.8 L269.8,368.51 L270.05,371.06 L270.3,373.45 L270.55,375.69 L270.8,377.79 L271.05,379.75 L271.3,381.58 L271.55,383.29 L271.8,384.88 L272.05,386.36 L272.3,387.74 L272.55,389.01 L272.8,390.2 L273.04,391.29 L273.29,392.3 L273.54,393.24 L273.79,394.09 L274.04,394.88 L274.29,395.59 L274.54,396.25 L274.79,396.84 L275.04,397.38 L275.29,397.86 L275.54,398.29 L275.79,398.67 L276.04,399.01 L276.29,399.31 L276.54,399.57 L276.79,399.78 L277.04,399.97 L277.29,400.12 L277.54,400.24 L277.79,400.33 L278.04,400.39 L278.29,400.42 L278.54,400.43 L278.79,400.42 L279.04,400.39 L279.28,400.34 L279.53,400.27 L279.78,400.18 L280.03,400.08 L280.28,399.96 L280.53,399.83 L280.78,399.68 L281.03,399.53 L281.28,399.36 L281.53,399.18 L281.78,399 L282.03,398.8 L282.28,398.6 L282.53,398.39 L282.78,398.17 L283.03,397.95 L283.28,397.73 L283.53,397.5 L283.78,397.26 L284.03,397.02 L284.28,396.78 L284.53,396.54 L284.78,396.29 L285.03,396.04 L285.28,395.79 L285.52,395.54 L285.77,395.29 L286.02,395.04 L286.27,394.79 L286.52,394.53 L286.77,394.28 L287.02,394.03 L287.27,393.78 L287.52,393.53 L287.77,393.28 L288.02,393.03 L288.27,392.79 L288.52,392.54 L288.77,392.3 L289.02,392.06 L289.27,391.82 L289.52,391.58 L289.77,391.35 L290.02,391.11 L290.27,390.88 L290.52,390.65 L290.77,390.43 L291.02,390.21 L291.27,389.99 L291.52,389.77 L291.76,389.55 L292.01,389.34 L292.26,389.13 L292.51,388.92 L292.76,388.72 L293.01,388.52 L293.26,388.32 L293.51,388.12 L293.76,387.93 L294.01,387.74 L294.26,387.55 L294.51,387.37 L294.76,387.18 L295.01,387 L295.26,386.83 L295.51,386.65 L295.76,386.48 L296.01,386.32 L296.26,386.15 L296.51,385.99 L296.76,385.83 L297.01,385.67 L297.26,385.52 L297.51,385.37 L297.76,385.22 L298,385.07 L298.25,384.93 L298.5,384.78 L298.75,384.65 L299,384.51 L299.25,384.37 L299.5,384.24 L299.75,384.11 L300,383.99 L300.25,383.86 L300.5,383.74 L300.75,383.62 L301,383.5 L301.25,383.39 L301.5,383.27 L301.75,383.16 L302,383.05 L302.25,382.95 L302.5,382.84 L302.75,382.74 L303,382.64 L303.25,382.54 L303.5,382.44 L303.75,382.35 L304,382.25 L304.24,382.16 L304.49,382.07 L304.74,381.99 L304.99,381.9 L305.24,381.81 L305.49,381.73 L305.74,381.65 L305.99,381.57 L306.24,381.49 L306.49,381.42 L306.74,381.34 L306.99,381.27 L307.24,381.2 L307.49,381.13 L307.74,381.06 L307.99,380.99 L308.24,380.93 L308.49,380.86 L308.74,380.8 L308.99,380.74 L309.24,380.68 L309.49,380.62 L309.74,380.56 L309.99,380.5 L310.24,380.44 L310.48,380.39 L310.73,380.34 L310.98,380.28 L311.23,380.23 L311.48,380.18 L311.73,380.13 L311.98,380.08 L312.23,380.04 L312.48,379.99 L312.73,379.95 L312.98,379.9 L313.23,379.86 L313.48,379.82 L313.73,379.77 L313.98,379.73 L314.23,379.69 L314.48,379.66 L314.73,379.62 L314.98,379.58 L315.23,379.54 L315.48,379.51 L315.73,379.47 L315.98,379.44 L316.23,379.4 L316.48,379.37 L316.72,379.34 L316.97,379.31 L317.22,379.28 L317.47,379.25 L317.72,379.22 L317.97,379.19 L318.22,379.16 L318.47,379.13 L318.72,379.11 L318.97,379.08 L319.22,379.05 L319.47,379.03 L319.72,379 L319.97,378.98 L320.22,378.96 L320.47,378.93 L320.72,378.91 L320.97,378.89 L321.22,378.87 L321.47,378.85 L321.72,378.83 L321.97,378.81 L322.22,378.79 L322.47,378.77 L322.72,378.75 L322.96,378.73 L323.21,378.71 L323.46,378.69 L323.71,378.67 L323.96,378.66 L324.21,378.64 L324.46,378.63 L324.71,378.61 L324.96,378.59 L325.21,378.58 L325.46,378.56 L325.71,378.55 L325.96,378.53 L326.21,378.52 L326.46,378.51 L326.71,378.49 L326.96,378.48 L327.21,378.47 L327.46,378.46 L327.71,378.44 L327.96,378.43 L328.21,378.42 L328.46,378.41 L328.71,378.4 L328.96,378.39 L329.2,378.38 L329.45,378.36 L329.7,378.35 L329.95,378.34 L330.2,378.33 L330.45,378.32 L330.7,378.32 L330.95,378.31 L331.2,378.3 L331.45,378.29 L331.7,378.28 L331.95,378.27 L332.2,378.26 L332.45,378.26 L332.7,378.25 L332.95,378.24 L333.2,378.23 L333.45,378.23 L333.7,378.22 L333.95,378.21 L334.2,378.2 L334.45,378.2 L334.7,378.19 L334.95,378.18 L335.2,378.18 L335.44,378.17 L335.69,378.17 L335.94,378.16 L336.19,378.15 L336.44,378.15 L336.69,378.14 L336.94,378.14 L337.19,378.13 L337.44,378.13 L337.69,378.12 L337.94,378.12 L338.19,378.11 L338.44,378.11 L338.69,378.1 L338.94,378.1 L339.19,378.09 L339.44,378.09 L339.69,378.09 L339.94,378.08 L340.19,378.08 L340.44,378.07 L340.69,378.07 L340.94,378.07 L341.19,378.06 L341.44,378.06 L341.68,378.06 L341.93,378.05 L342.18,378.05 L342.43,378.05 L342.68,378.04 L342.93,378.04 L343.18,378.04 L343.43,378.03 L343.68,378.03 L343.93,378.03 L344.18,378.02 L344.43,378.02 L344.68,378.02 L344.93,378.02 L345.18,378.01 L345.43,378.01 L345.68,378.01 L345.93,378.01 L346.18,378 L346.43,378 L346.68,378 L346.93,378 L347.18,378 L347.43,377.99 L347.68,377.99 L347.92,377.99 L348.17,377.99 L348.42,377.99 L348.67,377.98 L348.92,377.98 L349.17,377.98 L349.42,377.98 L349.67,377.98 L349.92,377.97 L350.17,377.97 L350.42,377.97 L350.67,377.97 L350.92,377.97 L351.17,377.97 L351.42,377.97 L351.67,377.96 L351.92,377.96 L352.17,377.96 L352.42,377.96 L352.67,377.96 L352.92,377.96 L353.17,377.96 L353.42,377.95 L353.67,377.95 L353.92,377.95 L354.16,377.95 L354.41,377.95 L354.66,377.95 L354.91,377.95 L355.16,377.95 L355.41,377.95 L355.66,377.94 L355.91,377.94 L356.16,377.94 L356.41,377.94 L356.66,377.94 L356.91,377.94 L357.16,377.94 L357.41,377.94 L357.66,377.94 L357.91,377.94 L358.16,377.94 L358.41,377.93 L358.66,377.93 L358.91,377.93 L359.16,377.93 L359.41,377.93 L359.66,377.93 L359.91,377.93 L360.16,377.93 L360.4,377.93 L360.65,377.93 L360.9,377.93 L361.15,377.93 L361.4,377.93 L361.65,377.93 L361.9,377.93 L362.15,377.92 L362.4,377.92 L362.65,377.92 L362.9,377.92 L363.15,377.92 L363.4,377.92 L363.65,377.92 L363.9,377.92 L364.15,377.92 L364.4,377.92 L364.65,377.92 L364.9,377.92 L365.15,377.92 L365.4,377.92 L365.65,377.92 L365.9,377.92 L366.15,377.92 L366.4,377.92 L366.64,377.92 L366.89,377.92 L367.14,377.92 L367.39,377.92 L367.64,377.92 L367.89,377.91 L368.14,377.91 L368.39,377.91 L368.64,377.91 L368.89,377.91 L369.14,377.91 L369.39,377.91 L369.64,377.91 L369.89,377.91 L370.14,377.91 L370.39,377.91 L370.64,377.91 L370.89,377.91 L371.14,377.91 L371.39,377.91 L371.64,377.91 L371.89,377.91 L372.14,377.91 L372.39,377.91 L372.64,377.91 L372.88,377.91 L373.13,377.91 L373.38,377.91 L373.63,377.91 L373.88,377.91 L374.13,377.91 L374.38,377.91 L374.63,377.91 L374.88,377.91 L375.13,377.91 L375.38,377.91 L375.63,377.91 L375.88,377.91 L376.13,377.91 L376.38,377.91 L376.63,377.91 L376.88,377.91 L377.13,377.91 L377.38,377.91 L377.63,377.91 L377.88,377.91 L378.13,377.91 L378.38,377.91 L378.63,377.91 L378.88,377.91 L379.12,377.91 L379.37,377.91 L379.62,377.91 L379.87,377.91 L380.12,377.9 L380.37,377.9 L380.62,377.9 L380.87,377.9 L381.12,377.9 L381.37,377.9 L381.62,377.9 L381.87,377.9 L382.12,377.9 L382.37,377.9 L382.62,377.9 L382.87,377.9 L383.12,377.9 L383.37,377.9 L383.62,377.9 L383.87,377.9 L384.12,377.9 L384.37,377.9 L384.62,377.9 L384.87,377.9 L385.12,377.9 L385.36,377.9 L385.61,377.9 L385.86,377.9 L386.11,377.9 L386.36,377.9 L386.61,377.9 L386.86,377.9 L387.11,377.9 L387.36,377.9 L387.61,377.9 L387.86,377.9 L388.11,377.9 L388.36,377.9 L388.61,377.9 L388.86,377.9 L389.11,377.9 L389.36,377.9 L389.61,377.9 L389.86,377.9 L390.11,377.9 L390.36,377.9 L390.61,377.9 L390.86,377.9 L391.11,377.9 L391.36,377.9 L391.6,377.9 L391.85,377.9 L392.1,377.9 L392.35,377.9 L392.6,377.9 L392.85,377.9 L393.1,377.9 L393.35,377.9 L393.6,377.9 L393.85,377.9 L394.1,377.9 L394.35,377.9 L394.6,377.9 L394.85,377.9 L395.1,377.9 L395.35,377.9 L395.6,377.9 L395.85,377.9 L396.1,377.9 L396.35,377.9 L396.6,377.9 L396.85,377.9 L397.1,377.9 L397.35,377.9 L397.6,377.9 L397.84,377.9 L398.09,377.9 L398.34,377.9 L398.59,377.9 L398.84,377.9 L399.09,377.9 L399.34,377.9 L399.59,377.9 L399.84,377.9 L400.09,377.9 L400.34,377.9 L400.59,377.9 L400.84,377.9 L401.09,377.9 L401.34,377.9 L401.59,377.9 L401.84,377.9 L402.09,377.9 L402.34,377.9 L402.59,377.9 L402.84,377.9 L403.09,377.9 L403.34,377.9 L403.59,377.9 L403.84,377.9 L404.08,377.9 L404.33,377.9 L404.58,377.9" fill="none" stroke="#a02ca8" stroke-width="2.2" stroke-linejoin="round" stroke-linecap="round" />
<circle cx="265.16" cy="278.91" r="2.15" fill="#a02ca8"/>
<circle cx="267.9" cy="342.98" r="2.15" fill="#a02ca8"/>
<circle cx="270.65" cy="376.55" r="2.15" fill="#a02ca8"/>
<circle cx="273.39" cy="392.69" r="2.15" fill="#a02ca8"/>
<circle cx="276.14" cy="399.14" r="2.15" fill="#a02ca8"/>
<circle cx="278.89" cy="400.41" r="2.15" fill="#a02ca8"/>
<circle cx="281.63" cy="399.11" r="2.15" fill="#a02ca8"/>
<circle cx="284.38" cy="396.68" r="2.15" fill="#a02ca8"/>
<circle cx="287.12" cy="393.93" r="2.15" fill="#a02ca8"/>
<circle cx="289.87" cy="391.25" r="2.15" fill="#a02ca8"/>
<circle cx="292.61" cy="388.84" r="2.15" fill="#a02ca8"/>
<circle cx="295.36" cy="386.76" r="2.15" fill="#a02ca8"/>
<circle cx="298.1" cy="385.01" r="2.15" fill="#a02ca8"/>
<circle cx="300.85" cy="383.57" r="2.15" fill="#a02ca8"/>
<circle cx="305.99" cy="381.57" r="2.15" fill="#a02ca8"/>
<circle cx="312.23" cy="380.04" r="2.15" fill="#a02ca8"/>
<circle cx="319.72" cy="379" r="2.15" fill="#a02ca8"/>
<circle cx="327.96" cy="378.43" r="2.15" fill="#a02ca8"/>
<circle cx="340.94" cy="378.07" r="2.15" fill="#a02ca8"/>
<circle cx="353.42" cy="377.95" r="2.15" fill="#a02ca8"/>
<circle cx="365.9" cy="377.92" r="2.15" fill="#a02ca8"/>
<circle cx="378.38" cy="377.91" r="2.15" fill="#a02ca8"/>
<circle cx="392.1" cy="377.9" r="2.15" fill="#a02ca8"/>
<circle cx="403.96" cy="377.9" r="2.15" fill="#a02ca8"/>
</g>
<line x1="279" y1="400.4" x2="357.7" y2="400.4" stroke="#111" stroke-width="1.1" stroke-dasharray="4,2.5"/>
<line x1="269" y1="407.9" x2="351.3" y2="407.9" stroke="#111" stroke-width="1.1" stroke-dasharray="4,2.5"/>
<line x1="277.3" y1="360.5" x2="277.3" y2="399.5" stroke="#111" stroke-width="1.1" stroke-dasharray="4,2.5"/>
<path d="M351.3,407.9 L351.3,381.5" stroke="#111" stroke-width="1.1" fill="none"/>
<path d="M351.3,377.4 L348.9,383 L353.7,383 z" fill="#111"/>
<path d="M357.7,400.4 L357.7,381.5" stroke="#111" stroke-width="1.1" fill="none"/>
<path d="M357.7,377.4 L355.3,383 L360.1,383 z" fill="#111"/>
<path d="M243.3,360.5 L273.3,360.5" stroke="#111" stroke-width="1.1"/>
<path d="M239.3,360.5 L244.8,358.1 L244.8,362.9 z" fill="#111"/>
<path d="M277.3,360.5 L271.8,358.1 L271.8,362.9 z" fill="#111"/>
<path d="M243.3,411.7 L264,411.7" stroke="#111" stroke-width="1.1"/>
<path d="M239.3,411.7 L244.8,409.3 L244.8,414.1 z" fill="#111"/>
<path d="M268,411.7 L262.5,409.3 L262.5,414.1 z" fill="#111"/>
<rect x="238.5" y="249.5" width="187.3" height="192.3" fill="none" stroke="#1c1c1c" stroke-width="1.75"/>
<line x1="301" y1="249.5" x2="301" y2="253" stroke="#1c1c1c" stroke-width="1.2" />
<line x1="301" y1="441.8" x2="301" y2="438.3" stroke="#1c1c1c" stroke-width="1.2" />
<line x1="363.4" y1="249.5" x2="363.4" y2="253" stroke="#1c1c1c" stroke-width="1.2" />
<line x1="363.4" y1="441.8" x2="363.4" y2="438.3" stroke="#1c1c1c" stroke-width="1.2" />
<line x1="238.5" y1="281.6" x2="242" y2="281.6" stroke="#1c1c1c" stroke-width="1.2" />
<line x1="425.8" y1="281.6" x2="422.3" y2="281.6" stroke="#1c1c1c" stroke-width="1.2" />
<line x1="238.5" y1="313.7" x2="242" y2="313.7" stroke="#1c1c1c" stroke-width="1.2" />
<line x1="425.8" y1="313.7" x2="422.3" y2="313.7" stroke="#1c1c1c" stroke-width="1.2" />
<line x1="238.5" y1="345.8" x2="242" y2="345.8" stroke="#1c1c1c" stroke-width="1.2" />
<line x1="425.8" y1="345.8" x2="422.3" y2="345.8" stroke="#1c1c1c" stroke-width="1.2" />
<line x1="238.5" y1="377.9" x2="242" y2="377.9" stroke="#1c1c1c" stroke-width="1.2" />
<line x1="425.8" y1="377.9" x2="422.3" y2="377.9" stroke="#1c1c1c" stroke-width="1.2" />
<line x1="238.5" y1="410" x2="242" y2="410" stroke="#1c1c1c" stroke-width="1.2" />
<line x1="425.8" y1="410" x2="422.3" y2="410" stroke="#1c1c1c" stroke-width="1.2" />
<text x="234.8" y="253.5" font-size="11.2" fill="#222" text-anchor="end" font-weight="normal" font-style="normal" >2</text>
<text x="234.8" y="285.6" font-size="11.2" fill="#222" text-anchor="end" font-weight="normal" font-style="normal" >1.5</text>
<text x="234.8" y="317.7" font-size="11.2" fill="#222" text-anchor="end" font-weight="normal" font-style="normal" >1</text>
<text x="234.8" y="349.8" font-size="11.2" fill="#222" text-anchor="end" font-weight="normal" font-style="normal" >0.5</text>
<text x="234.8" y="381.9" font-size="11.2" fill="#222" text-anchor="end" font-weight="normal" font-style="normal" >0</text>
<text x="234.8" y="414" font-size="11.2" fill="#222" text-anchor="end" font-weight="normal" font-style="normal" >-0.5</text>
<text x="234.8" y="446.1" font-size="11.2" fill="#222" text-anchor="end" font-weight="normal" font-style="normal" >-1</text>
<text x="238.6" y="456.8" font-size="11.2" fill="#222" text-anchor="middle" font-weight="normal" font-style="normal" >0</text>
<text x="301" y="456.8" font-size="11.2" fill="#222" text-anchor="middle" font-weight="normal" font-style="normal" >5</text>
<text x="363.4" y="456.8" font-size="11.2" fill="#222" text-anchor="middle" font-weight="normal" font-style="normal" >10</text>
<text x="425.8" y="456.8" font-size="11.2" fill="#222" text-anchor="middle" font-weight="normal" font-style="normal" >15</text>
<text x="332.5" y="473.3" font-size="12" fill="#222" text-anchor="middle" font-weight="normal" font-style="normal" >Distance (Å)</text>
<text transform="translate(209.8,330) rotate(-90)" font-size="12" fill="#222" text-anchor="middle">Potential Energy (eV)</text>
<text x="267.5" y="271.5" font-size="13.3" fill="#58ad30" text-anchor="start" font-weight="normal" font-style="normal" >Cl-facing</text>
<text x="269.5" y="309.1" font-size="13.3" fill="#a02ca8" text-anchor="start" font-weight="normal" font-style="normal" >H-facing</text>
<text x="277.7" y="356.8" font-size="13.1" fill="#a02ca8" text-anchor="start" font-weight="normal" font-style="normal" >3.24 Å</text>
<text x="242.5" y="429.6" font-size="13.1" fill="#58ad30" text-anchor="start" font-weight="normal" font-style="normal" >2.52 Å</text>
<text x="361.8" y="395.5" font-size="13.1" fill="#a02ca8" text-anchor="start" font-weight="normal" font-style="normal" >0.351 eV</text>
<text x="361.8" y="411.6" font-size="13.1" fill="#58ad30" text-anchor="start" font-weight="normal" font-style="normal" >0.468 eV</text>
<rect x="332.7" y="256.6" width="87.80000000000001" height="71.69999999999999" fill="#fff" stroke="none"/>
<line x1="333.7" y1="322.6" x2="372" y2="322.6" stroke="#111" stroke-width="2.0" stroke-dasharray="7,8"/>
<path d="M341.2,308 L344.7,312.1 L348.4,316.1 L352.4,319.2 L356.5,320.8 L360.6,321.8 L364.6,322.3 L368.6,322.5 L372.6,322.6" fill="none" stroke="#58ad30" stroke-width="1.9" stroke-linejoin="round" stroke-linecap="round" />
<circle cx="341.2" cy="308" r="2.0" fill="#58ad30"/>
<circle cx="344.7" cy="312.1" r="2.0" fill="#58ad30"/>
<circle cx="348.4" cy="316.1" r="2.0" fill="#58ad30"/>
<circle cx="352.4" cy="319.2" r="2.0" fill="#58ad30"/>
<circle cx="356.5" cy="320.8" r="2.0" fill="#58ad30"/>
<circle cx="360.6" cy="321.8" r="2.0" fill="#58ad30"/>
<circle cx="364.6" cy="322.3" r="2.0" fill="#58ad30"/>
<circle cx="368.6" cy="322.5" r="2.0" fill="#58ad30"/>
<circle cx="372.6" cy="322.6" r="2.0" fill="#58ad30"/>
<path d="M354,262.9 L357.5,297.4 L361.2,311.1 L364.6,317.2 L368.7,320.2 L372.7,322.3 L376.7,322.3 L380.7,322.3 L384.7,322.3 L388.7,322.3 L392.7,322.3 L396.7,322.3 L400.7,322.3 L404.7,322.3 L408.7,322.3 L412.7,322.3 L416.7,322.3" fill="none" stroke="#a02ca8" stroke-width="1.9" stroke-linejoin="round" stroke-linecap="round" />
<circle cx="354" cy="262.9" r="2.0" fill="#a02ca8"/>
<circle cx="357.5" cy="297.4" r="2.0" fill="#a02ca8"/>
<circle cx="361.2" cy="311.1" r="2.0" fill="#a02ca8"/>
<circle cx="364.6" cy="317.2" r="2.0" fill="#a02ca8"/>
<circle cx="368.7" cy="320.2" r="2.0" fill="#a02ca8"/>
<circle cx="372.7" cy="322.3" r="2.0" fill="#a02ca8"/>
<circle cx="376.7" cy="322.3" r="2.0" fill="#a02ca8"/>
<circle cx="380.7" cy="322.3" r="2.0" fill="#a02ca8"/>
<circle cx="384.7" cy="322.3" r="2.0" fill="#a02ca8"/>
<circle cx="388.7" cy="322.3" r="2.0" fill="#a02ca8"/>
<circle cx="392.7" cy="322.3" r="2.0" fill="#a02ca8"/>
<circle cx="396.7" cy="322.3" r="2.0" fill="#a02ca8"/>
<circle cx="400.7" cy="322.3" r="2.0" fill="#a02ca8"/>
<circle cx="404.7" cy="322.3" r="2.0" fill="#a02ca8"/>
<circle cx="408.7" cy="322.3" r="2.0" fill="#a02ca8"/>
<circle cx="412.7" cy="322.3" r="2.0" fill="#a02ca8"/>
<circle cx="416.7" cy="322.3" r="2.0" fill="#a02ca8"/>
<rect x="332.7" y="256.6" width="87.8" height="71.7" fill="none" stroke="#1c1c1c" stroke-width="1.3"/>
<line x1="363.6" y1="256.6" x2="363.6" y2="259.6" stroke="#1c1c1c" stroke-width="1.1" />
<line x1="363.6" y1="328.3" x2="363.6" y2="325.3" stroke="#1c1c1c" stroke-width="1.1" />
<line x1="332.7" y1="289.3" x2="335.7" y2="289.3" stroke="#1c1c1c" stroke-width="1.1" />
<line x1="420.5" y1="289.3" x2="417.5" y2="289.3" stroke="#1c1c1c" stroke-width="1.1" />
<text x="328.8" y="261" font-size="11.2" fill="#222" text-anchor="end" font-weight="normal" font-style="normal" >100</text>
<text x="328.8" y="293.3" font-size="11.2" fill="#222" text-anchor="end" font-weight="normal" font-style="normal" >50</text>
<text x="328.8" y="326.6" font-size="11.2" fill="#222" text-anchor="end" font-weight="normal" font-style="normal" >0</text>
<text x="332.4" y="344" font-size="11.2" fill="#222" text-anchor="middle" font-weight="normal" font-style="normal" >0</text>
<text x="419.9" y="344" font-size="11.2" fill="#222" text-anchor="middle" font-weight="normal" font-style="normal" >5</text>
<text x="391.5" y="272.4" font-size="12" fill="#777" text-anchor="middle" font-weight="normal" font-style="normal" >zoomed-</text>
<text x="391.5" y="286.7" font-size="12" fill="#777" text-anchor="middle" font-weight="normal" font-style="normal" >out</text>
<path d="M471.5,146.8 L539.5,146.8 L539.5,259.4 L471.5,259.4" stroke="#4f7fe0" stroke-width="1.2" stroke-dasharray="1.1,1.5" fill="none"/>
<path d="M471.5,146.8 L569,265.5 M539.5,146.8 L664.7,265.5 M471.5,259.4 L569,384.6 M539.5,259.4 L664.7,384.6" stroke="#4f7fe0" stroke-width="1.2" stroke-dasharray="1.1,1.5" fill="none"/>
<clipPath id="clipe"><rect x="471.0" y="33.2" width="204.79999999999995" height="376.0"/></clipPath>
<g clip-path="url(#clipe)">
<path d="M473.74,33.6 L477.24,33.8 L473.53,34.04 L476.87,34.24 L473.4,34.48 L477.19,34.68 L473.71,34.92 L478.4,35.12 L473.61,35.36 L476.08,35.56 L474.12,35.8 L476,36 L474.04,36.23 L478,36.43 L474.28,36.66 L476.89,36.86 L474.39,37.09 L476,37.29 L474.26,37.51 L477.51,37.71 L474.06,37.94 L476.39,38.14 L474.21,38.37 L476,38.57 L475.02,38.8 L482,39 L475.42,39.21 L480.5,39.41 L475.23,39.63 L479.89,39.83 L475.14,40.04 L479.11,40.24 L475.21,40.46 L478.54,40.66 L475.06,40.87 L478.5,41.07 L475.28,41.29 L479.33,41.49 L476.76,41.7 L484.23,41.9 L476.28,42.11 L481.84,42.31 L476.26,42.53 L480.55,42.73 L476.69,42.94 L480.5,43.14 L476.36,43.36 L485,43.56 L476.35,43.77 L482.79,43.97 L476.76,44.19 L483.82,44.39 L478.17,44.6 L486,44.8 L478.04,45.04 L484.68,45.24 L478.57,45.48 L482.18,45.68 L478.45,45.92 L482.25,46.12 L478.54,46.36 L482.03,46.56 L478.25,46.8 L482.13,47 L478.33,47.24 L482,47.44 L478.11,47.68 L484.64,47.88 L478.01,48.12 L483.19,48.32 L478.39,48.56 L482.34,48.76 L479.6,49 L486.63,49.2 L479.97,49.41 L485.69,49.61 L479.86,49.83 L485.66,50.03 L479.56,50.24 L485.66,50.44 L479.36,50.66 L485.7,50.86 L480.29,51.07 L492.3,51.27 L479.4,51.49 L488.55,51.69 L482.37,51.9 L499.6,52.1 L483.5,52.31 L491.25,52.51 L482.18,52.73 L492.75,52.93 L482.38,53.14 L497.96,53.34 L483.36,53.56 L490.93,53.76 L482.52,53.97 L491.06,54.17 L482.16,54.39 L490.8,54.59 L485.06,54.8 L509.88,55 L487.54,55.24 L506.31,55.44 L487.4,55.68 L505.49,55.88 L485.56,56.12 L515.36,56.32 L486.58,56.56 L525.9,56.76 L486.64,57 L500.35,57.2 L487.71,57.44 L514,57.64 L486.44,57.88 L504.49,58.08 L487.55,58.32 L502.93,58.52 L487.09,58.76 L503.81,58.96 L490.76,59.2 L526.86,59.4 L488.68,59.7 L553.6,59.9 L494.32,60.2 L520.8,60.4 L480.88,60.7 L495.08,60.9 L480.95,61.12 L502.5,61.32 L481.1,61.54 L498.25,61.74 L482.09,61.96 L492.58,62.16 L480.28,62.38 L500.07,62.58 L477.62,62.8 L486.9,63 L476.53,63.23 L487.35,63.43 L476.39,63.66 L491.66,63.86 L476.03,64.09 L495,64.29 L476.85,64.51 L485.66,64.71 L476.33,64.94 L485.5,65.14 L477.09,65.37 L485.9,65.57 L476.18,65.8 L482.5,66 L476.59,66.24 L489,66.44 L476.95,66.68 L482.7,66.88 L477.23,67.12 L483.28,67.32 L477.2,67.56 L483.62,67.76 L477.46,68 L482.31,68.2 L477.01,68.41 L482.69,68.61 L477.31,68.83 L480.95,69.03 L477.47,69.24 L483.5,69.44 L477.65,69.66 L480.34,69.86 L477.35,70.07 L480.25,70.27 L477.59,70.49 L481.34,70.69 L477.33,70.9 L479.55,71.1 L477.25,71.31 L478.87,71.51 L477.31,71.71 L479.91,71.91 L477.28,72.12 L478.91,72.32 L477.31,72.52 L480.6,72.72 L477.22,72.93 L479.08,73.13 L477.21,73.33 L478.88,73.53 L477.03,73.74 L479.14,73.94 L477.36,74.14 L479.2,74.34 L477.26,74.55 L479.83,74.75 L477.26,74.96 L478.89,75.16 L477.16,75.36 L479.1,75.56 L477.03,75.77 L479.69,75.97 L477.01,76.17 L479.44,76.37 L477.17,76.58 L479.13,76.78 L477.25,76.98 L478.82,77.18 L477.22,77.39 L478.99,77.59 L477.09,77.79 L479.98,77.99 L478.29,78.2 L486,78.4 L478.49,78.64 L482.01,78.84 L478.6,79.08 L482.47,79.28 L478.74,79.52 L482.14,79.72 L478.19,79.96 L482.42,80.16 L478.2,80.4 L482.22,80.6 L478.64,80.84 L482.86,81.04 L478.16,81.28 L483.44,81.48 L478.18,81.72 L482.03,81.92 L478.17,82.16 L484.62,82.36 L480.48,82.6 L488.76,82.8 L480.5,83.01 L496.7,83.21 L480.68,83.43 L490.52,83.63 L479.3,83.84 L488.01,84.04 L479.49,84.26 L488.53,84.46 L479.73,84.67 L487.92,84.87 L479.87,85.09 L489.67,85.29 L479.62,85.5 L483.84,85.7 L479.24,85.93 L483.46,86.13 L479.21,86.37 L484.47,86.57 L479.5,86.8 L483.4,87 L479.26,87.23 L482.77,87.43 L479.48,87.67 L486.4,87.87 L479.47,88.1 L483.26,88.3 L479.14,88.53 L482.91,88.73 L479.2,88.97 L484.11,89.17 L479.08,89.4 L487.02,89.6 L479.71,89.81 L488.67,90.01 L480.05,90.23 L488.68,90.43 L480.53,90.64 L490.54,90.84 L479.32,91.06 L489.16,91.26 L479.29,91.47 L487.72,91.67 L479.76,91.89 L487,92.09 L479.29,92.3 L489.45,92.5 L479.55,92.71 L487.14,92.91 L479.83,93.13 L489.28,93.33 L480.21,93.54 L488.56,93.74 L480.27,93.96 L487.41,94.16 L480.45,94.37 L495,94.57 L480.49,94.79 L487,94.99 L481.39,95.2 L489.32,95.4 L482.18,95.64 L491.09,95.84 L481.59,96.08 L489.69,96.28 L481.99,96.52 L494.27,96.72 L481.41,96.96 L495.45,97.16 L480.96,97.4 L491.32,97.6 L481.86,97.84 L498,98.04 L481.72,98.28 L493.31,98.48 L480.97,98.72 L492,98.92 L482.31,99.16 L494.63,99.36 L485.58,99.6 L495.3,99.8 L485.82,100.01 L494.28,100.21 L484.7,100.43 L499.26,100.63 L484.88,100.84 L494,101.04 L485.1,101.26 L504,101.46 L484.97,101.67 L497.81,101.87 L485.62,102.09 L494,102.29 L485.6,102.5 L494,102.7 L484.67,102.91 L494.04,103.11 L484.28,103.33 L498.11,103.53 L485.03,103.74 L494.03,103.94 L485.68,104.16 L497.18,104.36 L485.89,104.57 L496.75,104.77 L485.9,104.99 L495,105.19 L488.42,105.4 L509.05,105.6 L488.8,105.81 L519.3,106.01 L488.81,106.22 L510.94,106.42 L488.66,106.63 L503.21,106.83 L487.83,107.04 L513.28,107.24 L490.08,107.46 L507.25,107.66 L488.97,107.87 L512.09,108.07 L487.46,108.28 L503.53,108.48 L487.88,108.69 L505.34,108.89 L483.86,109.1 L492.72,109.3 L483.99,109.5 L493.7,109.7 L484.71,109.9 L492.65,110.1 L483.59,110.3 L493.79,110.5 L483.91,110.7 L496.9,110.9 L484.16,111.1 L493.63,111.3 L483.86,111.5 L492.65,111.7 L483.62,111.9 L502.5,112.1 L484.62,112.3 L499.9,112.5 L486.59,112.7 L492.08,112.9 L487.08,113.11 L492.2,113.31 L487.1,113.52 L496.13,113.72 L486.13,113.93 L492.73,114.13 L486.5,114.34 L498,114.54 L486.31,114.76 L492,114.96 L487.17,115.17 L493.74,115.37 L486.19,115.58 L492,115.78 L486.34,115.99 L492,116.19 L492.55,116.4 L508.57,116.6 L492.84,116.84 L510.19,117.04 L492.99,117.28 L517.46,117.48 L493.26,117.72 L513.8,117.92 L490.88,118.16 L518.35,118.36 L493.02,118.6 L525.9,118.8 L492.96,119.04 L516.63,119.24 L493.83,119.48 L510.65,119.68 L491.57,119.92 L510.59,120.12 L492.71,120.36 L508.5,120.56 L498.55,120.8 L515.96,121 L499.9,121.22 L513.76,121.42 L498.74,121.65 L517.01,121.85 L500.17,122.08 L510.06,122.28 L500.35,122.5 L509.85,122.7 L498.31,122.92 L516.65,123.12 L499.71,123.35 L509.89,123.55 L498.23,123.78 L509.92,123.98 L498.99,124.2 L515.44,124.4 L499.86,124.62 L521.5,124.83 L498.95,125.05 L509.77,125.25 L498.04,125.48 L512.93,125.68 L506.63,125.9 L531.4,126.1 L508.75,126.31 L550.7,126.51 L508.22,126.73 L528.76,126.93 L506.57,127.14 L532.76,127.34 L508.81,127.56 L546.96,127.76 L507.2,127.97 L537.78,128.17 L508.48,128.39 L527.85,128.59 L503.09,128.8 L533.82,129 L500.73,129.21 L530.38,129.41 L504.76,129.63 L530.52,129.83 L505.29,130.04 L555.34,130.24 L500.18,130.46 L561,130.66 L505.44,130.87 L530.31,131.07 L504.3,131.29 L532.84,131.49 L485.37,131.7 L506.5,131.9 L484.42,132.11 L506.22,132.31 L486.28,132.52 L506.36,132.72 L484.38,132.93 L505.4,133.13 L485.07,133.34 L506.65,133.54 L485.12,133.76 L527.3,133.96 L486.15,134.17 L519.81,134.37 L486.97,134.58 L505.42,134.78 L483.87,134.99 L506.02,135.19 L485.89,135.4 L511.98,135.6 L486.59,135.8 L512.27,136 L486.31,136.2 L517.04,136.4 L488.47,136.6 L508.38,136.8 L489.36,137 L508.43,137.2 L486.54,137.4 L508.4,137.6 L487.52,137.8 L531.7,138 L487.02,138.2 L509.34,138.4 L485.97,138.6 L508.47,138.8 L488.72,139 L508.47,139.2 L487.93,139.4 L502.19,139.6 L489.58,139.8 L501.55,140 L488.51,140.2 L503.73,140.4 L489.65,140.6 L510.36,140.8 L488.79,141 L514.2,141.2 L489.4,141.4 L504.22,141.6 L488.92,141.8 L502.72,142 L489.59,142.2 L512.09,142.4 L489.9,142.6 L504.86,142.8 L487.96,143 L511.45,143.2 L489.84,143.4 L503.62,143.6 L494,143.8 L510.33,144 L494.48,144.23 L515.33,144.43 L493.17,144.66 L509.1,144.86 L493.45,145.09 L509.4,145.29 L494.12,145.52 L525.9,145.72 L494.05,145.95 L510.11,146.15 L492.63,146.38 L517.66,146.58 L494.47,146.81 L510.34,147.01 L494.55,147.24 L511.44,147.44 L493.6,147.67 L521.4,147.87 L483.84,148.1 L491.96,148.3 L483.63,148.51 L501,148.71 L483.13,148.93 L492.77,149.13 L482.94,149.34 L492.13,149.54 L482.76,149.76 L491.68,149.96 L483.01,150.17 L491.74,150.37 L482.51,150.59 L492.4,150.79 L476.53,151 L489.25,151.2 L476.59,151.41 L486.4,151.61 L476.27,151.82 L488.36,152.02 L476.39,152.23 L487.07,152.43 L474.92,152.64 L498,152.84 L475.72,153.06 L486.7,153.26 L476.48,153.47 L488.32,153.67 L476.65,153.88 L486.72,154.08 L476.47,154.29 L486.51,154.49 L473.5,156.5 L473,160 L472.6,164 L472.3,167.8" fill="none" stroke="#000" stroke-width="1.45" stroke-linejoin="round" stroke-linecap="round" />
<path d="M472,221.8 L474.5,223.5 L477,226 L476.92,226 L482.12,226.2 L477.02,226.45 L482.49,226.65 L477.07,226.9 L487.9,227.1 L477.13,227.35 L485.38,227.55 L476.52,227.8 L482.05,228 L477.34,228.25 L482.05,228.45 L476.85,228.7 L482.08,228.9 L476.7,229.15 L483.99,229.35 L479.24,229.6 L493,229.8 L478.79,230 L485.7,230.2 L478.66,230.4 L486.16,230.6 L479.18,230.8 L485.71,231 L479.84,231.2 L488.07,231.4 L478.49,231.6 L490.96,231.8 L478.89,232 L485.91,232.2 L478.97,232.4 L485.74,232.6 L479.67,232.8 L490.18,233 L479.15,233.2 L491.06,233.4 L478.8,233.6 L485.83,233.8 L480.07,234 L486.89,234.2 L480.04,234.42 L487.72,234.62 L480.69,234.83 L491.41,235.03 L480.56,235.25 L487.65,235.45 L481.26,235.67 L488.51,235.87 L480.51,236.08 L487.02,236.28 L480.41,236.5 L487.99,236.7 L480.74,236.92 L488.07,237.12 L480.92,237.33 L487.32,237.53 L480.12,237.75 L487.7,237.95 L480.49,238.17 L492.54,238.37 L480.59,238.58 L493.7,238.78 L485.69,239 L503.95,239.2 L483.05,239.41 L504.09,239.61 L484.01,239.82 L503.95,240.02 L482.13,240.23 L504.08,240.43 L482.79,240.64 L504.93,240.84 L484.76,241.06 L517.83,241.26 L483.95,241.47 L525.9,241.67 L482.59,241.88 L503.95,242.08 L485.24,242.29 L512.66,242.49 L488.04,242.7 L504.74,242.9 L490.08,243.12 L501.82,243.32 L489.11,243.54 L509.68,243.74 L489.21,243.96 L507.75,244.16 L489.44,244.39 L502.64,244.59 L489.86,244.81 L511.81,245.01 L489.81,245.23 L502.22,245.43 L488.83,245.65 L503.99,245.85 L490.06,246.07 L506.38,246.27 L490.38,246.49 L503.54,246.69 L487.95,246.91 L514.2,247.11 L489.57,247.34 L502.43,247.54 L488.35,247.76 L501.49,247.96 L489.04,248.18 L504.71,248.38 L487.45,248.6 L516.44,248.8 L490.98,249.05 L516.47,249.25 L490.13,249.5 L540.41,249.7 L487.4,249.95 L519.14,250.15 L487.14,250.4 L545.6,250.6 L490.4,250.85 L526.79,251.05 L489.36,251.3 L522.12,251.5 L492.32,251.75 L516.34,251.95 L485.07,252.2 L498.02,252.4 L486.49,252.61 L494.15,252.81 L485.36,253.02 L493.75,253.22 L485.67,253.43 L494.61,253.63 L486.26,253.84 L496.85,254.04 L485.44,254.26 L494.49,254.46 L485.47,254.67 L493.84,254.87 L486.17,255.08 L493.75,255.28 L485.28,255.49 L502.5,255.69 L479.04,255.9 L486.55,256.1 L479.41,256.3 L486.37,256.5 L480.03,256.7 L490.1,256.9 L480.13,257.1 L486.48,257.3 L480.19,257.5 L486.41,257.7 L479.97,257.9 L486.92,258.1 L479.63,258.3 L486.89,258.5 L479.38,258.7 L486.63,258.9 L480.01,259.1 L492,259.3 L479.89,259.5 L488.49,259.7 L479.16,259.9 L493.7,260.1 L481.45,260.3 L493.95,260.5 L481.8,260.73 L498.3,260.93 L481.25,261.16 L492.37,261.36 L482.56,261.59 L492.34,261.79 L482.23,262.02 L493.6,262.22 L482.88,262.45 L497.67,262.65 L481.55,262.88 L492.37,263.08 L482.38,263.31 L498.87,263.51 L482.13,263.74 L492.87,263.94 L481.06,264.17 L504,264.37 L484.56,264.6 L495.91,264.8 L482.15,265.04 L496.35,265.24 L483.46,265.48 L509.8,265.68 L482.55,265.92 L503.08,266.12 L484.65,266.36 L496.45,266.56 L482.89,266.8 L495.9,267 L482.32,267.24 L501.15,267.44 L482.14,267.68 L497.42,267.88 L482.18,268.12 L498.85,268.32 L484.56,268.56 L498.07,268.76 L482.86,269 L496.9,269.2 L481.26,269.4 L504.88,269.6 L482.26,269.8 L498.34,270 L482.96,270.2 L495.72,270.4 L482.22,270.6 L505.95,270.8 L482.44,271 L504.63,271.2 L480.98,271.4 L498.8,271.6 L480.73,271.8 L495.54,272 L480.17,272.2 L510.5,272.4 L480.91,272.6 L505.42,272.8 L480.96,273 L495.25,273.2 L481.36,273.4 L495.26,273.6 L480.54,273.8 L495.72,274 L481.27,274.2 L496.64,274.4 L482.48,274.6 L495.82,274.8 L481.65,275 L495.62,275.2 L482.93,275.4 L503.92,275.6 L486.02,275.8 L502.74,276 L486.19,276.22 L496.15,276.42 L486.8,276.64 L495.96,276.84 L486.22,277.06 L499.85,277.26 L485.56,277.49 L496.76,277.69 L485.53,277.91 L506.9,278.11 L486.22,278.33 L495.98,278.53 L485.36,278.75 L496.27,278.95 L486.48,279.17 L496.44,279.37 L485.29,279.59 L496.03,279.79 L486.96,280.01 L498.68,280.21 L486.18,280.44 L496.7,280.64 L486.01,280.86 L496.52,281.06 L485.96,281.28 L501.65,281.48 L482.04,281.7 L501.37,281.9 L482.59,282.11 L501.01,282.31 L484.96,282.51 L502.49,282.71 L483.79,282.92 L501.16,283.12 L484.39,283.32 L505.1,283.52 L485.5,283.73 L501,283.93 L484.22,284.13 L520,284.33 L482.91,284.54 L501.45,284.74 L485.54,284.94 L506.22,285.14 L483.51,285.35 L501.61,285.55 L482.66,285.76 L503.76,285.96 L485.49,286.16 L502.07,286.36 L485.13,286.57 L503.75,286.77 L485.3,286.97 L501.29,287.17 L482.86,287.38 L508.65,287.58 L484.59,287.78 L503.38,287.98 L484.29,288.19 L504,288.39 L484.1,288.59 L501.22,288.79 L493.95,289 L503.34,289.2 L492.55,289.44 L510.62,289.64 L493.01,289.88 L506.09,290.08 L494.27,290.32 L502.95,290.52 L493.42,290.76 L502.52,290.96 L493.33,291.2 L512.7,291.4 L492.52,291.64 L504.87,291.84 L493.34,292.08 L507,292.28 L493.11,292.52 L509.13,292.72 L493.33,292.96 L502.51,293.16 L499.09,293.4 L528.05,293.6 L500.11,293.83 L552.89,294.03 L499.08,294.26 L530.89,294.46 L502.33,294.69 L533.43,294.89 L499.67,295.12 L558,295.32 L499.12,295.55 L528.09,295.75 L502.26,295.98 L537.23,296.18 L502.21,296.41 L535.57,296.61 L500.05,296.84 L531.97,297.04 L500.03,297.27 L540.18,297.47 L489.39,297.7 L503.65,297.9 L488.75,298.1 L501.88,298.3 L487.92,298.5 L511.3,298.7 L490.16,298.9 L501.06,299.1 L490.13,299.3 L500.29,299.5 L489.69,299.7 L508.09,299.9 L489.9,300.1 L499.61,300.3 L488.52,300.5 L508.56,300.7 L489.34,300.9 L501.41,301.1 L489.6,301.3 L499.8,301.5 L488.83,301.7 L499.95,301.9 L483.21,302.1 L496.27,302.3 L482.95,302.52 L499.6,302.72 L483.68,302.94 L490.83,303.14 L482.8,303.36 L496.55,303.56 L482.13,303.79 L491.22,303.99 L483.5,304.21 L492.55,304.41 L482.51,304.63 L491.23,304.83 L483.4,305.05 L492.5,305.25 L482.5,305.47 L490.84,305.67 L482.07,305.89 L492.76,306.09 L482.56,306.31 L494.83,306.51 L482.8,306.74 L495.06,306.94 L482.03,307.16 L490.83,307.36 L482.46,307.58 L490.81,307.78 L481.05,308 L489.44,308.2 L481.67,308.43 L489.7,308.63 L480.72,308.86 L488.2,309.06 L480.92,309.29 L488.53,309.49 L481.17,309.72 L487.94,309.92 L481.91,310.15 L487.9,310.35 L481.91,310.58 L488.04,310.78 L481.68,311.01 L495.2,311.21 L481.91,311.44 L487.9,311.64 L481.37,311.87 L491.15,312.07 L479.03,312.3 L485.01,312.5 L479.34,312.8 L484.52,313 L479.94,313.3 L490,313.5 L478.9,313.8 L489.75,314 L479.1,314.21 L488.75,314.41 L479.81,314.63 L496.67,314.83 L478.27,315.04 L488.7,315.24 L479.41,315.46 L495.62,315.66 L479.2,315.87 L490.8,316.07 L479.6,316.29 L488.66,316.49 L477.99,316.7 L488.67,316.9 L479.82,317.11 L492.9,317.31 L479.19,317.53 L495.67,317.73 L479.88,317.94 L489.04,318.14 L479.16,318.36 L490.79,318.56 L478.92,318.77 L491.49,318.97 L478.19,319.19 L499.6,319.39 L480.8,319.6 L487.2,319.8 L481.86,320.02 L487.24,320.22 L480.9,320.44 L491.6,320.64 L481.24,320.86 L487.15,321.06 L480.75,321.29 L488.25,321.49 L481.61,321.71 L487.55,321.91 L481.54,322.13 L487.15,322.33 L481.63,322.55 L488.92,322.75 L481.21,322.97 L487.78,323.17 L480.78,323.39 L487.92,323.59 L481.27,323.81 L493.7,324.01 L481.02,324.24 L487.23,324.44 L480.81,324.66 L487.15,324.86 L481.31,325.08 L487.15,325.28 L483.11,325.5 L497.77,325.7 L484.14,325.93 L493.45,326.13 L482.71,326.37 L493.19,326.57 L484.14,326.8 L504,327 L482.14,327.23 L493,327.43 L482.07,327.67 L495.89,327.87 L483.15,328.1 L500.8,328.3 L482.78,328.53 L493.53,328.73 L483.1,328.97 L494.27,329.17 L488.85,329.4 L497.41,329.6 L488.64,329.8 L502.7,330 L489.36,330.2 L497.52,330.4 L488.46,330.6 L497.41,330.8 L489.51,331 L499.11,331.2 L489.54,331.4 L506.9,331.6 L488.41,331.8 L497.68,332 L488.13,332.2 L497.78,332.4 L489.36,332.6 L497.56,332.8 L488.41,333 L504.89,333.2 L489.3,333.4 L497.4,333.6 L492.07,333.8 L512.61,334 L493.13,334.23 L511.46,334.43 L492.31,334.66 L511.46,334.86 L493.2,335.09 L519,335.29 L492.12,335.52 L506.32,335.72 L491.07,335.95 L521.5,336.15 L493.31,336.38 L506.83,336.58 L492.41,336.81 L507.63,337.01 L491.07,337.24 L512.25,337.44 L492.28,337.67 L506.72,337.87 L500.88,338.1 L523.11,338.3 L503.7,338.53 L522.65,338.73 L501.63,338.95 L526.97,339.15 L501.64,339.38 L523.15,339.57 L504.01,339.8 L534.52,340 L500.72,340.23 L523.89,340.43 L501.89,340.65 L524.68,340.85 L500.17,341.07 L545.6,341.27 L501.02,341.5 L524.78,341.7 L500.1,341.93 L535.8,342.12 L502.94,342.35 L539.95,342.55 L503.08,342.77 L523.4,342.97 L481.2,343.2 L524.4,343.4 L482.56,343.61 L517.94,343.81 L480.13,344.02 L501.7,344.22 L479.97,344.43 L502.5,344.63 L483.47,344.84 L502.76,345.04 L479.24,345.26 L502.57,345.46 L480.64,345.67 L502.05,345.87 L482.43,346.08 L501.7,346.28 L481.7,346.49 L503.11,346.69 L477.62,346.9 L483.86,347.1 L477.56,347.3 L484.83,347.5 L477.13,347.7 L483.36,347.9 L477.04,348.1 L483.17,348.3 L477.21,348.5 L482.72,348.7 L477.05,348.9 L482.45,349.1 L477.78,349.3 L482.45,349.5 L477.58,349.7 L484.67,349.9 L477.55,350.1 L482.47,350.3 L477.1,350.5 L483.97,350.7 L477.31,350.9 L482.47,351.1 L477.37,351.3 L482.54,351.5 L477.45,351.7 L482.45,351.9 L477.32,352.1 L482.71,352.3 L477.73,352.5 L483.56,352.7 L478.01,352.9 L482.52,353.1 L477.05,353.3 L487.9,353.5 L477.08,353.7 L482.56,353.9 L478.01,354.1 L482.47,354.3 L477.97,354.5 L483.39,354.7 L477.38,354.9 L487.02,355.1 L477.32,355.3 L483.62,355.5 L477.86,355.7 L486.01,355.9 L478.41,356.13 L488.13,356.33 L477.38,356.56 L486.67,356.76 L477.91,356.99 L486,357.19 L477.2,357.42 L489.19,357.62 L478.07,357.85 L487.08,358.05 L477.42,358.28 L487.33,358.48 L477.04,358.71 L486.01,358.91 L477.55,359.14 L495,359.34 L477.75,359.57 L491.45,359.77 L476.46,360 L479.44,360.2 L476.45,360.41 L478.56,360.61 L476.35,360.81 L479.49,361.01 L476.6,361.22 L478.41,361.42 L476.37,361.62 L478.86,361.82 L476.38,362.03 L480.6,362.23 L476.45,362.43 L478.4,362.63 L476.42,362.84 L479.3,363.04 L476.52,363.24 L479.03,363.44 L476.48,363.65 L478.47,363.85 L476.51,364.06 L480.1,364.26 L476.49,364.46 L478.41,364.66 L476.54,364.87 L478.9,365.07 L476.6,365.27 L479.04,365.47 L476.29,365.68 L480.12,365.88 L476.22,366.08 L478.6,366.28 L476.25,366.49 L480.17,366.69 L476.47,366.89 L478.54,367.09 L482.28,367.3 L522.75,367.5 L485.28,367.74 L506.94,367.94 L482.72,368.18 L524.7,368.38 L481.91,368.62 L510.32,368.82 L483.39,369.06 L507.53,369.26 L481.82,369.5 L515.25,369.7 L482.77,369.94 L533.2,370.14 L484.69,370.38 L515.18,370.58 L482.89,370.82 L514.23,371.02 L483.21,371.26 L507.18,371.46 L496.65,371.7 L517.8,371.9 L497.71,372.1 L519.23,372.3 L494.13,372.5 L517.82,372.7 L495.27,372.9 L524.38,373.1 L495.65,373.3 L519.47,373.5 L496.71,373.7 L537.17,373.9 L497.74,374.1 L529.49,374.3 L495.86,374.5 L530.58,374.7 L496.18,374.9 L518.29,375.1 L498.01,375.3 L541.9,375.5 L496,375.7 L531.75,375.9 L489.49,376.1 L498.4,376.3 L488.29,376.51 L502.68,376.71 L489.52,376.92 L498.86,377.12 L489.28,377.33 L499.52,377.53 L488.73,377.74 L498.41,377.94 L489.97,378.15 L508.6,378.35 L489.18,378.56 L498.76,378.76 L488.78,378.97 L500.16,379.17 L489.23,379.38 L499.01,379.58 L489.92,379.79 L504.02,379.99 L485.67,380.2 L497.89,380.4 L486.05,380.61 L495.38,380.81 L485.77,381.03 L499.9,381.23 L485.49,381.44 L492.89,381.64 L485.95,381.86 L494.24,382.06 L485.31,382.27 L498.72,382.47 L486.24,382.69 L493.15,382.89 L486.02,383.1 L498.41,383.3 L486.56,383.51 L492.64,383.71 L486.69,383.93 L495.33,384.13 L485.37,384.34 L493.41,384.54 L485.49,384.76 L497.49,384.96 L485.53,385.17 L493.69,385.37 L486.66,385.59 L492.6,385.79 L483.36,386 L511.5,386.2 L482.64,386.41 L497.53,386.61 L483.01,386.82 L499.94,387.02 L483.67,387.23 L500.76,387.43 L484.48,387.64 L504.24,387.84 L482.75,388.06 L504.65,388.26 L484.56,388.47 L503.05,388.67 L482.3,388.88 L497.21,389.08 L484.55,389.29 L496.91,389.49 L477.36,389.7 L480.5,389.9 L477.25,390.11 L480.68,390.31 L477.77,390.52 L481.23,390.72 L477.32,390.93 L482.16,391.13 L477.72,391.34 L482.59,391.54 L477.76,391.74 L480.51,391.94 L477.78,392.15 L482.73,392.35 L477.74,392.56 L481.67,392.76 L477.21,392.97 L480.92,393.17 L477.53,393.38 L481.37,393.58 L477.29,393.79 L480.51,393.99 L477.8,394.2 L482.42,394.4 L477.21,394.61 L480.5,394.81 L477.39,395.01 L481.44,395.21 L477.51,395.42 L482.32,395.62 L477.23,395.83 L481.5,396.03 L477.33,396.24 L481.8,396.44 L477.52,396.65 L480.72,396.85 L477.36,397.06 L480.59,397.26 L477.23,397.47 L480.75,397.67 L477.29,397.88 L480.51,398.08 L477.41,398.29 L482.23,398.49 L477.79,398.69 L483.14,398.89 L477.76,399.1 L480.51,399.3 L477.49,399.51 L483.16,399.71 L477.64,399.92 L480.81,400.12 L477.37,400.33 L480.83,400.53 L477.35,400.74 L481.59,400.94 L477.21,401.15 L480.66,401.35 L477.73,401.56 L480.59,401.76 L477.33,401.96 L480.51,402.16 L477.4,402.37 L480.67,402.57 L477.24,402.78 L480.5,402.98 L477.33,403.19 L483.8,403.39 L486.51,403.6 L507.2,403.8 L486.14,404.02 L517.4,404.22 L484.67,404.43 L514.63,404.63 L485.31,404.85 L505.6,405.05 L485.29,405.27 L513.11,405.47 L486.41,405.68 L505.95,405.88 L486.37,406.1 L513.24,406.3 L485.98,406.52 L501.1,406.72 L486.96,406.93 L507.73,407.13 L486.25,407.35 L500.81,407.55 L484.33,407.77 L505.9,407.97 L485.69,408.18 L500.62,408.38" fill="none" stroke="#000" stroke-width="1.45" stroke-linejoin="round" stroke-linecap="round" />
</g>
<path d="M471.5,33.2 L471.5,33.3 L471.5,33.4 L471.5,33.5 L471.5,33.6 L471.5,33.7 L471.5,33.8 L471.5,33.9 L471.5,34 L471.5,34.1 L471.5,34.2 L471.5,34.3 L471.5,34.4 L471.5,34.5 L471.5,34.6 L471.5,34.7 L471.5,34.8 L471.5,34.9 L471.5,35 L471.5,35.1 L471.5,35.2 L471.5,35.3 L471.5,35.4 L471.5,35.5 L471.5,35.6 L471.5,35.7 L471.5,35.8 L471.5,35.9 L471.5,36 L471.5,36.1 L471.5,36.2 L471.5,36.3 L471.5,36.4 L471.5,36.5 L471.5,36.6 L471.5,36.7 L471.5,36.8 L471.5,36.9 L471.5,37 L471.5,37.1 L471.5,37.2 L471.5,37.3 L471.5,37.4 L471.5,37.5 L471.5,37.6 L471.5,37.7 L471.5,37.8 L471.5,37.9 L471.5,38 L471.5,38.1 L471.5,38.2 L471.5,38.3 L471.5,38.4 L471.5,38.5 L471.5,38.6 L471.5,38.7 L471.5,38.8 L471.5,38.9 L471.5,39 L471.5,39.1 L471.5,39.2 L471.5,39.3 L471.5,39.4 L471.5,39.5 L471.5,39.6 L471.5,39.7 L471.5,39.8 L471.5,39.9 L471.5,40 L471.5,40.1 L471.5,40.2 L471.5,40.3 L471.5,40.4 L471.5,40.5 L471.5,40.6 L471.5,40.7 L471.5,40.8 L471.5,40.9 L471.5,41 L471.5,41.1 L471.5,41.2 L471.5,41.3 L471.5,41.4 L471.5,41.5 L471.5,41.6 L471.5,41.7 L471.5,41.8 L471.5,41.9 L471.5,42 L471.5,42.1 L471.5,42.2 L471.5,42.3 L471.5,42.4 L471.5,42.5 L471.5,42.6 L471.5,42.7 L471.5,42.8 L471.5,42.9 L471.5,43 L471.5,43.1 L471.5,43.2 L471.5,43.3 L471.5,43.4 L471.5,43.5 L471.5,43.6 L471.5,43.7 L471.5,43.8 L471.5,43.9 L471.5,44 L471.5,44.1 L471.5,44.2 L471.5,44.3 L471.5,44.4 L471.5,44.5 L471.5,44.6 L471.5,44.7 L471.5,44.8 L471.5,44.9 L471.5,45 L471.5,45.1 L471.5,45.2 L471.5,45.3 L471.5,45.4 L471.5,45.5 L471.5,45.6 L471.5,45.7 L471.5,45.8 L471.5,45.9 L471.5,46 L471.5,46.1 L471.5,46.2 L471.5,46.3 L471.5,46.4 L471.5,46.5 L471.5,46.6 L471.5,46.7 L471.5,46.8 L471.5,46.9 L471.5,47 L471.5,47.1 L471.5,47.2 L471.5,47.3 L471.5,47.4 L471.5,47.5 L471.5,47.6 L471.5,47.7 L471.5,47.8 L471.5,47.9 L471.5,48 L471.5,48.1 L471.5,48.2 L471.5,48.3 L471.5,48.4 L471.5,48.5 L471.5,48.6 L471.5,48.7 L471.5,48.8 L471.5,48.9 L471.5,49 L471.5,49.1 L471.5,49.2 L471.5,49.3 L471.5,49.4 L471.5,49.5 L471.5,49.6 L471.5,49.7 L471.5,49.8 L471.5,49.9 L471.5,50 L471.5,50.1 L471.5,50.2 L471.5,50.3 L471.5,50.4 L471.5,50.5 L471.5,50.6 L471.5,50.7 L471.5,50.8 L471.5,50.9 L471.5,51 L471.5,51.1 L471.5,51.2 L471.5,51.3 L471.5,51.4 L471.5,51.5 L471.5,51.6 L471.5,51.7 L471.5,51.8 L471.5,51.9 L471.5,52 L471.5,52.1 L471.5,52.2 L471.5,52.3 L471.5,52.4 L471.5,52.5 L471.5,52.6 L471.5,52.7 L471.5,52.8 L471.5,52.9 L471.5,53 L471.5,53.1 L471.5,53.2 L471.5,53.3 L471.5,53.4 L471.5,53.5 L471.5,53.6 L471.5,53.7 L471.5,53.8 L471.5,53.9 L471.5,54 L471.5,54.1 L471.5,54.2 L471.5,54.3 L471.5,54.4 L471.5,54.5 L471.5,54.6 L471.5,54.7 L471.5,54.8 L471.5,54.9 L471.5,55 L471.5,55.1 L471.5,55.2 L471.5,55.3 L471.5,55.4 L471.5,55.5 L471.5,55.6 L471.5,55.7 L471.5,55.8 L471.5,55.9 L471.5,56 L471.5,56.1 L471.5,56.2 L471.5,56.3 L471.5,56.4 L471.5,56.5 L471.5,56.6 L471.5,56.7 L471.5,56.8 L471.5,56.9 L471.5,57 L471.5,57.1 L471.5,57.2 L471.5,57.3 L471.5,57.4 L471.5,57.5 L471.5,57.6 L471.5,57.7 L471.5,57.8 L471.5,57.9 L471.5,58 L471.5,58.1 L471.5,58.2 L471.5,58.3 L471.5,58.4 L471.5,58.5 L471.5,58.6 L471.5,58.7 L471.5,58.8 L471.5,58.9 L471.5,59 L471.5,59.1 L471.5,59.2 L471.5,59.3 L471.5,59.4 L471.5,59.5 L471.5,59.6 L471.5,59.7 L471.5,59.8 L471.5,59.9 L471.5,60 L471.5,60.1 L471.5,60.2 L471.5,60.3 L471.5,60.4 L471.5,60.5 L471.5,60.6 L471.5,60.7 L471.5,60.8 L471.5,60.9 L471.5,61 L471.5,61.1 L471.5,61.2 L471.5,61.3 L471.5,61.4 L471.5,61.5 L471.5,61.6 L471.5,61.7 L471.5,61.8 L471.5,61.9 L471.5,62 L471.5,62.1 L471.5,62.2 L471.5,62.3 L471.5,62.4 L471.5,62.5 L471.5,62.6 L471.5,62.7 L471.5,62.8 L471.5,62.9 L471.5,63 L471.5,63.1 L471.5,63.2 L471.5,63.3 L471.5,63.4 L471.5,63.5 L471.5,63.6 L471.5,63.7 L471.5,63.8 L471.5,63.9 L471.5,64 L471.5,64.1 L471.5,64.2 L471.5,64.3 L471.5,64.4 L471.5,64.5 L471.5,64.6 L471.5,64.7 L471.5,64.8 L471.5,64.9 L471.5,65 L471.5,65.1 L471.5,65.2 L471.5,65.3 L471.52,65.4 L471.55,65.5 L471.6,65.6 L471.66,65.7 L471.72,65.8 L471.8,65.9 L471.88,66 L471.97,66.1 L472.07,66.2 L472.17,66.3 L472.28,66.4 L472.4,66.5 L472.53,66.6 L472.65,66.7 L472.79,66.8 L472.93,66.9 L473.08,67 L473.23,67.1 L473.39,67.2 L473.57,67.3 L473.78,67.4 L474.06,67.5 L474.47,67.6 L475.11,67.7 L476.18,67.8 L477.91,67.9 L480.59,68 L484.5,68.1 L489.8,68.2 L496.41,68.3 L503.9,68.4 L511.48,68.5 L518.11,68.6 L522.71,68.7 L524.5,68.8 L522.71,68.9 L518.11,69 L511.48,69.1 L503.9,69.2 L496.41,69.3 L489.8,69.4 L484.5,69.5 L480.59,69.6 L477.91,69.7 L476.18,69.8 L475.11,69.9 L474.47,70 L474.06,70.1 L473.78,70.2 L473.57,70.3 L473.39,70.4 L473.23,70.5 L473.08,70.6 L472.93,70.7 L472.79,70.8 L472.65,70.9 L472.53,71 L472.4,71.1 L472.28,71.2 L472.17,71.3 L472.07,71.4 L471.97,71.5 L471.88,71.6 L471.8,71.7 L471.72,71.8 L471.66,71.9 L471.6,72 L471.55,72.1 L471.52,72.2 L471.5,72.3 L471.5,72.4 L471.5,72.5 L471.5,72.6 L471.5,72.7 L471.5,72.8 L471.5,72.9 L471.5,73 L471.5,73.1 L471.5,73.2 L471.5,73.3 L471.5,73.4 L471.5,73.5 L471.5,73.6 L471.5,73.7 L471.5,73.8 L471.5,73.9 L471.5,74 L471.5,74.1 L471.5,74.2 L471.5,74.3 L471.5,74.4 L471.5,74.5 L471.5,74.6 L471.5,74.7 L471.5,74.8 L471.5,74.9 L471.5,75 L471.5,75.1 L471.5,75.2 L471.5,75.3 L471.5,75.4 L471.5,75.5 L471.5,75.6 L471.5,75.7 L471.5,75.8 L471.5,75.9 L471.5,76 L471.5,76.1 L471.5,76.2 L471.5,76.3 L471.5,76.4 L471.5,76.5 L471.5,76.6 L471.5,76.7 L471.5,76.8 L471.5,76.9 L471.5,77 L471.5,77.1 L471.5,77.2 L471.5,77.3 L471.5,77.4 L471.5,77.5 L471.5,77.6 L471.5,77.7 L471.5,77.8 L471.5,77.9 L471.5,78 L471.5,78.1 L471.5,78.2 L471.5,78.3 L471.5,78.4 L471.5,78.5 L471.5,78.6 L471.5,78.7 L471.5,78.8 L471.5,78.9 L471.5,79 L471.5,79.1 L471.5,79.2 L471.5,79.3 L471.5,79.4 L471.5,79.5 L471.5,79.6 L471.5,79.7 L471.5,79.8 L471.5,79.9 L471.5,80 L471.5,80.1 L471.5,80.2 L471.5,80.3 L471.5,80.4 L471.5,80.5 L471.5,80.6 L471.5,80.7 L471.5,80.8 L471.5,80.9 L471.5,81 L471.5,81.1 L471.5,81.2 L471.5,81.3 L471.5,81.4 L471.5,81.5 L471.5,81.6 L471.5,81.7 L471.5,81.8 L471.5,81.9 L471.5,82 L471.5,82.1 L471.5,82.2 L471.5,82.3 L471.5,82.4 L471.5,82.5 L471.5,82.6 L471.5,82.7 L471.5,82.8 L471.5,82.9 L471.5,83 L471.5,83.1 L471.5,83.2 L471.5,83.3 L471.5,83.4 L471.5,83.5 L471.5,83.6 L471.5,83.7 L471.5,83.8 L471.5,83.9 L471.5,84 L471.5,84.1 L471.5,84.2 L471.5,84.3 L471.5,84.4 L471.5,84.5 L471.5,84.6 L471.5,84.7 L471.5,84.8 L471.5,84.9 L471.5,85 L471.5,85.1 L471.5,85.2 L471.5,85.3 L471.5,85.4 L471.5,85.5 L471.5,85.6 L471.5,85.7 L471.5,85.8 L471.5,85.9 L471.5,86 L471.5,86.1 L471.5,86.2 L471.5,86.3 L471.5,86.4 L471.5,86.5 L471.5,86.6 L471.5,86.7 L471.5,86.8 L471.5,86.9 L471.5,87 L471.5,87.1 L471.5,87.2 L471.5,87.3 L471.5,87.4 L471.5,87.5 L471.5,87.6 L471.5,87.7 L471.5,87.8 L471.5,87.9 L471.5,88 L471.5,88.1 L471.5,88.2 L471.5,88.3 L471.5,88.4 L471.5,88.5 L471.5,88.6 L471.5,88.7 L471.5,88.8 L471.5,88.9 L471.5,89 L471.5,89.1 L471.5,89.2 L471.5,89.3 L471.5,89.4 L471.5,89.5 L471.5,89.6 L471.5,89.7 L471.5,89.8 L471.5,89.9 L471.5,90 L471.5,90.1 L471.5,90.2 L471.5,90.3 L471.5,90.4 L471.5,90.5 L471.5,90.6 L471.5,90.7 L471.5,90.8 L471.5,90.9 L471.5,91 L471.5,91.1 L471.5,91.2 L471.5,91.3 L471.5,91.4 L471.5,91.5 L471.5,91.6 L471.5,91.7 L471.5,91.8 L471.5,91.9 L471.5,92 L471.5,92.1 L471.5,92.2 L471.5,92.3 L471.5,92.4 L471.5,92.5 L471.5,92.6 L471.5,92.7 L471.5,92.8 L471.5,92.9 L471.5,93 L471.5,93.1 L471.5,93.2 L471.5,93.3 L471.5,93.4 L471.5,93.5 L471.5,93.6 L471.5,93.7 L471.5,93.8 L471.5,93.9 L471.5,94 L471.5,94.1 L471.5,94.2 L471.5,94.3 L471.5,94.4 L471.5,94.5 L471.5,94.6 L471.5,94.7 L471.5,94.8 L471.5,94.9 L471.5,95 L471.5,95.1 L471.5,95.2 L471.5,95.3 L471.5,95.4 L471.5,95.5 L471.5,95.6 L471.5,95.7 L471.5,95.8 L471.5,95.9 L471.5,96 L471.5,96.1 L471.5,96.2 L471.5,96.3 L471.5,96.4 L471.5,96.5 L471.5,96.6 L471.5,96.7 L471.5,96.8 L471.5,96.9 L471.5,97 L471.5,97.1 L471.5,97.2 L471.5,97.3 L471.5,97.4 L471.5,97.5 L471.5,97.6 L471.5,97.7 L471.5,97.8 L471.5,97.9 L471.5,98 L471.5,98.1 L471.5,98.2 L471.5,98.3 L471.5,98.4 L471.5,98.5 L471.5,98.6 L471.5,98.7 L471.5,98.8 L471.5,98.9 L471.5,99 L471.5,99.1 L471.5,99.2 L471.5,99.3 L471.5,99.4 L471.5,99.5 L471.5,99.6 L471.5,99.7 L471.5,99.8 L471.5,99.9 L471.5,100 L471.5,100.1 L471.5,100.2 L471.5,100.3 L471.5,100.4 L471.5,100.5 L471.5,100.6 L471.5,100.7 L471.5,100.8 L471.5,100.9 L471.5,101 L471.5,101.1 L471.5,101.2 L471.5,101.3 L471.5,101.4 L471.5,101.5 L471.5,101.6 L471.5,101.7 L471.5,101.8 L471.5,101.9 L471.5,102 L471.5,102.1 L471.5,102.2 L471.5,102.3 L471.5,102.4 L471.5,102.5 L471.5,102.6 L471.5,102.7 L471.5,102.8 L471.5,102.9 L471.5,103 L471.5,103.1 L471.5,103.2 L471.5,103.3 L471.5,103.4 L471.5,103.5 L471.5,103.6 L471.5,103.7 L471.5,103.8 L471.5,103.9 L471.5,104 L471.5,104.1 L471.5,104.2 L471.5,104.3 L471.5,104.4 L471.5,104.5 L471.5,104.6 L471.5,104.7 L471.5,104.8 L471.5,104.9 L471.5,105 L471.5,105.1 L471.5,105.2 L471.5,105.3 L471.5,105.4 L471.5,105.5 L471.5,105.6 L471.5,105.7 L471.5,105.8 L471.5,105.9 L471.5,106 L471.5,106.1 L471.5,106.2 L471.5,106.3 L471.5,106.4 L471.5,106.5 L471.5,106.6 L471.5,106.7 L471.5,106.8 L471.5,106.9 L471.5,107 L471.5,107.1 L471.5,107.2 L471.5,107.3 L471.5,107.4 L471.5,107.5 L471.5,107.6 L471.5,107.7 L471.5,107.8 L471.5,107.9 L471.5,108 L471.5,108.1 L471.5,108.2 L471.5,108.3 L471.5,108.4 L471.5,108.5 L471.5,108.6 L471.5,108.7 L471.5,108.8 L471.5,108.9 L471.5,109 L471.5,109.1 L471.5,109.2 L471.5,109.3 L471.5,109.4 L471.5,109.5 L471.5,109.6 L471.5,109.7 L471.5,109.8 L471.5,109.9 L471.5,110 L471.5,110.1 L471.5,110.2 L471.5,110.3 L471.5,110.4 L471.5,110.5 L471.5,110.6 L471.5,110.7 L471.5,110.8 L471.5,110.9 L471.5,111 L471.5,111.1 L471.5,111.2 L471.5,111.3 L471.5,111.4 L471.5,111.5 L471.5,111.6 L471.5,111.7 L471.5,111.8 L471.5,111.9 L471.5,112 L471.5,112.1 L471.5,112.2 L471.5,112.3 L471.5,112.4 L471.5,112.5 L471.5,112.6 L471.52,112.7 L471.58,112.8 L471.64,112.9 L471.73,113 L471.83,113.1 L471.95,113.2 L472.09,113.3 L472.26,113.4 L472.48,113.5 L472.78,113.6 L473.2,113.7 L473.79,113.8 L474.59,113.9 L475.63,114 L476.89,114.1 L478.31,114.2 L479.75,114.3 L481.04,114.4 L482,114.5 L482.5,114.6 L482,114.7 L481.04,114.8 L479.75,114.9 L478.31,115 L476.89,115.1 L475.63,115.2 L474.59,115.3 L473.79,115.4 L473.2,115.5 L472.78,115.6 L472.48,115.7 L472.26,115.8 L472.09,115.9 L471.95,116 L471.83,116.1 L471.73,116.2 L471.64,116.3 L471.58,116.4 L471.52,116.5 L471.5,116.6 L471.5,116.7 L471.5,116.8 L471.5,116.9 L471.5,117 L471.5,117.1 L471.5,117.2 L471.5,117.3 L471.5,117.4 L471.5,117.5 L471.5,117.6 L471.5,117.7 L471.5,117.8 L471.5,117.9 L471.5,118 L471.5,118.1 L471.5,118.2 L471.5,118.3 L471.5,118.4 L471.5,118.5 L471.5,118.6 L471.5,118.7 L471.5,118.8 L471.5,118.9 L471.5,119 L471.5,119.1 L471.5,119.2 L471.5,119.3 L471.5,119.4 L471.5,119.5 L471.5,119.6 L471.5,119.7 L471.5,119.8 L471.5,119.9 L471.5,120 L471.5,120.1 L471.5,120.2 L471.5,120.3 L471.5,120.4 L471.5,120.5 L471.5,120.6 L471.5,120.7 L471.5,120.8 L471.5,120.9 L471.5,121 L471.5,121.1 L471.5,121.2 L471.5,121.3 L471.5,121.4 L471.5,121.5 L471.5,121.6 L471.5,121.7 L471.5,121.8 L471.5,121.9 L471.5,122 L471.5,122.1 L471.5,122.2 L471.5,122.3 L471.5,122.4 L471.5,122.5 L471.5,122.6 L471.5,122.7 L471.5,122.8 L471.5,122.9 L471.5,123 L471.5,123.1 L471.5,123.2 L471.5,123.3 L471.5,123.4 L471.5,123.5 L471.5,123.6 L471.5,123.7 L471.5,123.8 L471.5,123.9 L471.5,124 L471.5,124.1 L471.5,124.2 L471.5,124.3 L471.5,124.4 L471.5,124.5 L471.5,124.6 L471.5,124.7 L471.5,124.8 L471.5,124.9 L471.5,125 L471.5,125.1 L471.5,125.2 L471.5,125.3 L471.5,125.4 L471.5,125.5 L471.5,125.6 L471.5,125.7 L471.5,125.8 L471.5,125.9 L471.5,126 L471.5,126.1 L471.5,126.2 L471.5,126.3 L471.5,126.4 L471.5,126.5 L471.5,126.6 L471.5,126.7 L471.5,126.8 L471.5,126.9 L471.5,127 L471.5,127.1 L471.5,127.2 L471.5,127.3 L471.5,127.4 L471.5,127.5 L471.5,127.6 L471.5,127.7 L471.5,127.8 L471.5,127.9 L471.5,128 L471.5,128.1 L471.5,128.2 L471.5,128.3 L471.5,128.4 L471.5,128.5 L471.5,128.6 L471.5,128.7 L471.5,128.8 L471.5,128.9 L471.5,129 L471.5,129.1 L471.5,129.2 L471.5,129.3 L471.5,129.4 L471.5,129.5 L471.5,129.6 L471.5,129.7 L471.5,129.8 L471.5,129.9 L471.5,130 L471.5,130.1 L471.5,130.2 L471.5,130.3 L471.5,130.4 L471.5,130.5 L471.5,130.6 L471.5,130.7 L471.5,130.8 L471.5,130.9 L471.5,131 L471.5,131.1 L471.5,131.2 L471.5,131.3 L471.5,131.4 L471.5,131.5 L471.5,131.6 L471.5,131.7 L471.5,131.8 L471.5,131.9 L471.5,132 L471.5,132.1 L471.5,132.2 L471.5,132.3 L471.5,132.4 L471.5,132.5 L471.5,132.6 L471.5,132.7 L471.5,132.8 L471.5,132.9 L471.5,133 L471.5,133.1 L471.5,133.2 L471.5,133.3 L471.5,133.4 L471.5,133.5 L471.5,133.6 L471.5,133.7 L471.5,133.8 L471.5,133.9 L471.5,134 L471.5,134.1 L471.5,134.2 L471.5,134.3 L471.5,134.4 L471.5,134.5 L471.5,134.6 L471.5,134.7 L471.5,134.8 L471.5,134.9 L471.5,135 L471.5,135.1 L471.5,135.2 L471.5,135.3 L471.5,135.4 L471.5,135.5 L471.5,135.6 L471.5,135.7 L471.5,135.8 L471.5,135.9 L471.5,136 L471.5,136.1 L471.5,136.2 L471.5,136.3 L471.5,136.4 L471.5,136.5 L471.5,136.6 L471.5,136.7 L471.5,136.8 L471.5,136.9 L471.5,137 L471.5,137.1 L471.5,137.2 L471.5,137.3 L471.5,137.4 L471.5,137.5 L471.5,137.6 L471.5,137.7 L471.5,137.8 L471.5,137.9 L471.5,138 L471.5,138.1 L471.5,138.2 L471.5,138.3 L471.5,138.4 L471.5,138.5 L471.5,138.6 L471.5,138.7 L471.5,138.8 L471.5,138.9 L471.5,139 L471.5,139.1 L471.5,139.2 L471.5,139.3 L471.5,139.4 L471.5,139.5 L471.5,139.6 L471.5,139.7 L471.5,139.8 L471.5,139.9 L471.5,140 L471.5,140.1 L471.5,140.2 L471.5,140.3 L471.5,140.4 L471.5,140.5 L471.5,140.6 L471.5,140.7 L471.5,140.8 L471.5,140.9 L471.5,141 L471.5,141.1 L471.5,141.2 L471.5,141.3 L471.5,141.4 L471.5,141.5 L471.5,141.6 L471.5,141.7 L471.5,141.8 L471.5,141.9 L471.5,142 L471.5,142.1 L471.5,142.2 L471.5,142.3 L471.5,142.4 L471.5,142.5 L471.5,142.6 L471.5,142.7 L471.5,142.8 L471.5,142.9 L471.5,143 L471.5,143.1 L471.5,143.2 L471.5,143.3 L471.5,143.4 L471.5,143.5 L471.5,143.6 L471.5,143.7 L471.5,143.8 L471.5,143.9 L471.5,144 L471.5,144.1 L471.5,144.2 L471.5,144.3 L471.5,144.4 L471.5,144.5 L471.5,144.6 L471.5,144.7 L471.5,144.8 L471.5,144.9 L471.5,145 L471.5,145.1 L471.5,145.2 L471.5,145.3 L471.5,145.4 L471.5,145.5 L471.5,145.6 L471.5,145.7 L471.5,145.8 L471.5,145.9 L471.5,146 L471.5,146.1 L471.5,146.2 L471.5,146.3 L471.5,146.4 L471.5,146.5 L471.5,146.6 L471.5,146.7 L471.5,146.8 L471.5,146.9 L471.5,147 L471.5,147.1 L471.5,147.2 L471.5,147.3 L471.5,147.4 L471.5,147.5 L471.5,147.6 L471.5,147.7 L471.5,147.8 L471.5,147.9 L471.5,148 L471.5,148.1 L471.5,148.2 L471.5,148.3 L471.5,148.4 L471.5,148.5 L471.5,148.6 L471.5,148.7 L471.5,148.8 L471.5,148.9 L471.5,149 L471.5,149.1 L471.5,149.2 L471.5,149.3 L471.5,149.4 L471.5,149.5 L471.5,149.6 L471.5,149.7 L471.5,149.8 L471.5,149.9 L471.5,150 L471.5,150.1 L471.5,150.2 L471.5,150.3 L471.5,150.4 L471.5,150.5 L471.5,150.6 L471.5,150.7 L471.5,150.8 L471.5,150.9 L471.5,151 L471.5,151.1 L471.5,151.2 L471.5,151.3 L471.5,151.4 L471.5,151.5 L471.5,151.6 L471.5,151.7 L471.5,151.8 L471.5,151.9 L471.5,152 L471.5,152.1 L471.5,152.2 L471.5,152.3 L471.5,152.4 L471.5,152.5 L471.5,152.6 L471.5,152.7 L471.5,152.8 L471.5,152.9 L471.5,153 L471.5,153.1 L471.5,153.2 L471.5,153.3 L471.5,153.4 L471.5,153.5 L471.5,153.6 L471.5,153.7 L471.5,153.8 L471.5,153.9 L471.5,154 L471.5,154.1 L471.5,154.2 L471.5,154.3 L471.5,154.4 L471.5,154.5 L471.5,154.6 L471.5,154.7 L471.5,154.8 L471.5,154.9 L471.5,155 L471.5,155.1 L471.5,155.2 L471.5,155.3 L471.5,155.4 L471.5,155.5 L471.5,155.6 L471.5,155.7 L471.5,155.8 L471.5,155.9 L471.5,156 L471.5,156.1 L471.5,156.2 L471.5,156.3 L471.5,156.4 L471.5,156.5 L471.5,156.6 L471.5,156.7 L471.5,156.8 L471.5,156.9 L471.5,157 L471.5,157.1 L471.5,157.2 L471.5,157.3 L471.5,157.4 L471.5,157.5 L471.5,157.6 L471.5,157.7 L471.5,157.8 L471.5,157.9 L471.5,158 L471.5,158.1 L471.5,158.2 L471.5,158.3 L471.5,158.4 L471.5,158.5 L471.5,158.6 L471.5,158.7 L471.5,158.8 L471.5,158.9 L471.5,159 L471.5,159.1 L471.5,159.2 L471.5,159.3 L471.5,159.4 L471.5,159.5 L471.5,159.6 L471.5,159.7 L471.5,159.8 L471.5,159.9 L471.5,160 L471.5,160.1 L471.5,160.2 L471.5,160.3 L471.5,160.4 L471.5,160.5 L471.5,160.6 L471.5,160.7 L471.5,160.8 L471.5,160.9 L471.5,161 L471.5,161.1 L471.5,161.2 L471.5,161.3 L471.5,161.4 L471.5,161.5 L471.5,161.6 L471.5,161.7 L471.5,161.8 L471.5,161.9 L471.5,162 L471.5,162.1 L471.5,162.2 L471.5,162.3 L471.5,162.4 L471.5,162.5 L471.5,162.6 L471.5,162.7 L471.5,162.8 L471.5,162.9 L471.5,163 L471.5,163.1 L471.5,163.2 L471.5,163.3 L471.5,163.4 L471.5,163.5 L471.5,163.6 L471.5,163.7 L471.5,163.8 L471.5,163.9 L471.5,164 L471.5,164.1 L471.5,164.2 L471.5,164.3 L471.5,164.4 L471.5,164.5 L471.5,164.6 L471.5,164.7 L471.5,164.8 L471.5,164.9 L471.5,165 L471.5,165.1 L471.5,165.2 L471.5,165.3 L471.5,165.4 L471.5,165.5 L471.5,165.6 L471.5,165.7 L471.5,165.8 L471.5,165.9 L471.5,166 L471.5,166.1 L471.5,166.2 L471.5,166.3 L471.5,166.4 L471.5,166.5 L471.5,166.6 L471.5,166.7 L471.5,166.8 L471.5,166.9 L471.5,167 L471.5,167.1 L471.5,167.2 L471.5,167.3 L471.5,167.4 L471.5,167.5 L471.5,167.6 L471.5,167.7 L471.5,167.8 L471.5,167.9 L471.5,168 L471.5,168.1 L471.5,168.2 L471.5,168.3 L471.5,168.4 L471.5,168.5 L471.5,168.6 L471.5,168.7 L471.5,168.8 L471.5,168.9 L471.5,169 L471.5,169.1 L471.5,169.2 L471.5,169.3 L471.5,169.4 L471.5,169.5 L471.5,169.6 L471.5,169.7 L471.5,169.8 L471.5,169.9 L471.5,170 L471.5,170.1 L471.5,170.2 L471.5,170.3 L471.5,170.4 L471.5,170.5 L471.5,170.6 L471.5,170.7 L471.5,170.8 L471.5,170.9 L471.5,171 L471.5,171.1 L471.5,171.2 L471.5,171.3 L471.5,171.4 L471.5,171.5 L471.5,171.6 L471.5,171.7 L471.5,171.8 L471.5,171.9 L471.5,172 L471.5,172.1 L471.5,172.2 L471.5,172.3 L471.5,172.4 L471.5,172.5 L471.5,172.6 L471.5,172.7 L471.5,172.8 L471.5,172.9 L471.5,173 L471.5,173.1 L471.5,173.2 L471.5,173.3 L471.5,173.4 L471.5,173.5 L471.5,173.6 L471.5,173.7 L471.5,173.8 L471.5,173.9 L471.5,174 L471.5,174.1 L471.5,174.2 L471.5,174.3 L471.5,174.4 L471.5,174.5 L471.5,174.6 L471.5,174.7 L471.5,174.8 L471.5,174.9 L471.5,175 L471.5,175.1 L471.5,175.2 L471.5,175.3 L471.5,175.4 L471.5,175.5 L471.5,175.6 L471.5,175.7 L471.5,175.8 L471.5,175.9 L471.5,176 L471.5,176.1 L471.5,176.2 L471.5,176.3 L471.5,176.4 L471.5,176.5 L471.5,176.6 L471.5,176.7 L471.5,176.8 L471.5,176.9 L471.5,177 L471.5,177.1 L471.5,177.2 L471.5,177.3 L471.5,177.4 L471.5,177.5 L471.5,177.6 L471.5,177.7 L471.5,177.8 L471.5,177.9 L471.5,178 L471.5,178.1 L471.5,178.2 L471.5,178.3 L471.5,178.4 L471.5,178.5 L471.5,178.6 L471.5,178.7 L471.5,178.8 L471.5,178.9 L471.5,179 L471.5,179.1 L471.5,179.2 L471.5,179.3 L471.5,179.4 L471.5,179.5 L471.5,179.6 L471.5,179.7 L471.5,179.8 L471.5,179.9 L471.5,180 L471.5,180.1 L471.5,180.2 L471.5,180.3 L471.5,180.4 L471.5,180.5 L471.5,180.6 L471.5,180.7 L471.5,180.8 L471.5,180.9 L471.5,181 L471.5,181.1 L471.5,181.2 L471.5,181.3 L471.5,181.4 L471.5,181.5 L471.5,181.6 L471.5,181.7 L471.5,181.8 L471.5,181.9 L471.5,182 L471.5,182.1 L471.5,182.2 L471.5,182.3 L471.5,182.4 L471.5,182.5 L471.5,182.6 L471.5,182.7 L471.5,182.8 L471.5,182.9 L471.5,183 L471.5,183.1 L471.5,183.2 L471.5,183.3 L471.5,183.4 L471.5,183.5 L471.5,183.6 L471.5,183.7 L471.5,183.8 L471.5,183.9 L471.5,184 L471.5,184.1 L471.5,184.2 L471.5,184.3 L471.5,184.4 L471.5,184.5 L471.5,184.6 L471.5,184.7 L471.5,184.8 L471.5,184.9 L471.5,185 L471.5,185.1 L471.5,185.2 L471.5,185.3 L471.5,185.4 L471.5,185.5 L471.5,185.6 L471.5,185.7 L471.5,185.8 L471.5,185.9 L471.5,186 L471.5,186.1 L471.5,186.2 L471.5,186.3 L471.5,186.4 L471.5,186.5 L471.5,186.6 L471.5,186.7 L471.5,186.8 L471.5,186.9 L471.5,187 L471.5,187.1 L471.5,187.2 L471.5,187.3 L471.5,187.4 L471.5,187.5 L471.5,187.6 L471.5,187.7 L471.5,187.8 L471.5,187.9 L471.5,188 L471.5,188.1 L471.5,188.2 L471.5,188.3 L471.5,188.4 L471.5,188.5 L471.5,188.6 L471.5,188.7 L471.5,188.8 L471.5,188.9 L471.5,189 L471.5,189.1 L471.5,189.2 L471.5,189.3 L471.5,189.4 L471.5,189.5 L471.5,189.6 L471.5,189.7 L471.5,189.8 L471.5,189.9 L471.5,190 L471.5,190.1 L471.5,190.2 L471.5,190.3 L471.5,190.4 L471.5,190.5 L471.5,190.6 L471.5,190.7 L471.5,190.8 L471.5,190.9 L471.5,191 L471.5,191.1 L471.5,191.2 L471.5,191.3 L471.5,191.4 L471.5,191.5 L471.5,191.6 L471.5,191.7 L471.5,191.8 L471.5,191.9 L471.5,192 L471.5,192.1 L471.5,192.2 L471.5,192.3 L471.5,192.4 L471.5,192.5 L471.5,192.6 L471.5,192.7 L471.5,192.8 L471.5,192.9 L471.5,193 L471.5,193.1 L471.5,193.2 L471.5,193.3 L471.5,193.4 L471.5,193.5 L471.5,193.6 L471.5,193.7 L471.5,193.8 L471.5,193.9 L471.5,194 L471.5,194.1 L471.5,194.2 L471.5,194.3 L471.5,194.4 L471.5,194.5 L471.5,194.6 L471.5,194.7 L471.5,194.8 L471.5,194.9 L471.5,195 L471.5,195.1 L471.5,195.2 L471.5,195.3 L471.5,195.4 L471.5,195.5 L471.5,195.6 L471.5,195.7 L471.5,195.8 L471.5,195.9 L471.5,196 L471.5,196.1 L471.5,196.2 L471.5,196.3 L471.5,196.4 L471.5,196.5 L471.5,196.6 L471.5,196.7 L471.5,196.8 L471.5,196.9 L471.5,197 L471.5,197.1 L471.5,197.2 L471.5,197.3 L471.5,197.4 L471.5,197.5 L471.5,197.6 L471.5,197.7 L471.5,197.8 L471.5,197.9 L471.5,198 L471.5,198.1 L471.5,198.2 L471.5,198.3 L471.5,198.4 L471.5,198.5 L471.5,198.6 L471.5,198.7 L471.5,198.8 L471.5,198.9 L471.5,199 L471.5,199.1 L471.5,199.2 L471.5,199.3 L471.5,199.4 L471.5,199.5 L471.5,199.6 L471.5,199.7 L471.5,199.8 L471.5,199.9 L471.5,200 L471.5,200.1 L471.5,200.2 L471.5,200.3 L471.5,200.4 L471.5,200.5 L471.5,200.6 L471.5,200.7 L471.5,200.8 L471.5,200.9 L471.5,201 L471.5,201.1 L471.5,201.2 L471.5,201.3 L471.5,201.4 L471.5,201.5 L471.5,201.6 L471.5,201.7 L471.5,201.8 L471.5,201.9 L471.5,202 L471.5,202.1 L471.5,202.2 L471.5,202.3 L471.5,202.4 L471.5,202.5 L471.5,202.6 L471.5,202.7 L471.5,202.8 L471.5,202.9 L471.5,203 L471.5,203.1 L471.5,203.2 L471.5,203.3 L471.5,203.4 L471.5,203.5 L471.5,203.6 L471.5,203.7 L471.5,203.8 L471.5,203.9 L471.5,204 L471.5,204.1 L471.5,204.2 L471.5,204.3 L471.5,204.4 L471.5,204.5 L471.5,204.6 L471.5,204.7 L471.5,204.8 L471.5,204.9 L471.5,205 L471.5,205.1 L471.5,205.2 L471.5,205.3 L471.5,205.4 L471.5,205.5 L471.5,205.6 L471.5,205.7 L471.5,205.8 L471.5,205.9 L471.5,206 L471.5,206.1 L471.5,206.2 L471.5,206.3 L471.5,206.4 L471.5,206.5 L471.5,206.6 L471.5,206.7 L471.5,206.8 L471.5,206.9 L471.5,207 L471.5,207.1 L471.5,207.2 L471.5,207.3 L471.5,207.4 L471.5,207.5 L471.5,207.6 L471.5,207.7 L471.5,207.8 L471.5,207.9 L471.5,208 L471.5,208.1 L471.5,208.2 L471.5,208.3 L471.5,208.4 L471.5,208.5 L471.5,208.6 L471.5,208.7 L471.5,208.8 L471.5,208.9 L471.5,209 L471.5,209.1 L471.5,209.2 L471.5,209.3 L471.5,209.4 L471.5,209.5 L471.5,209.6 L471.5,209.7 L471.5,209.8 L471.5,209.9 L471.5,210 L471.5,210.1 L471.5,210.2 L471.5,210.3 L471.5,210.4 L471.5,210.5 L471.5,210.6 L471.5,210.7 L471.5,210.8 L471.5,210.9 L471.5,211 L471.5,211.1 L471.5,211.2 L471.5,211.3 L471.5,211.4 L471.5,211.5 L471.5,211.6 L471.5,211.7 L471.5,211.8 L471.5,211.9 L471.5,212 L471.5,212.1 L471.5,212.2 L471.5,212.3 L471.5,212.4 L471.5,212.5 L471.5,212.6 L471.5,212.7 L471.5,212.8 L471.5,212.9 L471.5,213 L471.5,213.1 L471.5,213.2 L471.5,213.3 L471.5,213.4 L471.5,213.5 L471.5,213.6 L471.5,213.7 L471.5,213.8 L471.5,213.9 L471.5,214 L471.5,214.1 L471.5,214.2 L471.5,214.3 L471.5,214.4 L471.5,214.5 L471.5,214.6 L471.5,214.7 L471.5,214.8 L471.5,214.9 L471.5,215 L471.5,215.1 L471.5,215.2 L471.5,215.3 L471.5,215.4 L471.5,215.5 L471.5,215.6 L471.5,215.7 L471.5,215.8 L471.5,215.9 L471.5,216 L471.5,216.1 L471.5,216.2 L471.5,216.3 L471.5,216.4 L471.5,216.5 L471.5,216.6 L471.5,216.7 L471.5,216.8 L471.5,216.9 L471.5,217 L471.5,217.1 L471.5,217.2 L471.5,217.3 L471.5,217.4 L471.5,217.5 L471.5,217.6 L471.5,217.7 L471.5,217.8 L471.5,217.9 L471.5,218 L471.5,218.1 L471.5,218.2 L471.5,218.3 L471.5,218.4 L471.5,218.5 L471.5,218.6 L471.5,218.7 L471.5,218.8 L471.5,218.9 L471.5,219 L471.5,219.1 L471.5,219.2 L471.5,219.3 L471.5,219.4 L471.5,219.5 L471.5,219.6 L471.5,219.7 L471.5,219.8 L471.5,219.9 L471.5,220 L471.5,220.1 L471.5,220.2 L471.5,220.3 L471.5,220.4 L471.5,220.5 L471.5,220.6 L471.5,220.7 L471.5,220.8 L471.5,220.9 L471.5,221 L471.5,221.1 L471.5,221.2 L471.5,221.3 L471.5,221.4 L471.5,221.5 L471.5,221.6 L471.5,221.7 L471.5,221.8 L471.5,221.9 L471.5,222 L471.5,222.1 L471.5,222.2 L471.5,222.3 L471.5,222.4 L471.5,222.5 L471.5,222.6 L471.5,222.7 L471.5,222.8 L471.5,222.9 L471.5,223 L471.5,223.1 L471.5,223.2 L471.5,223.3 L471.5,223.4 L471.5,223.5 L471.5,223.6 L471.5,223.7 L471.5,223.8 L471.5,223.9 L471.5,224 L471.5,224.1 L471.5,224.2 L471.5,224.3 L471.5,224.4 L471.5,224.5 L471.5,224.6 L471.5,224.7 L471.5,224.8 L471.5,224.9 L471.5,225 L471.5,225.1 L471.5,225.2 L471.5,225.3 L471.5,225.4 L471.5,225.5 L471.5,225.6 L471.5,225.7 L471.5,225.8 L471.5,225.9 L471.5,226 L471.5,226.1 L471.5,226.2 L471.5,226.3 L471.5,226.4 L471.5,226.5 L471.5,226.6 L471.5,226.7 L471.5,226.8 L471.5,226.9 L471.5,227 L471.5,227.1 L471.5,227.2 L471.5,227.3 L471.5,227.4 L471.5,227.5 L471.5,227.6 L471.5,227.7 L471.5,227.8 L471.5,227.9 L471.5,228 L471.5,228.1 L471.5,228.2 L471.5,228.3 L471.5,228.4 L471.5,228.5 L471.5,228.6 L471.5,228.7 L471.5,228.8 L471.5,228.9 L471.5,229 L471.5,229.1 L471.5,229.2 L471.5,229.3 L471.5,229.4 L471.5,229.5 L471.5,229.6 L471.5,229.7 L471.5,229.8 L471.5,229.9 L471.5,230 L471.5,230.1 L471.5,230.2 L471.5,230.3 L471.5,230.4 L471.5,230.5 L471.5,230.6 L471.5,230.7 L471.5,230.8 L471.5,230.9 L471.5,231 L471.5,231.1 L471.5,231.2 L471.5,231.3 L471.5,231.4 L471.5,231.5 L471.5,231.6 L471.5,231.7 L471.5,231.8 L471.5,231.9 L471.5,232 L471.5,232.1 L471.5,232.2 L471.5,232.3 L471.5,232.4 L471.5,232.5 L471.5,232.6 L471.5,232.7 L471.5,232.8 L471.5,232.9 L471.5,233 L471.5,233.1 L471.5,233.2 L471.5,233.3 L471.5,233.4 L471.5,233.5 L471.5,233.6 L471.5,233.7 L471.5,233.8 L471.5,233.9 L471.5,234 L471.5,234.1 L471.5,234.2 L471.5,234.3 L471.5,234.4 L471.5,234.5 L471.5,234.6 L471.5,234.7 L471.5,234.8 L471.5,234.9 L471.5,235 L471.5,235.1 L471.5,235.2 L471.5,235.3 L471.5,235.4 L471.5,235.5 L471.5,235.6 L471.5,235.7 L471.5,235.8 L471.5,235.9 L471.5,236 L471.5,236.1 L471.5,236.2 L471.5,236.3 L471.5,236.4 L471.5,236.5 L471.5,236.6 L471.5,236.7 L471.5,236.8 L471.5,236.9 L471.5,237 L471.5,237.1 L471.5,237.2 L471.5,237.3 L471.5,237.4 L471.5,237.5 L471.5,237.6 L471.5,237.7 L471.5,237.8 L471.5,237.9 L471.5,238 L471.5,238.1 L471.5,238.2 L471.5,238.3 L471.5,238.4 L471.5,238.5 L471.5,238.6 L471.5,238.7 L471.5,238.8 L471.5,238.9 L471.5,239 L471.5,239.1 L471.5,239.2 L471.5,239.3 L471.5,239.4 L471.5,239.5 L471.5,239.6 L471.5,239.7 L471.5,239.8 L471.5,239.9 L471.5,240 L471.5,240.1 L471.5,240.2 L471.5,240.3 L471.5,240.4 L471.5,240.5 L471.5,240.6 L471.5,240.7 L471.5,240.8 L471.5,240.9 L471.5,241 L471.5,241.1 L471.5,241.2 L471.5,241.3 L471.5,241.4 L471.5,241.5 L471.5,241.6 L471.5,241.7 L471.5,241.8 L471.5,241.9 L471.5,242 L471.5,242.1 L471.5,242.2 L471.5,242.3 L471.5,242.4 L471.5,242.5 L471.5,242.6 L471.5,242.7 L471.5,242.8 L471.5,242.9 L471.5,243 L471.5,243.1 L471.5,243.2 L471.5,243.3 L471.5,243.4 L471.5,243.5 L471.5,243.6 L471.5,243.7 L471.5,243.8 L471.5,243.9 L471.5,244 L471.5,244.1 L471.5,244.2 L471.5,244.3 L471.5,244.4 L471.5,244.5 L471.5,244.6 L471.5,244.7 L471.5,244.8 L471.5,244.9 L471.5,245 L471.5,245.1 L471.5,245.2 L471.5,245.3 L471.5,245.4 L471.5,245.5 L471.5,245.6 L471.5,245.7 L471.5,245.8 L471.5,245.9 L471.5,246 L471.5,246.1 L471.5,246.2 L471.5,246.3 L471.5,246.4 L471.5,246.5 L471.5,246.6 L471.5,246.7 L471.5,246.8 L471.5,246.9 L471.5,247 L471.5,247.1 L471.5,247.2 L471.5,247.3 L471.5,247.4 L471.5,247.5 L471.5,247.6 L471.5,247.7 L471.5,247.8 L471.5,247.9 L471.5,248 L471.5,248.1 L471.5,248.2 L471.5,248.3 L471.5,248.4 L471.5,248.5 L471.5,248.6 L471.5,248.7 L471.5,248.8 L471.5,248.9 L471.5,249 L471.5,249.1 L471.5,249.2 L471.5,249.3 L471.5,249.4 L471.5,249.5 L471.5,249.6 L471.5,249.7 L471.5,249.8 L471.5,249.9 L471.5,250 L471.5,250.1 L471.5,250.2 L471.5,250.3 L471.5,250.4 L471.5,250.5 L471.5,250.6 L471.5,250.7 L471.5,250.8 L471.5,250.9 L471.5,251 L471.5,251.1 L471.5,251.2 L471.5,251.3 L471.5,251.4 L471.5,251.5 L471.5,251.6 L471.5,251.7 L471.5,251.8 L471.5,251.9 L471.5,252 L471.5,252.1 L471.5,252.2 L471.5,252.3 L471.5,252.4 L471.5,252.5 L471.5,252.6 L471.5,252.7 L471.5,252.8 L471.5,252.9 L471.5,253 L471.5,253.1 L471.5,253.2 L471.5,253.3 L471.5,253.4 L471.5,253.5 L471.5,253.6 L471.5,253.7 L471.5,253.8 L471.5,253.9 L471.5,254 L471.5,254.1 L471.5,254.2 L471.5,254.3 L471.5,254.4 L471.5,254.5 L471.5,254.6 L471.5,254.7 L471.5,254.8 L471.5,254.9 L471.5,255 L471.5,255.1 L471.5,255.2 L471.5,255.3 L471.5,255.4 L471.5,255.5 L471.5,255.6 L471.5,255.7 L471.5,255.8 L471.5,255.9 L471.5,256 L471.5,256.1 L471.5,256.2 L471.5,256.3 L471.5,256.4 L471.5,256.5 L471.5,256.6 L471.5,256.7 L471.5,256.8 L471.5,256.9 L471.5,257 L471.5,257.1 L471.5,257.2 L471.5,257.3 L471.5,257.4 L471.5,257.5 L471.5,257.6 L471.5,257.7 L471.5,257.8 L471.5,257.9 L471.5,258 L471.5,258.1 L471.5,258.2 L471.5,258.3 L471.5,258.4 L471.5,258.5 L471.5,258.6 L471.5,258.7 L471.5,258.8 L471.5,258.9 L471.5,259 L471.5,259.1 L471.5,259.2 L471.5,259.3 L471.5,259.4 L471.5,259.5 L471.5,259.6 L471.5,259.7 L471.5,259.8 L471.5,259.9 L471.5,260 L471.5,260.1 L471.5,260.2 L471.5,260.3 L471.5,260.4 L471.5,260.5 L471.5,260.6 L471.5,260.7 L471.5,260.8 L471.5,260.9 L471.5,261 L471.5,261.1 L471.5,261.2 L471.5,261.3 L471.5,261.4 L471.5,261.5 L471.5,261.6 L471.5,261.7 L471.5,261.8 L471.5,261.9 L471.5,262 L471.5,262.1 L471.5,262.2 L471.5,262.3 L471.5,262.4 L471.5,262.5 L471.5,262.6 L471.5,262.7 L471.5,262.8 L471.5,262.9 L471.5,263 L471.5,263.1 L471.5,263.2 L471.5,263.3 L471.5,263.4 L471.5,263.5 L471.5,263.6 L471.5,263.7 L471.5,263.8 L471.5,263.9 L471.5,264 L471.5,264.1 L471.5,264.2 L471.5,264.3 L471.5,264.4 L471.5,264.5 L471.5,264.6 L471.5,264.7 L471.5,264.8 L471.5,264.9 L471.5,265 L471.5,265.1 L471.5,265.2 L471.5,265.3 L471.5,265.4 L471.5,265.5 L471.5,265.6 L471.5,265.7 L471.5,265.8 L471.5,265.9 L471.5,266 L471.5,266.1 L471.5,266.2 L471.5,266.3 L471.5,266.4 L471.5,266.5 L471.5,266.6 L471.5,266.7 L471.5,266.8 L471.5,266.9 L471.5,267 L471.5,267.1 L471.5,267.2 L471.5,267.3 L471.5,267.4 L471.5,267.5 L471.5,267.6 L471.5,267.7 L471.5,267.8 L471.5,267.9 L471.5,268 L471.5,268.1 L471.5,268.2 L471.5,268.3 L471.5,268.4 L471.5,268.5 L471.5,268.6 L471.5,268.7 L471.5,268.8 L471.5,268.9 L471.5,269 L471.5,269.1 L471.5,269.2 L471.5,269.3 L471.5,269.4 L471.5,269.5 L471.5,269.6 L471.5,269.7 L471.5,269.8 L471.5,269.9 L471.5,270 L471.5,270.1 L471.5,270.2 L471.5,270.3 L471.5,270.4 L471.5,270.5 L471.5,270.6 L471.5,270.7 L471.5,270.8 L471.5,270.9 L471.5,271 L471.5,271.1 L471.5,271.2 L471.5,271.3 L471.5,271.4 L471.5,271.5 L471.5,271.6 L471.5,271.7 L471.5,271.8 L471.5,271.9 L471.5,272 L471.5,272.1 L471.5,272.2 L471.5,272.3 L471.5,272.4 L471.5,272.5 L471.5,272.6 L471.5,272.7 L471.5,272.8 L471.5,272.9 L471.5,273 L471.5,273.1 L471.5,273.2 L471.5,273.3 L471.5,273.4 L471.5,273.5 L471.5,273.6 L471.5,273.7 L471.5,273.8 L471.5,273.9 L471.5,274 L471.5,274.1 L471.5,274.2 L471.5,274.3 L471.5,274.4 L471.5,274.5 L471.5,274.6 L471.5,274.7 L471.5,274.8 L471.5,274.9 L471.5,275 L471.5,275.1 L471.5,275.2 L471.5,275.3 L471.5,275.4 L471.5,275.5 L471.5,275.6 L471.5,275.7 L471.5,275.8 L471.5,275.9 L471.5,276 L471.5,276.1 L471.5,276.2 L471.5,276.3 L471.5,276.4 L471.5,276.5 L471.5,276.6 L471.5,276.7 L471.5,276.8 L471.5,276.9 L471.5,277 L471.5,277.1 L471.5,277.2 L471.5,277.3 L471.5,277.4 L471.5,277.5 L471.5,277.6 L471.5,277.7 L471.5,277.8 L471.5,277.9 L471.5,278 L471.5,278.1 L471.5,278.2 L471.5,278.3 L471.5,278.4 L471.5,278.5 L471.5,278.6 L471.5,278.7 L471.5,278.8 L471.5,278.9 L471.5,279 L471.5,279.1 L471.5,279.2 L471.5,279.3 L471.5,279.4 L471.5,279.5 L471.5,279.6 L471.5,279.7 L471.5,279.8 L471.5,279.9 L471.5,280 L471.5,280.1 L471.5,280.2 L471.5,280.3 L471.5,280.4 L471.5,280.5 L471.5,280.6 L471.5,280.7 L471.5,280.8 L471.5,280.9 L471.5,281 L471.5,281.1 L471.5,281.2 L471.5,281.3 L471.5,281.4 L471.5,281.5 L471.5,281.6 L471.5,281.7 L471.5,281.8 L471.5,281.9 L471.5,282 L471.5,282.1 L471.5,282.2 L471.5,282.3 L471.5,282.4 L471.5,282.5 L471.5,282.6 L471.5,282.7 L471.5,282.8 L471.5,282.9 L471.5,283 L471.5,283.1 L471.5,283.2 L471.5,283.3 L471.5,283.4 L471.5,283.5 L471.5,283.6 L471.5,283.7 L471.5,283.8 L471.5,283.9 L471.5,284 L471.5,284.1 L471.5,284.2 L471.5,284.3 L471.5,284.4 L471.5,284.5 L471.5,284.6 L471.5,284.7 L471.5,284.8 L471.5,284.9 L471.5,285 L471.5,285.1 L471.5,285.2 L471.5,285.3 L471.5,285.4 L471.5,285.5 L471.5,285.6 L471.5,285.7 L471.5,285.8 L471.5,285.9 L471.5,286 L471.5,286.1 L471.5,286.2 L471.5,286.3 L471.5,286.4 L471.5,286.5 L471.5,286.6 L471.5,286.7 L471.5,286.8 L471.5,286.9 L471.5,287 L471.5,287.1 L471.5,287.2 L471.5,287.3 L471.5,287.4 L471.5,287.5 L471.5,287.6 L471.5,287.7 L471.5,287.8 L471.5,287.9 L471.5,288 L471.5,288.1 L471.5,288.2 L471.5,288.3 L471.5,288.4 L471.5,288.5 L471.5,288.6 L471.5,288.7 L471.5,288.8 L471.5,288.9 L471.5,289 L471.5,289.1 L471.5,289.2 L471.5,289.3 L471.5,289.4 L471.5,289.5 L471.5,289.6 L471.5,289.7 L471.5,289.8 L471.5,289.9 L471.5,290 L471.5,290.1 L471.5,290.2 L471.5,290.3 L471.5,290.4 L471.5,290.5 L471.5,290.6 L471.5,290.7 L471.5,290.8 L471.5,290.9 L471.5,291 L471.5,291.1 L471.5,291.2 L471.5,291.3 L471.5,291.4 L471.5,291.5 L471.5,291.6 L471.5,291.7 L471.5,291.8 L471.5,291.9 L471.5,292 L471.5,292.1 L471.5,292.2 L471.5,292.3 L471.5,292.4 L471.5,292.5 L471.5,292.6 L471.5,292.7 L471.5,292.8 L471.5,292.9 L471.5,293 L471.5,293.1 L471.5,293.2 L471.5,293.3 L471.5,293.4 L471.5,293.5 L471.5,293.6 L471.5,293.7 L471.5,293.8 L471.5,293.9 L471.5,294 L471.5,294.1 L471.5,294.2 L471.5,294.3 L471.5,294.4 L471.5,294.5 L471.5,294.6 L471.5,294.7 L471.5,294.8 L471.5,294.9 L471.5,295 L471.5,295.1 L471.5,295.2 L471.5,295.3 L471.5,295.4 L471.5,295.5 L471.5,295.6 L471.5,295.7 L471.5,295.8 L471.5,295.9 L471.5,296 L471.5,296.1 L471.5,296.2 L471.5,296.3 L471.5,296.4 L471.5,296.5 L471.5,296.6 L471.5,296.7 L471.5,296.8 L471.5,296.9 L471.5,297 L471.5,297.1 L471.5,297.2 L471.5,297.3 L471.5,297.4 L471.5,297.5 L471.5,297.6 L471.5,297.7 L471.5,297.8 L471.5,297.9 L471.5,298 L471.5,298.1 L471.5,298.2 L471.5,298.3 L471.5,298.4 L471.5,298.5 L471.5,298.6 L471.5,298.7 L471.5,298.8 L471.5,298.9 L471.5,299 L471.5,299.1 L471.5,299.2 L471.5,299.3 L471.5,299.4 L471.5,299.5 L471.5,299.6 L471.5,299.7 L471.5,299.8 L471.5,299.9 L471.5,300 L471.5,300.1 L471.5,300.2 L471.5,300.3 L471.5,300.4 L471.5,300.5 L471.5,300.6 L471.5,300.7 L471.5,300.8 L471.5,300.9 L471.5,301 L471.5,301.1 L471.5,301.2 L471.5,301.3 L471.5,301.4 L471.5,301.5 L471.5,301.6 L471.5,301.7 L471.5,301.8 L471.5,301.9 L471.5,302 L471.5,302.1 L471.5,302.2 L471.5,302.3 L471.5,302.4 L471.5,302.5 L471.5,302.6 L471.5,302.7 L471.5,302.8 L471.5,302.9 L471.5,303 L471.5,303.1 L471.5,303.2 L471.5,303.3 L471.5,303.4 L471.5,303.5 L471.5,303.6 L471.5,303.7 L471.5,303.8 L471.5,303.9 L471.5,304 L471.5,304.1 L471.5,304.2 L471.5,304.3 L471.5,304.4 L471.5,304.5 L471.5,304.6 L471.5,304.7 L471.5,304.8 L471.51,304.9 L471.53,305 L471.55,305.1 L471.58,305.2 L471.61,305.3 L471.65,305.4 L471.69,305.5 L471.74,305.6 L471.81,305.7 L471.88,305.8 L471.99,305.9 L472.12,306 L472.3,306.1 L472.52,306.2 L472.79,306.3 L473.08,306.4 L473.39,306.5 L473.66,306.6 L473.87,306.7 L474,306.8 L473.87,306.9 L473.66,307 L473.39,307.1 L473.08,307.2 L472.79,307.3 L472.52,307.4 L472.3,307.5 L472.12,307.6 L471.99,307.7 L471.88,307.8 L471.81,307.9 L471.74,308 L471.69,308.1 L471.65,308.2 L471.61,308.3 L471.58,308.4 L471.55,308.5 L471.53,308.6 L471.51,308.7 L471.5,308.8 L471.5,308.9 L471.5,309 L471.5,309.1 L471.5,309.2 L471.5,309.3 L471.5,309.4 L471.5,309.5 L471.5,309.6 L471.5,309.7 L471.5,309.8 L471.5,309.9 L471.5,310 L471.5,310.1 L471.5,310.2 L471.5,310.3 L471.5,310.4 L471.5,310.5 L471.5,310.6 L471.52,310.7 L471.55,310.8 L471.6,310.9 L471.66,311 L471.73,311.1 L471.81,311.2 L471.89,311.3 L471.99,311.4 L472.09,311.5 L472.21,311.6 L472.36,311.7 L472.56,311.8 L472.85,311.9 L473.33,312 L474.11,312.1 L475.37,312.2 L477.34,312.3 L480.2,312.4 L484.08,312.5 L488.92,312.6 L494.39,312.7 L499.94,312.8 L504.79,312.9 L508.17,313 L509.5,313.1 L508.17,313.2 L504.79,313.3 L499.94,313.4 L494.39,313.5 L488.92,313.6 L484.08,313.7 L480.2,313.8 L477.34,313.9 L475.37,314 L474.11,314.1 L473.33,314.2 L472.85,314.3 L472.56,314.4 L472.36,314.5 L472.21,314.6 L472.09,314.7 L471.99,314.8 L471.89,314.9 L471.81,315 L471.73,315.1 L471.66,315.2 L471.6,315.3 L471.55,315.4 L471.52,315.5 L471.5,315.6 L471.5,315.7 L471.5,315.8 L471.5,315.9 L471.5,316 L471.5,316.1 L471.5,316.2 L471.5,316.3 L471.5,316.4 L471.5,316.5 L471.5,316.6 L471.5,316.7 L471.5,316.8 L471.5,316.9 L471.5,317 L471.5,317.1 L471.5,317.2 L471.5,317.3 L471.5,317.4 L471.5,317.5 L471.5,317.6 L471.5,317.7 L471.5,317.8 L471.5,317.9 L471.5,318 L471.5,318.1 L471.5,318.2 L471.5,318.3 L471.5,318.4 L471.5,318.5 L471.5,318.6 L471.5,318.7 L471.5,318.8 L471.5,318.9 L471.5,319 L471.51,319.1 L471.54,319.2 L471.57,319.3 L471.62,319.4 L471.68,319.5 L471.77,319.6 L471.88,319.7 L472.03,319.8 L472.22,319.9 L472.44,320 L472.69,320.1 L472.95,320.2 L473.19,320.3 L473.38,320.4 L473.5,320.5 L473.38,320.6 L473.19,320.7 L472.95,320.8 L472.69,320.9 L472.44,321 L472.22,321.1 L472.03,321.2 L471.88,321.3 L471.77,321.4 L471.68,321.5 L471.62,321.6 L471.57,321.7 L471.54,321.8 L471.51,321.9 L471.5,322 L471.5,322.1 L471.5,322.2 L471.5,322.3 L471.5,322.4 L471.5,322.5 L471.5,322.6 L471.5,322.7 L471.5,322.8 L471.5,322.9 L471.5,323 L471.5,323.1 L471.5,323.2 L471.5,323.3 L471.5,323.4 L471.5,323.5 L471.5,323.6 L471.5,323.7 L471.5,323.8 L471.5,323.9 L471.5,324 L471.5,324.1 L471.5,324.2 L471.5,324.3 L471.5,324.4 L471.5,324.5 L471.5,324.6 L471.5,324.7 L471.5,324.8 L471.5,324.9 L471.5,325 L471.5,325.1 L471.5,325.2 L471.5,325.3 L471.5,325.4 L471.5,325.5 L471.5,325.6 L471.5,325.7 L471.5,325.8 L471.5,325.9 L471.5,326 L471.5,326.1 L471.5,326.2 L471.5,326.3 L471.5,326.4 L471.5,326.5 L471.5,326.6 L471.5,326.7 L471.5,326.8 L471.5,326.9 L471.5,327 L471.5,327.1 L471.5,327.2 L471.5,327.3 L471.52,327.4 L471.55,327.5 L471.6,327.6 L471.66,327.7 L471.73,327.8 L471.81,327.9 L471.89,328 L471.99,328.1 L472.09,328.2 L472.21,328.3 L472.34,328.4 L472.52,328.5 L472.76,328.6 L473.13,328.7 L473.72,328.8 L474.64,328.9 L476.05,329 L478.08,329.1 L480.83,329.2 L484.23,329.3 L488.09,329.4 L491.99,329.5 L495.42,329.6 L497.82,329.7 L498.8,329.8 L497.82,329.9 L495.42,330 L491.99,330.1 L488.09,330.2 L484.23,330.3 L480.83,330.4 L478.08,330.5 L476.05,330.6 L474.64,330.7 L473.72,330.8 L473.13,330.9 L472.76,331 L472.52,331.1 L472.34,331.2 L472.21,331.3 L472.09,331.4 L471.99,331.5 L471.89,331.6 L471.81,331.7 L471.73,331.8 L471.66,331.9 L471.6,332 L471.55,332.1 L471.52,332.2 L471.5,332.3 L471.5,332.4 L471.5,332.5 L471.5,332.6 L471.5,332.7 L471.5,332.8 L471.5,332.9 L471.5,333 L471.5,333.1 L471.5,333.2 L471.5,333.3 L471.5,333.4 L471.5,333.5 L471.5,333.6 L471.5,333.7 L471.5,333.8 L471.5,333.9 L471.5,334 L471.5,334.1 L471.5,334.2 L471.5,334.3 L471.5,334.4 L471.5,334.5 L471.5,334.6 L471.5,334.7 L471.5,334.8 L471.5,334.9 L471.5,335 L471.5,335.1 L471.5,335.2 L471.5,335.3 L471.5,335.4 L471.5,335.5 L471.5,335.6 L471.5,335.7 L471.5,335.8 L471.5,335.9 L471.5,336 L471.5,336.1 L471.5,336.2 L471.5,336.3 L471.5,336.4 L471.5,336.5 L471.51,336.6 L471.54,336.7 L471.57,336.8 L471.62,336.9 L471.68,337 L471.77,337.1 L471.88,337.2 L472.03,337.3 L472.22,337.4 L472.44,337.5 L472.69,337.6 L472.95,337.7 L473.19,337.8 L473.38,337.9 L473.5,338 L473.38,338.1 L473.19,338.2 L472.95,338.3 L472.69,338.4 L472.44,338.5 L472.22,338.6 L472.03,338.7 L471.88,338.8 L471.77,338.9 L471.68,339 L471.62,339.1 L471.57,339.2 L471.54,339.3 L471.51,339.4 L471.5,339.5 L471.5,339.6 L471.5,339.7 L471.5,339.8 L471.5,339.9 L471.5,340 L471.5,340.1 L471.5,340.2 L471.5,340.3 L471.5,340.4 L471.5,340.5 L471.51,340.6 L471.53,340.7 L471.55,340.8 L471.58,340.9 L471.61,341 L471.65,341.1 L471.69,341.2 L471.74,341.3 L471.81,341.4 L471.88,341.5 L471.99,341.6 L472.12,341.7 L472.3,341.8 L472.52,341.9 L472.79,342 L473.08,342.1 L473.39,342.2 L473.66,342.3 L473.87,342.4 L474,342.5 L473.87,342.6 L473.66,342.7 L473.39,342.8 L473.08,342.9 L472.79,343 L472.52,343.1 L472.3,343.2 L472.12,343.3 L471.99,343.4 L471.88,343.5 L471.81,343.6 L471.74,343.7 L471.69,343.8 L471.65,343.9 L471.61,344 L471.58,344.1 L471.55,344.2 L471.53,344.3 L471.51,344.4 L471.5,344.5 L471.5,344.6 L471.5,344.7 L471.5,344.8 L471.5,344.9 L471.51,345 L471.53,345.1 L471.55,345.2 L471.58,345.3 L471.61,345.4 L471.65,345.5 L471.69,345.6 L471.74,345.7 L471.81,345.8 L471.88,345.9 L471.99,346 L472.12,346.1 L472.3,346.2 L472.52,346.3 L472.79,346.4 L473.08,346.5 L473.39,346.6 L473.66,346.7 L473.87,346.8 L474,346.9 L473.87,347 L473.66,347.1 L473.39,347.2 L473.08,347.3 L472.79,347.4 L472.52,347.5 L472.3,347.6 L472.12,347.7 L471.99,347.8 L471.88,347.9 L471.81,348 L471.74,348.1 L471.69,348.2 L471.65,348.3 L471.61,348.4 L471.58,348.5 L471.55,348.6 L471.53,348.7 L471.51,348.8 L471.5,348.9 L471.5,349 L471.5,349.1 L471.5,349.2 L471.5,349.3 L471.5,349.4 L471.5,349.5 L471.5,349.6 L471.5,349.7 L471.5,349.8 L471.5,349.9 L471.5,350 L471.5,350.1 L471.5,350.2 L471.5,350.3 L471.5,350.4 L471.5,350.5 L471.5,350.6 L471.5,350.7 L471.5,350.8 L471.5,350.9 L471.5,351 L471.5,351.1 L471.5,351.2 L471.5,351.3 L471.5,351.4 L471.5,351.5 L471.5,351.6 L471.5,351.7 L471.5,351.8 L471.5,351.9 L471.5,352 L471.5,352.1 L471.5,352.2 L471.5,352.3 L471.5,352.4 L471.5,352.5 L471.5,352.6 L471.5,352.7 L471.5,352.8 L471.5,352.9 L471.5,353 L471.5,353.1 L471.5,353.2 L471.5,353.3 L471.5,353.4 L471.5,353.5 L471.5,353.6 L471.5,353.7 L471.5,353.8 L471.5,353.9 L471.5,354 L471.5,354.1 L471.5,354.2 L471.5,354.3 L471.5,354.4 L471.5,354.5 L471.5,354.6 L471.5,354.7 L471.5,354.8 L471.5,354.9 L471.5,355 L471.5,355.1 L471.5,355.2 L471.5,355.3 L471.5,355.4 L471.5,355.5 L471.5,355.6 L471.5,355.7 L471.5,355.8 L471.5,355.9 L471.5,356 L471.5,356.1 L471.5,356.2 L471.5,356.3 L471.5,356.4 L471.5,356.5 L471.5,356.6 L471.5,356.7 L471.5,356.8 L471.52,356.9 L471.55,357 L471.6,357.1 L471.66,357.2 L471.73,357.3 L471.81,357.4 L471.89,357.5 L471.99,357.6 L472.1,357.7 L472.23,357.8 L472.4,357.9 L472.66,358 L473.08,358.1 L473.8,358.2 L475.06,358.3 L477.16,358.4 L480.47,358.5 L485.35,358.6 L491.99,358.7 L500.29,358.8 L509.71,358.9 L519.25,359 L527.57,359.1 L533.33,359.2 L535.5,359.3 L533.33,359.4 L527.57,359.5 L519.25,359.6 L509.71,359.7 L500.29,359.8 L491.99,359.9 L485.35,360 L480.47,360.1 L477.16,360.2 L475.06,360.3 L473.8,360.4 L473.08,360.5 L472.66,360.6 L472.4,360.7 L472.23,360.8 L472.1,360.9 L471.99,361 L471.89,361.1 L471.81,361.2 L471.73,361.3 L471.66,361.4 L471.6,361.5 L471.55,361.6 L471.52,361.7 L471.5,361.8 L471.5,361.9 L471.5,362 L471.5,362.1 L471.5,362.2 L471.5,362.3 L471.5,362.4 L471.5,362.5 L471.5,362.6 L471.5,362.7 L471.5,362.8 L471.5,362.9 L471.5,363 L471.5,363.1 L471.5,363.2 L471.5,363.3 L471.5,363.4 L471.5,363.5 L471.5,363.6 L471.5,363.7 L471.5,363.8 L471.5,363.9 L471.5,364 L471.5,364.1 L471.5,364.2 L471.5,364.3 L471.5,364.4 L471.5,364.5 L471.5,364.6 L471.5,364.7 L471.5,364.8 L471.5,364.9 L471.5,365 L471.5,365.1 L471.5,365.2 L471.5,365.3 L471.5,365.4 L471.5,365.5 L471.5,365.6 L471.5,365.7 L471.5,365.8 L471.5,365.9 L471.5,366 L471.5,366.1 L471.5,366.2 L471.5,366.3 L471.5,366.4 L471.5,366.5 L471.5,366.6 L471.5,366.7 L471.5,366.8 L471.5,366.9 L471.5,367 L471.5,367.1 L471.5,367.2 L471.5,367.3 L471.5,367.4 L471.5,367.5 L471.5,367.6 L471.5,367.7 L471.5,367.8 L471.5,367.9 L471.5,368 L471.5,368.1 L471.5,368.2 L471.5,368.3 L471.5,368.4 L471.5,368.5 L471.5,368.6 L471.5,368.7 L471.5,368.8 L471.5,368.9 L471.5,369 L471.5,369.1 L471.5,369.2 L471.5,369.3 L471.5,369.4 L471.5,369.5 L471.5,369.6 L471.5,369.7 L471.5,369.8 L471.5,369.9 L471.5,370 L471.5,370.1 L471.5,370.2 L471.5,370.3 L471.5,370.4 L471.5,370.5 L471.5,370.6 L471.5,370.7 L471.5,370.8 L471.5,370.9 L471.5,371 L471.5,371.1 L471.5,371.2 L471.5,371.3 L471.5,371.4 L471.5,371.5 L471.5,371.6 L471.5,371.7 L471.5,371.8 L471.5,371.9 L471.5,372 L471.5,372.1 L471.5,372.2 L471.5,372.3 L471.5,372.4 L471.5,372.5 L471.5,372.6 L471.5,372.7 L471.5,372.8 L471.5,372.9 L471.5,373 L471.5,373.1 L471.5,373.2 L471.5,373.3 L471.5,373.4 L471.5,373.5 L471.5,373.6 L471.5,373.7 L471.5,373.8 L471.5,373.9 L471.5,374 L471.5,374.1 L471.5,374.2 L471.5,374.3 L471.5,374.4 L471.5,374.5 L471.5,374.6 L471.5,374.7 L471.5,374.8 L471.5,374.9 L471.5,375 L471.5,375.1 L471.5,375.2 L471.5,375.3 L471.5,375.4 L471.5,375.5 L471.5,375.6 L471.5,375.7 L471.5,375.8 L471.5,375.9 L471.5,376 L471.5,376.1 L471.5,376.2 L471.5,376.3 L471.5,376.4 L471.5,376.5 L471.5,376.6 L471.5,376.7 L471.5,376.8 L471.5,376.9 L471.5,377 L471.5,377.1 L471.5,377.2 L471.5,377.3 L471.5,377.4 L471.5,377.5 L471.5,377.6 L471.5,377.7 L471.5,377.8 L471.5,377.9 L471.5,378 L471.5,378.1 L471.5,378.2 L471.5,378.3 L471.5,378.4 L471.5,378.5 L471.5,378.6 L471.5,378.7 L471.5,378.8 L471.5,378.9 L471.5,379 L471.5,379.1 L471.5,379.2 L471.5,379.3 L471.5,379.4 L471.5,379.5 L471.5,379.6 L471.5,379.7 L471.5,379.8 L471.5,379.9 L471.5,380 L471.5,380.1 L471.5,380.2 L471.5,380.3 L471.5,380.4 L471.5,380.5 L471.5,380.6 L471.5,380.7 L471.5,380.8 L471.5,380.9 L471.5,381 L471.5,381.1 L471.5,381.2 L471.5,381.3 L471.5,381.4 L471.5,381.5 L471.5,381.6 L471.5,381.7 L471.5,381.8 L471.5,381.9 L471.5,382 L471.5,382.1 L471.5,382.2 L471.5,382.3 L471.5,382.4 L471.5,382.5 L471.5,382.6 L471.5,382.7 L471.5,382.8 L471.5,382.9 L471.5,383 L471.5,383.1 L471.5,383.2 L471.5,383.3 L471.5,383.4 L471.5,383.5 L471.5,383.6 L471.5,383.7 L471.5,383.8 L471.5,383.9 L471.5,384 L471.5,384.1 L471.5,384.2 L471.5,384.3 L471.5,384.4 L471.5,384.5 L471.5,384.6 L471.5,384.7 L471.5,384.8 L471.5,384.9 L471.5,385 L471.5,385.1 L471.5,385.2 L471.5,385.3 L471.5,385.4 L471.5,385.5 L471.5,385.6 L471.5,385.7 L471.5,385.8 L471.5,385.9 L471.5,386 L471.5,386.1 L471.5,386.2 L471.5,386.3 L471.5,386.4 L471.5,386.5 L471.5,386.6 L471.5,386.7 L471.5,386.8 L471.5,386.9 L471.5,387 L471.5,387.1 L471.5,387.2 L471.5,387.3 L471.5,387.4 L471.5,387.5 L471.5,387.6 L471.5,387.7 L471.5,387.8 L471.5,387.9 L471.5,388 L471.5,388.1 L471.5,388.2 L471.5,388.3 L471.5,388.4 L471.5,388.5 L471.5,388.6 L471.5,388.7 L471.5,388.8 L471.5,388.9 L471.5,389 L471.5,389.1 L471.5,389.2 L471.5,389.3 L471.5,389.4 L471.5,389.5 L471.5,389.6 L471.5,389.7 L471.5,389.8 L471.5,389.9 L471.5,390 L471.5,390.1 L471.5,390.2 L471.5,390.3 L471.5,390.4 L471.5,390.5 L471.5,390.6 L471.5,390.7 L471.5,390.8 L471.5,390.9 L471.5,391 L471.5,391.1 L471.5,391.2 L471.5,391.3 L471.5,391.4 L471.5,391.5 L471.5,391.6 L471.5,391.7 L471.5,391.8 L471.5,391.9 L471.5,392 L471.5,392.1 L471.5,392.2 L471.5,392.3 L471.5,392.4 L471.5,392.5 L471.5,392.6 L471.5,392.7 L471.5,392.8 L471.5,392.9 L471.5,393 L471.5,393.1 L471.5,393.2 L471.5,393.3 L471.5,393.4 L471.5,393.5 L471.5,393.6 L471.5,393.7 L471.5,393.8 L471.5,393.9 L471.5,394 L471.5,394.1 L471.5,394.2 L471.5,394.3 L471.5,394.4 L471.5,394.5 L471.5,394.6 L471.5,394.7 L471.5,394.8 L471.5,394.9 L471.5,395 L471.5,395.1 L471.5,395.2 L471.5,395.3 L471.5,395.4 L471.5,395.5 L471.5,395.6 L471.5,395.7 L471.5,395.8 L471.5,395.9 L471.5,396 L471.5,396.1 L471.5,396.2 L471.5,396.3 L471.5,396.4 L471.5,396.5 L471.5,396.6 L471.5,396.7 L471.5,396.8 L471.5,396.9 L471.5,397 L471.5,397.1 L471.5,397.2 L471.5,397.3 L471.5,397.4 L471.5,397.5 L471.5,397.6 L471.5,397.7 L471.5,397.8 L471.5,397.9 L471.5,398 L471.5,398.1 L471.5,398.2 L471.5,398.3 L471.5,398.4 L471.5,398.5 L471.5,398.6 L471.5,398.7 L471.5,398.8 L471.5,398.9 L471.5,399 L471.5,399.1 L471.5,399.2 L471.5,399.3 L471.5,399.4 L471.5,399.5 L471.5,399.6 L471.5,399.7 L471.5,399.8 L471.5,399.9 L471.5,400 L471.5,400.1 L471.5,400.2 L471.5,400.3 L471.5,400.4 L471.5,400.5 L471.5,400.6 L471.5,400.7 L471.5,400.8 L471.5,400.9 L471.5,401 L471.5,401.1 L471.5,401.2 L471.5,401.3 L471.5,401.4 L471.5,401.5 L471.5,401.6 L471.5,401.7 L471.5,401.8 L471.5,401.9 L471.5,402 L471.5,402.1 L471.5,402.2 L471.5,402.3 L471.5,402.4 L471.5,402.5 L471.5,402.6 L471.5,402.7 L471.5,402.8 L471.5,402.9 L471.5,403 L471.5,403.1 L471.5,403.2 L471.5,403.3 L471.5,403.4 L471.5,403.5 L471.5,403.6 L471.5,403.7 L471.5,403.8 L471.5,403.9 L471.5,404 L471.5,404.1 L471.5,404.2 L471.5,404.3 L471.5,404.4 L471.5,404.5 L471.5,404.6 L471.5,404.7 L471.5,404.8 L471.5,404.9 L471.5,405 L471.5,405.1 L471.5,405.2 L471.5,405.3 L471.5,405.4 L471.5,405.5 L471.5,405.6 L471.5,405.7 L471.5,405.8 L471.5,405.9 L471.5,406 L471.5,406.1 L471.5,406.2 L471.5,406.3 L471.5,406.4 L471.5,406.5 L471.5,406.6 L471.5,406.7 L471.5,406.8 L471.5,406.9 L471.5,407 L471.5,407.1 L471.5,407.2 L471.5,407.3 L471.5,407.4 L471.5,407.5 L471.5,407.6 L471.5,407.7 L471.5,407.8 L471.5,407.9 L471.5,408 L471.5,408.1 L471.5,408.2 L471.5,408.3 L471.5,408.4 L471.5,408.5 L471.5,408.6 L471.5,408.7 L471.5,408.8 L471.5,408.9 L471.5,409 L471.5,409.1 L471.0,409.2 L471.0,33.2 Z" fill="#3dbb8e" stroke="#3dbb8e" stroke-width="1.2" stroke-linejoin="round"/>
<line x1="470.2" y1="33.2" x2="470.2" y2="410" stroke="#444" stroke-width="0.8" />
<line x1="472" y1="167.8" x2="551" y2="167.8" stroke="#b8245e" stroke-width="2.0" stroke-dasharray="8.5,5.8"/>
<line x1="472" y1="221.6" x2="551" y2="221.6" stroke="#b8245e" stroke-width="2.0" stroke-dasharray="8.5,5.8"/>
<rect x="554" y="160.5" width="15" height="14" fill="#fff"/>
<text x="555" y="171.8" font-size="11" fill="#b8245e" font-style="italic">E<tspan font-size="7.5" dy="2.5" font-style="normal">C</tspan></text>
<text x="555" y="225.6" font-size="11" fill="#b8245e" font-style="italic">E<tspan font-size="7.5" dy="2.5" font-style="normal">V</tspan></text>
<path d="M471.0,33.2 L675.8,33.2 L675.8,409.2 L471.0,409.2" fill="none" stroke="#1c1c1c" stroke-width="1.75"/>
<line x1="539.27" y1="33.2" x2="539.27" y2="37.2" stroke="#1c1c1c" stroke-width="1.2" />
<line x1="539.27" y1="409.2" x2="539.27" y2="405.2" stroke="#1c1c1c" stroke-width="1.2" />
<line x1="607.53" y1="33.2" x2="607.53" y2="37.2" stroke="#1c1c1c" stroke-width="1.2" />
<line x1="607.53" y1="409.2" x2="607.53" y2="405.2" stroke="#1c1c1c" stroke-width="1.2" />
<line x1="471" y1="71.6" x2="475" y2="71.6" stroke="#1c1c1c" stroke-width="1.2" />
<line x1="675.8" y1="71.6" x2="671.8" y2="71.6" stroke="#1c1c1c" stroke-width="1.2" />
<line x1="471" y1="146.8" x2="475" y2="146.8" stroke="#1c1c1c" stroke-width="1.2" />
<line x1="675.8" y1="146.8" x2="671.8" y2="146.8" stroke="#1c1c1c" stroke-width="1.2" />
<line x1="471" y1="222" x2="475" y2="222" stroke="#1c1c1c" stroke-width="1.2" />
<line x1="675.8" y1="222" x2="671.8" y2="222" stroke="#1c1c1c" stroke-width="1.2" />
<line x1="471" y1="297.2" x2="475" y2="297.2" stroke="#1c1c1c" stroke-width="1.2" />
<line x1="675.8" y1="297.2" x2="671.8" y2="297.2" stroke="#1c1c1c" stroke-width="1.2" />
<line x1="471" y1="372.4" x2="475" y2="372.4" stroke="#1c1c1c" stroke-width="1.2" />
<line x1="675.8" y1="372.4" x2="671.8" y2="372.4" stroke="#1c1c1c" stroke-width="1.2" />
<text x="467.6" y="75.6" font-size="11.2" fill="#222" text-anchor="end" font-weight="normal" font-style="normal" >4</text>
<text x="467.6" y="150.8" font-size="11.2" fill="#222" text-anchor="end" font-weight="normal" font-style="normal" >2</text>
<text x="467.6" y="226" font-size="11.2" fill="#222" text-anchor="end" font-weight="normal" font-style="normal" >0</text>
<text x="467.6" y="301.2" font-size="11.2" fill="#222" text-anchor="end" font-weight="normal" font-style="normal" >-2</text>
<text x="467.6" y="376.4" font-size="11.2" fill="#222" text-anchor="end" font-weight="normal" font-style="normal" >-4</text>
<text x="471" y="424.8" font-size="11.2" fill="#222" text-anchor="middle" font-weight="normal" font-style="normal" >0</text>
<text x="539.27" y="424.8" font-size="11.2" fill="#222" text-anchor="middle" font-weight="normal" font-style="normal" >200</text>
<text x="607.53" y="424.8" font-size="11.2" fill="#222" text-anchor="middle" font-weight="normal" font-style="normal" >400</text>
<text x="675.8" y="424.8" font-size="11.2" fill="#222" text-anchor="middle" font-weight="normal" font-style="normal" >600</text>
<text x="577.6" y="445.2" font-size="12" fill="#222" text-anchor="middle" font-weight="normal" font-style="normal" >pDOS (arb. u.)</text>
<text transform="translate(450.4,222.8) rotate(-90)" font-size="12" fill="#222" text-anchor="middle"><tspan font-style="italic">E</tspan> - <tspan font-style="italic">E</tspan><tspan font-size="8" dy="2.2">V</tspan><tspan dy="-2.2"> (eV)</tspan></text>
<text x="551.9" y="28.5" font-size="13.5" fill="#5cb840" text-anchor="start" font-weight="normal" font-style="normal" >Cl-facing</text>
<text x="516.6" y="84.1" font-size="10.6" fill="#3dbb8e" text-anchor="start" font-weight="normal" font-style="normal" >CHCl<tspan font-size="7.5" dy="2.5">3</tspan></text>
<text x="516.6" y="95.9" font-size="10.6" fill="#3dbb8e" text-anchor="start" font-weight="normal" font-style="normal" >states</text>
<text x="564.9" y="133.9" font-size="10.6" fill="#111" text-anchor="start" font-weight="normal" font-style="normal" >WSe<tspan font-size="7.5" dy="2.5">2</tspan></text>
<text x="564.8" y="147.4" font-size="10.6" fill="#111" text-anchor="start" font-weight="normal" font-style="normal" >states</text>
<rect x="569.2" y="265.5" width="95.5" height="119.10000000000002" fill="#fff"/>
<path d="M570.6,288.2 L571.3,285 L571.8,281 L572.4,277.8 L573.6,276.1 L577,275.4 L581,275 L584,274.6 L584,274.71 L584.6,271.65 L585.2,274.67 L585.8,271.31 L586.4,274.43 L587,270.84 L587.6,273.6 L588.2,270.11 L588.8,274.23 L589.4,269.77 L590,274 L590.6,268.99 L591.2,273.42 L591.8,268.61 L592.4,273.3 L593,268.35 L593.6,272.63 L594.2,267.68 L594.8,272.67 L595.4,267.65 L596,272.92 L596.6,267 L597.2,272.76 L597.8,266.98 L598.4,272.4 L599,266.98 L599.6,271.66 L600.2,267.42 L600.8,271.65 L601.4,267.03 L602,272.15 L602.6,267.42 L603.2,271.34 L603.8,267.48 L604.4,271.37 L605,267.31 L605.6,270.88 L606.2,267.46 L606.8,271.12 L607.4,267.48 L608,271.11 L608.6,267.08 L609.2,270.44 L609.8,267 L610.4,269.28 L611,266.94 L611.6,269.21 L612.2,267.26 L612.8,269.15 L613.4,267.31 L614,269.08 L614.6,267.09 L615.2,269.01 L615.8,267.19 L616.4,268.95 L617,267.19 L617.6,268.88 L618.2,266.93 L618.8,268.82 L619.4,266.91 L620,268.75 L620.6,267.41 L621.2,268.21 L621.8,267.37 L622.4,268.34 L623,267.25 L623.6,267.82 L624.2,266.93 L624.8,267.78 L625.4,267.47 L626,267.61 L626.6,267.35 L627.2,268.07 L627.8,267.47 L628.4,267.36 L629,267.11 L629.6,267.33 L630.2,267.37 L630.8,266.76 L631.4,267.35 L632,267.19 L632.6,267.42 L633.2,266.31 L633.8,267.47 L634.4,266.17 L635,267.1 L635.6,266.44 L636.2,267.45 L636.8,266.01 L637.4,267.45 L638,266 L638.6,267.09 L639.2,265.6 L639.8,267.01 L640.4,265.2 L641,266.99 L641.6,265.55 L642.2,267.5 L642.8,264.89 L643.4,266.93 L644,265.44 L644.6,267.22 L645.2,264.72 L645.8,267.04" fill="none" stroke="#000" stroke-width="1.5" stroke-linejoin="round" stroke-linecap="round" />
<clipPath id="clipj"><rect x="569.2" y="265.5" width="95.5" height="119.10000000000002"/></clipPath>
<g clip-path="url(#clipj)">
<path d="M570.2,345.6 L574.3,345.6 L576,348 L579,350.5 L579.87,350.5 L590.6,350.7 L580.37,350.91 L595.03,351.11 L580.48,351.31 L595.69,351.51 L581.39,351.72 L591.67,351.92 L581.32,352.13 L596.14,352.33 L580.79,352.53 L590.81,352.73 L579.97,352.94 L591.4,353.14 L579.54,353.35 L592.85,353.55 L580.45,353.75 L591.1,353.95 L581.22,354.16 L599.7,354.36 L581.15,354.57 L593.65,354.77 L581.05,354.97 L592.9,355.17 L580.05,355.38 L590.73,355.58 L579.9,355.79 L593.92,355.99 L580.05,356.19 L595.42,356.39 L583.62,356.6 L601.89,356.8 L582.22,357.02 L593.72,357.22 L583.12,357.44 L596.03,357.64 L582.12,357.85 L594.84,358.05 L582.88,358.27 L594.09,358.47 L582.27,358.69 L595.14,358.89 L583.37,359.11 L596.41,359.31 L582.81,359.52 L594.12,359.72 L583.31,359.94 L596.36,360.14 L581.54,360.36 L603.8,360.56 L583.21,360.78 L593.73,360.98 L582.32,361.19 L593.72,361.39 L583.34,361.61 L594.07,361.81 L582.27,362.03 L596.29,362.23 L583.17,362.45 L595.49,362.65 L582.42,362.86 L595.42,363.06 L582.49,363.28 L599.01,363.48 L588.38,363.7 L645.4,363.9 L590.18,364.1 L619.65,364.3 L590.73,364.5 L618.48,364.7 L588.75,364.9 L618.45,365.1 L587.39,365.3 L620.38,365.5 L589.71,365.7 L634.01,365.9 L588.46,366.1 L618.54,366.3 L585.7,366.5 L623.53,366.7 L589.1,366.9 L618.46,367.1 L588.27,367.3 L627.05,367.5 L590.74,367.7 L615.85,367.9 L591.4,368.11 L607.47,368.31 L590.68,368.52 L611.18,368.72 L590.47,368.93 L611.21,369.13 L590.01,369.34 L616.17,369.54 L592.29,369.75 L616.2,369.95 L590.48,370.16 L620,370.36 L592.27,370.57 L616.02,370.77 L591.71,370.98 L606.33,371.18 L590.81,371.39 L606.77,371.59 L599.73,371.8 L653.13,372 L597.74,372.23 L643.47,372.43 L599.6,372.65 L635.92,372.85 L598.69,373.07 L638.81,373.27 L594.25,373.5 L632.74,373.7 L595.51,373.93 L664.2,374.12 L597.65,374.35 L637.62,374.55 L594.93,374.77 L632.63,374.97 L594.1,375.2 L654.83,375.4 L599.05,375.62 L653.2,375.82 L600.63,376.05 L637.36,376.25 L593.65,376.47 L640.64,376.67 L592.09,376.9 L600.47,377.1 L590.74,377.3 L603.47,377.5 L590.57,377.7 L607.8,377.9 L591.85,378.1 L600.02,378.3 L590.89,378.5 L603.19,378.7 L591.13,378.9 L600.02,379.1 L591.78,379.3 L603.28,379.5 L592.17,379.7 L604.19,379.9 L591.95,380.1 L602.77,380.3 L590.51,380.5 L600.02,380.7 L581,380.9 L590.63,381.1 L581.72,381.34 L591.44,381.54 L581.11,381.79 L590.47,381.99 L580.9,382.23 L593.34,382.43 L581.37,382.67 L594.89,382.87 L580.87,383.11 L594.45,383.31 L580.72,383.56 L598.7,383.76" fill="none" stroke="#000" stroke-width="1.5" stroke-linejoin="round" stroke-linecap="round" />
</g>
<path d="M569.2,265.5 L664.7,265.5 L664.7,384.6 L569.2,384.6" fill="none" stroke="#1c1c1c" stroke-width="1.3"/>
<line x1="569.5" y1="265.5" x2="569.5" y2="384.6" stroke="#3dbb8e" stroke-width="2.0" />
<line x1="569.2" y1="306" x2="572.2" y2="306" stroke="#1c1c1c" stroke-width="1.1" />
<line x1="664.7" y1="306" x2="661.7" y2="306" stroke="#1c1c1c" stroke-width="1.1" />
<line x1="569.2" y1="345.6" x2="572.2" y2="345.6" stroke="#1c1c1c" stroke-width="1.1" />
<line x1="664.7" y1="345.6" x2="661.7" y2="345.6" stroke="#1c1c1c" stroke-width="1.1" />
<line x1="616.95" y1="265.5" x2="616.95" y2="268.5" stroke="#1c1c1c" stroke-width="1.1" />
<line x1="616.95" y1="384.6" x2="616.95" y2="381.6" stroke="#1c1c1c" stroke-width="1.1" />
<text x="565.4" y="270.4" font-size="11.2" fill="#222" text-anchor="end" font-weight="normal" font-style="normal" >2</text>
<text x="565.4" y="310" font-size="11.2" fill="#222" text-anchor="end" font-weight="normal" font-style="normal" >1</text>
<text x="565.4" y="349.6" font-size="11.2" fill="#222" text-anchor="end" font-weight="normal" font-style="normal" >0</text>
<text x="565.4" y="389.2" font-size="11.2" fill="#222" text-anchor="end" font-weight="normal" font-style="normal" >-1</text>
<text x="569.2" y="399.6" font-size="11.2" fill="#222" text-anchor="middle" font-weight="normal" font-style="normal" >0</text>
<text x="616.95" y="399.6" font-size="11.2" fill="#222" text-anchor="middle" font-weight="normal" font-style="normal" >100</text>
<text x="664.7" y="399.6" font-size="11.2" fill="#222" text-anchor="middle" font-weight="normal" font-style="normal" >200</text>
<text x="581.4" y="294" font-size="11" fill="#b8245e" font-style="italic">E<tspan font-size="7.5" dy="2.5" font-style="normal">C</tspan></text>
<text x="582" y="347.4" font-size="11" fill="#b8245e" font-style="italic">E<tspan font-size="7.5" dy="2.5" font-style="normal">V</tspan></text>
<rect x="575" y="238.5" width="84" height="24.5" fill="#fff"/>
<text x="616" y="248.3" font-size="10.6" fill="#3dbb8e" text-anchor="middle" font-weight="normal" font-style="normal" >no CHCl<tspan font-size="7.5" dy="2.5">3</tspan><tspan dy="-2.5"> states</tspan></text>
<text x="616" y="260.5" font-size="10.6" fill="#3dbb8e" text-anchor="middle" font-weight="normal" font-style="normal" >in WSe<tspan font-size="7.5" dy="2.5">2</tspan><tspan dy="-2.5"> bandgap.</tspan></text>
</svg></body></html>
